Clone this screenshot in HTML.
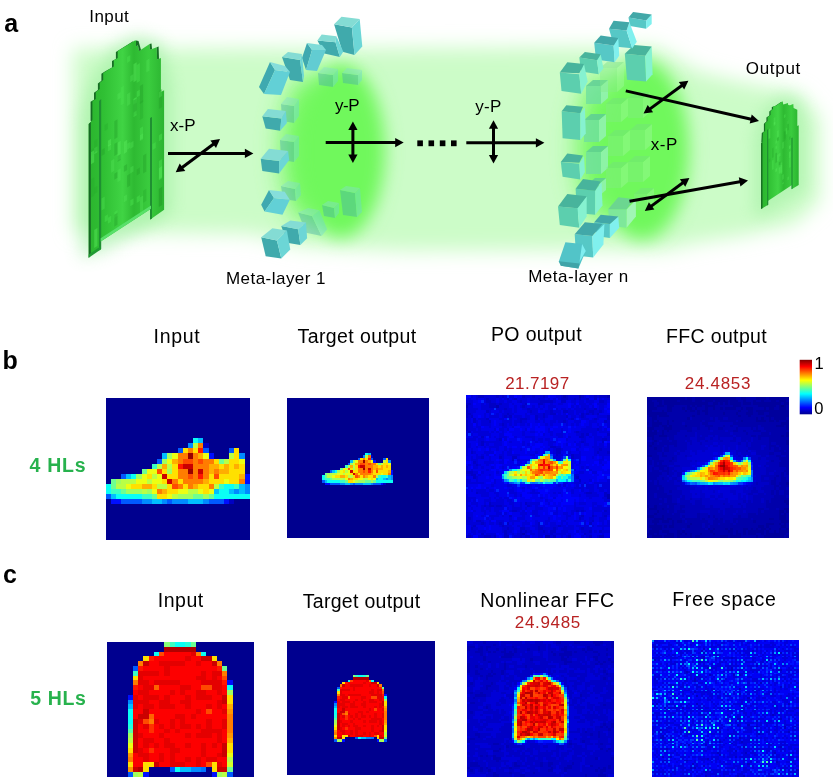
<!DOCTYPE html>
<html lang="en"><head><meta charset="utf-8"><title>Figure</title>
<style>
html,body{margin:0;padding:0;background:#fff}
svg{display:block}
text{font-family:"Liberation Sans",Arial,Helvetica,sans-serif;white-space:pre}
</style></head><body>
<svg width="833" height="782" viewBox="0 0 833 782">
<rect width="833" height="782" fill="#fff"/>
<defs>
<filter id="b9" x="-20%" y="-20%" width="140%" height="140%"><feGaussianBlur stdDeviation="9.5"/></filter>
<filter id="b6" x="-30%" y="-30%" width="160%" height="160%"><feGaussianBlur stdDeviation="8"/></filter>
<filter id="b12" x="-50%" y="-50%" width="200%" height="200%"><feGaussianBlur stdDeviation="8.5"/></filter>
<linearGradient id="jet" x1="0" y1="0" x2="0" y2="1">
<stop offset="0" stop-color="#800000"/><stop offset="0.125" stop-color="#ff0000"/><stop offset="0.375" stop-color="#ffff00"/><stop offset="0.625" stop-color="#00ffff"/><stop offset="0.875" stop-color="#0000ff"/><stop offset="1" stop-color="#00008f"/>
</linearGradient>
<linearGradient id="ing" x1="0" y1="0" x2="1" y2="0"><stop offset="0" stop-color="#2bb42e"/><stop offset="0.2" stop-color="#30c034"/><stop offset="0.45" stop-color="#40d444"/><stop offset="0.6" stop-color="#2eba32"/><stop offset="0.8" stop-color="#3acc3e"/><stop offset="1" stop-color="#2bb430"/></linearGradient>
<filter id="b14" x="-80%" y="-50%" width="260%" height="200%"><feGaussianBlur stdDeviation="13"/></filter>
<radialGradient id="blob"><stop offset="0" stop-color="#70f85c"/><stop offset="0.5" stop-color="#72f85e" stop-opacity="0.97"/><stop offset="0.68" stop-color="#78f864" stop-opacity="0.72"/><stop offset="0.82" stop-color="#80f86c" stop-opacity="0.36"/><stop offset="0.93" stop-color="#88f874" stop-opacity="0.09"/><stop offset="1" stop-color="#88f874" stop-opacity="0"/></radialGradient>
</defs>
<g filter="url(#b9)"><polygon points="73,49 655,47 700,72 740,82 800,94 820,118 820,200 795,224 740,236 700,242 665,250 400,251 300,246 250,234 73,232" fill="#ccfcc8"/></g>
<g filter="url(#b6)" opacity="0.45"><polygon points="80,118 90,82 114,46 136,34 162,42 172,86 172,212 154,224 104,252 80,258" fill="#8cea90"/></g>
<g filter="url(#b6)" opacity="0.4"><polygon points="754,138 762,112 782,93 801,100 806,126 806,190 768,214 754,218" fill="#8cea90"/></g>
<g filter="url(#b14)" opacity="0.95"><ellipse cx="309" cy="150" rx="29" ry="74" fill="#74f860"/></g>
<g filter="url(#b12)"><ellipse cx="341" cy="151" rx="44" ry="87" fill="#70f85c"/></g>
<g filter="url(#b14)" opacity="0.95"><ellipse cx="602" cy="148" rx="26" ry="74" fill="#74f860"/></g>
<g filter="url(#b12)"><ellipse cx="642" cy="150" rx="47" ry="90" fill="#70f85c"/></g>
<g opacity="0.4">
<polygon points="281,104 294,106 294,123 282,121" fill="#40aaac"/><polygon points="294,106 299,99 299,116 294,123" fill="#6cd6d6"/><polygon points="281,104 287,97 299,99 294,106" fill="#84dcd4"/>
<polygon points="280,140 294,142 294,162 281,160" fill="#40aaac"/><polygon points="294,142 299,136 299,156 294,162" fill="#6cd6d6"/><polygon points="280,140 286,134 299,136 294,142" fill="#84dcd4"/>
<polygon points="281,186 295,189 296,201 283,199" fill="#40aaac"/><polygon points="295,189 300,183 301,195 296,201" fill="#6cd6d6"/><polygon points="281,186 288,181 300,183 295,189" fill="#84dcd4"/>
<polygon points="322,205 334,208 335,218 324,216" fill="#40aaac"/><polygon points="334,208 339,203 339,213 335,218" fill="#6cd6d6"/><polygon points="322,205 328,201 339,203 334,208" fill="#84dcd4"/>
<polygon points="340,190 355,193 357,217 343,215" fill="#40aaac"/><polygon points="355,193 360,188 362,212 357,217" fill="#6cd6d6"/><polygon points="340,190 346,186 360,188 355,193" fill="#84dcd4"/>
<polygon points="298.1,212.5 312,216 321.6,236 306,232.7" fill="#40aaac"/><polygon points="312,216 319.4,210.3 327.2,229.3 321.6,236" fill="#6cd6d6"/><polygon points="298.1,212.5 308.2,208 319.4,210.3 312,216" fill="#84dcd4"/>
<polygon points="318,73 333,75 333,87 319,85" fill="#40aaac"/><polygon points="333,75 338,69 338,81 333,87" fill="#6cd6d6"/><polygon points="318,73 324,67 338,69 333,75" fill="#84dcd4"/>
<polygon points="342,73 358,75 358,85 343,83" fill="#40aaac"/><polygon points="358,75 362,70 362,80 358,85" fill="#6cd6d6"/><polygon points="342,73 347,68 362,70 358,75" fill="#84dcd4"/>
</g>
<polygon points="334.1,24.2 351.9,27.6 354.5,54.9 342.4,51.8" fill="#40aaac"/><polygon points="351.9,27.6 359.7,19 362.3,46.6 354.5,54.9" fill="#6cd6d6"/><polygon points="334.1,24.2 341.5,16.8 359.7,19 351.9,27.6" fill="#84dcd4"/>
<polygon points="317.4,40.6 335.5,42.3 339.8,57 324.3,53.5" fill="#40aaac"/><polygon points="335.5,42.3 336.4,36.3 343.3,51.8 339.8,57" fill="#6cd6d6"/><polygon points="317.4,40.6 321.7,34.5 336.4,36.3 335.5,42.3" fill="#84dcd4"/>
<polygon points="302,58 307,43 312,50 306,70" fill="#3fa9b0"/><polygon points="312,50 326,50 317,71 306,70" fill="#62ccd2"/><polygon points="307,43 322,45 326,50 312,50" fill="#7fdcd8"/>
<polygon points="282,57 300,60 303,82 290,80" fill="#40aaac"/><polygon points="300,60 302,54 304,76 303,82" fill="#6cd6d6"/><polygon points="282,57 288,52 302,54 300,60" fill="#84dcd4"/>
<polygon points="259,87 270,62 275,70 264,94" fill="#3fa9b0"/><polygon points="275,70 290,72 281,95 264,94" fill="#62d0d6"/><polygon points="270,62 285,66 290,72 275,70" fill="#86dedb"/>
<polygon points="262.3,116.3 281.3,118.5 280.2,130.8 265.7,128.6" fill="#40aaac"/><polygon points="281.3,118.5 285.8,111.1 286.9,123 280.2,130.8" fill="#6cd6d6"/><polygon points="262.3,116.3 267.9,108.9 285.8,111.1 281.3,118.5" fill="#84dcd4"/>
<polygon points="260.7,158.8 279.1,161 279.1,173.4 262.3,171.1" fill="#40aaac"/><polygon points="279.1,161 288.1,151 289.2,159.9 279.1,173.4" fill="#6cd6d6"/><polygon points="260.7,158.8 269,148.7 288.1,151 279.1,161" fill="#84dcd4"/>
<polygon points="261.2,204.7 269,190.1 274,198 264.6,211.4" fill="#3fa9b0"/><polygon points="274,198 289.8,199.8 282.5,214.8 264.6,211.4" fill="#62d0d6"/><polygon points="269,190.1 284.7,191.7 289.8,199.8 274,198" fill="#86dedb"/>
<polygon points="281.3,226 298.1,229.3 300.4,245 286.9,242.7" fill="#40aaac"/><polygon points="298.1,229.3 306,222.6 307.1,238.3 300.4,245" fill="#6cd6d6"/><polygon points="281.3,226 290.3,220.4 306,222.6 298.1,229.3" fill="#84dcd4"/>
<polygon points="261.2,237.2 276.9,240.5 281.3,258.4 265.7,256.2" fill="#40aaac"/><polygon points="276.9,240.5 286.9,230.4 290.3,249.5 281.3,258.4" fill="#6cd6d6"/><polygon points="261.2,237.2 272.4,228.2 286.9,230.4 276.9,240.5" fill="#84dcd4"/>
<g opacity="0.8">
<polygon points="586,86 601,86 601,104 586,104" fill="#70e0a0"/><polygon points="601,86 608,80 608,98 601,104" fill="#94f2b8"/><polygon points="586,86 593,80 608,80 601,86" fill="#5ccc98"/>
<polygon points="584,120 599,120 599,142 584,142" fill="#70e0a0"/><polygon points="599,120 606,114 606,136 599,142" fill="#94f2b8"/><polygon points="584,120 591,114 606,114 599,120" fill="#5ccc98"/>
<polygon points="586,152 601,152 601,174 586,174" fill="#70e0a0"/><polygon points="601,152 608,146 608,168 601,174" fill="#94f2b8"/><polygon points="586,152 593,146 608,146 601,152" fill="#5ccc98"/>
<polygon points="588,184 599,184 599,196 588,196" fill="#70e0a0"/><polygon points="599,184 606,178 606,190 599,196" fill="#94f2b8"/><polygon points="588,184 595,178 606,178 599,184" fill="#5ccc98"/>
</g>
<g opacity="0.38">
<polygon points="600,68 617,68 617,92 600,92" fill="#84ec88"/><polygon points="617,68 624,62 624,86 617,92" fill="#a4f8a4"/><polygon points="600,68 607,62 624,62 617,68" fill="#74dc84"/>
<polygon points="606,104 621,104 621,122 606,122" fill="#84ec88"/><polygon points="621,104 628,98 628,116 621,122" fill="#a4f8a4"/><polygon points="606,104 613,98 628,98 621,104" fill="#74dc84"/>
<polygon points="628,98 643,98 643,118 628,118" fill="#84ec88"/><polygon points="643,98 650,92 650,112 643,118" fill="#a4f8a4"/><polygon points="628,98 635,92 650,92 643,98" fill="#74dc84"/>
<polygon points="608,136 623,136 623,156 608,156" fill="#84ec88"/><polygon points="623,136 630,130 630,150 623,156" fill="#a4f8a4"/><polygon points="608,136 615,130 630,130 623,136" fill="#74dc84"/>
<polygon points="630,130 645,130 645,150 630,150" fill="#84ec88"/><polygon points="645,130 652,124 652,144 645,150" fill="#a4f8a4"/><polygon points="630,130 637,124 652,124 645,130" fill="#74dc84"/>
<polygon points="606,168 621,168 621,188 606,188" fill="#84ec88"/><polygon points="621,168 628,162 628,182 621,188" fill="#a4f8a4"/><polygon points="606,168 613,162 628,162 621,168" fill="#74dc84"/>
<polygon points="628,162 643,162 643,182 628,182" fill="#84ec88"/><polygon points="643,162 650,156 650,176 643,182" fill="#a4f8a4"/><polygon points="628,162 635,156 650,156 643,162" fill="#74dc84"/>
<polygon points="634,194 647,194 647,210 634,210" fill="#84ec88"/><polygon points="647,194 654,188 654,204 647,210" fill="#a4f8a4"/><polygon points="634,194 641,188 654,188 647,194" fill="#74dc84"/>
</g>
<polygon points="575.6,188.8 595.1,190.7 595.1,214.8 577,213" fill="#5ccfae"/><polygon points="595.1,190.7 601.6,182.3 602.5,205.5 595.1,214.8" fill="#86f2d0"/><polygon points="575.6,188.8 583,179 600.7,181.4 595.1,190.7" fill="#48b49c"/>
<polygon points="608.1,209.2 626.6,209.2 626.6,227.8 610,225.9" fill="#7ee89a"/><polygon points="626.6,209.2 635.9,199.9 635.9,216.6 626.6,227.8" fill="#a0f6b4"/><polygon points="608.1,209.2 618.3,197.2 634,199 626.6,209.2" fill="#6cd690"/>
<polygon points="624.8,53.8 645.2,55.7 646.1,81.6 627,79.8" fill="#5ccfae"/><polygon points="645.2,55.7 651.7,46.4 652.6,74.2 646.1,81.6" fill="#86f2d0"/><polygon points="624.8,53.8 634,45.1 651.7,46.4 645.2,55.7" fill="#48b49c"/>
<polygon points="628.5,17.6 646.1,20.4 646.1,28.8 630,26" fill="#56c8c6"/><polygon points="646.1,20.4 651.7,14.5 651.7,24.1 646.1,28.8" fill="#80f0ee"/><polygon points="628.5,17.6 633.1,12.1 651.7,14.5 646.1,20.4" fill="#42a8a8"/>
<polygon points="609,28.8 626.6,30.6 632.2,48.2 614,46.4" fill="#56c8c6"/><polygon points="626.6,30.6 629.4,22.3 636.8,41.7 632.2,48.6" fill="#80f0ee"/><polygon points="609,28.8 613.6,20.8 629.4,22.3 626.6,30.6" fill="#42a8a8"/>
<polygon points="594.2,42.7 613.6,45.5 614.6,62.2 596,59.4" fill="#56c8c6"/><polygon points="613.6,45.5 618.3,38 619.2,55.7 614.6,62.2" fill="#80f0ee"/><polygon points="594.2,42.7 600.7,35.6 618.3,38 613.6,45.5" fill="#42a8a8"/>
<polygon points="579.3,57.5 597,60.3 598.8,74.2 581,71.4" fill="#5ccfae"/><polygon points="597,60.3 600.7,54.2 603.4,68.6 598.8,74.2" fill="#86f2d0"/><polygon points="579.3,57.5 584.9,51.9 600.7,54.2 597,60.3" fill="#48b49c"/>
<polygon points="559.8,72.4 579.3,74.2 581.2,93.7 561.5,90.9" fill="#5ccfae"/><polygon points="579.3,74.2 584,64 587.7,81.6 581.2,93.7" fill="#86f2d0"/><polygon points="559.8,72.4 567.3,62.2 584,64 579.3,73.3" fill="#48b49c"/>
<polygon points="561.7,111.3 580.3,113.2 580.3,140 562.6,138.2" fill="#5ccfae"/><polygon points="580.3,113.2 584.9,107.6 585.8,133.6 580.3,140" fill="#86f2d0"/><polygon points="561.7,111.3 566.3,105.2 583,106.7 580.3,113.2" fill="#48b49c"/>
<polygon points="560.8,161.9 579.3,163.8 580.3,179.5 562.6,176.7" fill="#5ccfae"/><polygon points="579.3,163.8 584,156.3 584.9,172.1 580.3,179.5" fill="#86f2d0"/><polygon points="560.8,161.9 567.3,153.6 583,155.4 579.3,162.8" fill="#48b49c"/>
<polygon points="558,206.4 577.5,208.3 579.3,227.8 559.8,225" fill="#5ccfae"/><polygon points="577.5,208.3 586.7,196.2 586.7,216.6 579.3,227.8" fill="#86f2d0"/><polygon points="558,206.4 567.3,194 586.7,196.2 577.5,208.3" fill="#48b49c"/>
<polygon points="594.2,222.2 609.9,224.1 609.9,238 596,236" fill="#56c8c6"/><polygon points="609.9,224.1 618.3,216.6 619.2,227.8 609.9,238" fill="#80f0ee"/><polygon points="594.2,222.2 600.7,214.8 618.3,216.6 609.9,224.1" fill="#42a8a8"/>
<polygon points="574.7,234.3 592.3,236.1 593.2,257.4 576,255.6" fill="#56c8c6"/><polygon points="592.3,236.1 604.4,224.1 603.4,244.5 593.2,257.4" fill="#80f0ee"/><polygon points="574.7,234.3 584.9,222.2 602.5,224.1 592.3,236.1" fill="#42a8a8"/>
<polygon points="558.9,261.2 565.4,242.2 582.1,244.1 585.8,251 578.4,268.6 560.8,265.8" fill="#52c4c8"/>
<polygon points="579.5,262 582.1,244.1 585.8,251" fill="#7eeef0"/>
<polygon points="558.9,261.2 579.5,263.5 578.4,268.6 560.8,265.8" fill="#3fa4a8"/>
<polygon points="90.6,120.8 90.6,101.8 94,99.7 94,92.7 97.9,89.9 97.9,83.5 101.4,80.7 101.4,73.7 104.9,71.6 112,67.4 112,61 115.9,58.9 115.9,51.9 133.1,41.3 134.9,60 100,130 93,124" fill="#166d24"/>
<polygon points="88.7,124 92.4,120 92.4,101 95.8,98.9 95.8,91.9 99.7,89.1 99.7,82.7 103.2,79.9 103.2,72.9 106.7,70.8 113.8,66.6 113.8,60.2 117.7,58.1 117.7,51.1 134.9,40.5 136,40.5 136,46.2 137.9,45.2 139.1,51.1 149.6,44.1 149.9,49.7 156.7,47.2 157.1,59.5 160.9,58.1 160.9,91.9 164.1,90.2 164.1,209.8 151,219.1 151,208.7 100.7,241.5 100.7,249.5 93.3,252.8 88.7,257.8" fill="url(#ing)"/>
<polygon points="88.7,124 90.8,122 90.8,255.5 88.7,257.8" fill="#176a24"/>
<polygon points="99,101 101.2,99 101.2,249 99,250.3" fill="#1f8f32"/>
<polygon points="150,118 152,117 152,218.4 150,219.8" fill="#1f8f32"/>
<polygon points="88.7,257.8 100.7,249.5 100.7,246.3 88.7,254.5" fill="#1f9a32"/>
<polygon points="100.7,241.5 151,208.7 151,205.5 100.7,238.2" fill="#58e06a"/>
<polygon points="136,40.5 136,46.2 137.9,45.2 139.1,51.1 141,50 138.5,41" fill="#166d24"/>
<polygon points="149.6,44.1 149.9,49.7 152,49 151.5,43.5" fill="#166d24"/>
<polygon points="156.7,47.2 157.1,59.5 159,58.8 158.6,46.6" fill="#166d24"/>
<polygon points="761.3,142.5 761.8,133.1 763.9,131.5 763.9,123.7 766.4,121.5 766.4,117.5 769.3,115.6 769.3,111.5 771.8,109.5 771.8,107 774.7,106.2 781.4,101.7 782,115 770,146 763,143" fill="#166d24"/>
<polygon points="761.1,143.3 762.5,142 763,132.6 765.1,131 765.1,123.2 767.6,121 767.6,117 770.5,115.1 770.5,111 773,109 773,106.5 775.9,105.7 782.6,101.2 783.3,104.5 785,104 787.9,103 788.2,105 790,105.3 793.3,103.9 793.6,108 797.3,109.8 797.3,125.9 798.7,125.2 798.7,184.9 792,189 792,184.9 767.8,201 767.8,205 761.1,209" fill="url(#ing)"/>
<polygon points="761.1,143.3 762.5,142.3 762.5,208.2 761.1,209" fill="#176a24"/>
<polygon points="767,130 768.3,129 768.3,204.7 767,205.4" fill="#1f8f32"/>
<polygon points="791.4,138 792.6,137.4 792.6,188.6 791.4,189.3" fill="#1f8f32"/>
<polygon points="130.3,167.6 133.5,165.6 133.5,171.6 130.3,173.6" fill="#58ec5c" opacity="0.3"/><polygon points="136.7,91.4 139.9,89.4 139.9,95.4 136.7,97.4" fill="#48e04c" opacity="0.5"/><polygon points="107.9,145.6 111.1,143.6 111.1,149.6 107.9,151.6" fill="#58ec5c" opacity="0.3"/><polygon points="127.1,143.8 130.3,141.8 130.3,147.8 127.1,149.8" fill="#48e04c" opacity="0.5"/><polygon points="120.7,87.5 123.9,85.4 123.9,103.4 120.7,105.5" fill="#48e04c" opacity="0.5"/><polygon points="136.7,65.1 139.9,63.1 139.9,81.1 136.7,83.1" fill="#48e04c" opacity="0.5"/><polygon points="107.9,217.8 111.1,215.8 111.1,221.8 107.9,223.8" fill="#48e04c" opacity="0.5"/><polygon points="136.7,197.1 139.9,195.1 139.9,201.1 136.7,203.1" fill="#48e04c" opacity="0.5"/><polygon points="114.3,212 117.5,209.9 117.5,215.9 114.3,218" fill="#48e04c" opacity="0.5"/><polygon points="143.1,155.6 146.3,153.6 146.3,171.6 143.1,173.6" fill="#24a028" opacity="0.4"/><polygon points="101.5,150.1 104.7,148.1 104.7,154.1 101.5,156.1" fill="#24a028" opacity="0.4"/><polygon points="104.7,124.9 107.9,122.9 107.9,128.9 104.7,130.9" fill="#26a82a" opacity="0.35"/><polygon points="133.5,103.7 136.7,101.6 136.7,113.6 133.5,115.7" fill="#24a028" opacity="0.4"/><polygon points="139.9,128.2 143.1,126.2 143.1,138.2 139.9,140.2" fill="#48e04c" opacity="0.5"/><polygon points="123.9,165.9 127.1,163.9 127.1,169.9 123.9,171.9" fill="#24a028" opacity="0.4"/><polygon points="146.3,60.4 149.5,58.4 149.5,70.4 146.3,72.4" fill="#58ec5c" opacity="0.3"/><polygon points="101.5,198.5 104.7,196.4 104.7,208.4 101.5,210.5" fill="#58ec5c" opacity="0.3"/><polygon points="127.1,57 130.3,55 130.3,61 127.1,63" fill="#48e04c" opacity="0.5"/><polygon points="130.3,200.2 133.5,198.2 133.5,204.2 130.3,206.2" fill="#48e04c" opacity="0.5"/><polygon points="143.1,190.8 146.3,188.7 146.3,200.7 143.1,202.8" fill="#26a82a" opacity="0.35"/><polygon points="117.5,142.7 120.7,140.7 120.7,158.7 117.5,160.7" fill="#58ec5c" opacity="0.45"/><polygon points="127.1,175.6 130.3,173.6 130.3,185.6 127.1,187.6" fill="#24a028" opacity="0.4"/><polygon points="104.7,216.2 107.9,214.2 107.9,220.2 104.7,222.2" fill="#48e04c" opacity="0.5"/><polygon points="117.5,155.9 120.7,153.9 120.7,159.9 117.5,161.9" fill="#24a028" opacity="0.4"/><polygon points="114.3,173.8 117.5,171.8 117.5,177.8 114.3,179.8" fill="#24a028" opacity="0.4"/><polygon points="133.5,98.8 136.7,96.8 136.7,102.8 133.5,104.8" fill="#48e04c" opacity="0.5"/><polygon points="133.5,99.3 136.7,97.3 136.7,115.3 133.5,117.3" fill="#48e04c" opacity="0.5"/><polygon points="133.5,64.3 136.7,62.3 136.7,80.3 133.5,82.3" fill="#58ec5c" opacity="0.45"/><polygon points="111.1,160.7 114.3,158.7 114.3,170.7 111.1,172.7" fill="#58ec5c" opacity="0.3"/><polygon points="130.3,76.1 133.5,74.1 133.5,80.1 130.3,82.1" fill="#58ec5c" opacity="0.3"/><polygon points="117.5,94 120.7,92 120.7,98 117.5,100" fill="#58ec5c" opacity="0.3"/><polygon points="107.9,140.7 111.1,138.7 111.1,144.7 107.9,146.7" fill="#58ec5c" opacity="0.45"/><polygon points="139.9,102.1 143.1,100.1 143.1,118.1 139.9,120.1" fill="#26a82a" opacity="0.35"/><polygon points="139.9,197.6 143.1,195.6 143.1,213.6 139.9,215.6" fill="#58ec5c" opacity="0.3"/><polygon points="133.5,100.6 136.7,98.5 136.7,110.5 133.5,112.6" fill="#24a028" opacity="0.4"/><polygon points="123.9,196.3 127.1,194.3 127.1,200.3 123.9,202.3" fill="#58ec5c" opacity="0.3"/><polygon points="139.9,135.3 143.1,133.3 143.1,139.3 139.9,141.3" fill="#58ec5c" opacity="0.3"/><polygon points="139.9,86 143.1,84 143.1,102 139.9,104" fill="#24a028" opacity="0.4"/><polygon points="123.9,141.9 127.1,139.8 127.1,151.8 123.9,153.9" fill="#58ec5c" opacity="0.45"/><polygon points="136.7,169.6 139.9,167.6 139.9,173.6 136.7,175.6" fill="#24a028" opacity="0.4"/><polygon points="117.5,170.2 120.7,168.2 120.7,180.2 117.5,182.2" fill="#58ec5c" opacity="0.3"/><polygon points="114.3,214.8 117.5,212.8 117.5,224.8 114.3,226.8" fill="#24a028" opacity="0.4"/><polygon points="130.3,142.9 133.5,140.8 133.5,146.8 130.3,148.9" fill="#58ec5c" opacity="0.3"/><polygon points="127.1,94.2 130.3,92.1 130.3,104.1 127.1,106.2" fill="#58ec5c" opacity="0.3"/><polygon points="114.3,144 117.5,142 117.5,154 114.3,156" fill="#24a028" opacity="0.4"/><polygon points="114.3,121.2 117.5,119.2 117.5,137.2 114.3,139.2" fill="#24a028" opacity="0.4"/>
<polygon points="158.9,91.1 162.1,89.1 162.1,107.1 158.9,109.1" fill="#24a028" opacity="0.4"/><polygon points="158.9,135.3 162.1,133.3 162.1,139.3 158.9,141.3" fill="#48e04c" opacity="0.5"/><polygon points="158.9,189 162.1,187 162.1,205 158.9,207" fill="#24a028" opacity="0.4"/><polygon points="158.9,161.1 162.1,159.1 162.1,177.1 158.9,179.1" fill="#48e04c" opacity="0.5"/><polygon points="158.9,188.8 162.1,186.8 162.1,204.8 158.9,206.8" fill="#24a028" opacity="0.4"/><polygon points="158.9,168.2 162.1,166.1 162.1,178.1 158.9,180.2" fill="#58ec5c" opacity="0.45"/><polygon points="152.5,144.1 155.7,142 155.7,148 152.5,150.1" fill="#48e04c" opacity="0.5"/><polygon points="158.9,92.1 162.1,90.1 162.1,96.1 158.9,98.1" fill="#58ec5c" opacity="0.3"/>
<polygon points="94.2,148.2 97.4,146.2 97.4,152.2 94.2,154.2" fill="#58ec5c" opacity="0.45"/><polygon points="91,149.9 94.2,147.9 94.2,153.9 91,155.9" fill="#26a82a" opacity="0.35"/><polygon points="91,179.4 94.2,177.4 94.2,195.4 91,197.4" fill="#26a82a" opacity="0.35"/><polygon points="91,152.3 94.2,150.2 94.2,162.2 91,164.3" fill="#58ec5c" opacity="0.45"/><polygon points="94.2,230 97.4,228 97.4,246 94.2,248" fill="#58ec5c" opacity="0.45"/><polygon points="94.2,187.9 97.4,185.9 97.4,191.9 94.2,193.9" fill="#26a82a" opacity="0.35"/><polygon points="94.2,140.9 97.4,138.8 97.4,150.8 94.2,152.9" fill="#26a82a" opacity="0.35"/>
<polygon points="775.4,140.9 777.1,139.8 777.1,143 775.4,144.1" fill="#58ec5c" opacity="0.3"/><polygon points="777.1,155 778.8,153.9 778.8,160.3 777.1,161.4" fill="#58ec5c" opacity="0.3"/><polygon points="772,160.4 773.7,159.4 773.7,169 772,170" fill="#48e04c" opacity="0.5"/><polygon points="789,152.1 790.7,151 790.7,157.4 789,158.5" fill="#58ec5c" opacity="0.45"/><polygon points="777.1,138.1 778.8,137 778.8,140.2 777.1,141.3" fill="#24a028" opacity="0.4"/><polygon points="782.2,174.9 783.9,173.9 783.9,183.5 782.2,184.5" fill="#58ec5c" opacity="0.3"/><polygon points="777.1,131 778.8,129.9 778.8,136.3 777.1,137.4" fill="#58ec5c" opacity="0.3"/><polygon points="789,136.9 790.7,135.8 790.7,139 789,140.1" fill="#26a82a" opacity="0.35"/><polygon points="780.5,165.4 782.2,164.4 782.2,170.8 780.5,171.8" fill="#58ec5c" opacity="0.3"/><polygon points="773.7,118.1 775.4,117.1 775.4,123.5 773.7,124.5" fill="#58ec5c" opacity="0.3"/><polygon points="787.3,121.3 789,120.2 789,123.4 787.3,124.5" fill="#58ec5c" opacity="0.45"/><polygon points="782.2,179.9 783.9,178.8 783.9,182 782.2,183.1" fill="#24a028" opacity="0.4"/><polygon points="768.6,129.4 770.3,128.3 770.3,137.9 768.6,139" fill="#58ec5c" opacity="0.45"/><polygon points="778.8,153.7 780.5,152.6 780.5,155.8 778.8,156.9" fill="#58ec5c" opacity="0.3"/><polygon points="785.6,128.5 787.3,127.4 787.3,133.8 785.6,134.9" fill="#48e04c" opacity="0.5"/><polygon points="783.9,131.6 785.6,130.5 785.6,140.1 783.9,141.2" fill="#26a82a" opacity="0.35"/><polygon points="789,146.1 790.7,145 790.7,148.2 789,149.3" fill="#58ec5c" opacity="0.45"/><polygon points="783.9,132.6 785.6,131.5 785.6,137.9 783.9,139" fill="#26a82a" opacity="0.35"/><polygon points="775.4,153.6 777.1,152.5 777.1,162.1 775.4,163.2" fill="#24a028" opacity="0.4"/><polygon points="775.4,169 777.1,167.9 777.1,171.1 775.4,172.2" fill="#58ec5c" opacity="0.45"/><polygon points="768.6,159.4 770.3,158.4 770.3,161.6 768.6,162.6" fill="#26a82a" opacity="0.35"/><polygon points="772,148.5 773.7,147.4 773.7,157 772,158.1" fill="#26a82a" opacity="0.35"/><polygon points="780.5,163.1 782.2,162 782.2,171.6 780.5,172.7" fill="#58ec5c" opacity="0.3"/><polygon points="778.8,162.3 780.5,161.3 780.5,164.5 778.8,165.5" fill="#24a028" opacity="0.4"/><polygon points="778.8,167.7 780.5,166.7 780.5,173.1 778.8,174.1" fill="#58ec5c" opacity="0.45"/><polygon points="782.2,142.6 783.9,141.5 783.9,147.9 782.2,149" fill="#58ec5c" opacity="0.3"/><polygon points="787.3,121.2 789,120.2 789,129.8 787.3,130.8" fill="#26a82a" opacity="0.35"/><polygon points="787.3,177.4 789,176.3 789,179.5 787.3,180.6" fill="#58ec5c" opacity="0.3"/><polygon points="780.5,170.4 782.2,169.4 782.2,172.6 780.5,173.6" fill="#48e04c" opacity="0.5"/><polygon points="773.7,122.8 775.4,121.8 775.4,125 773.7,126" fill="#58ec5c" opacity="0.45"/><polygon points="775.4,146.4 777.1,145.4 777.1,148.6 775.4,149.6" fill="#58ec5c" opacity="0.3"/><polygon points="783.9,115 785.6,113.9 785.6,117.1 783.9,118.2" fill="#48e04c" opacity="0.5"/><polygon points="780.5,171.3 782.2,170.3 782.2,173.5 780.5,174.5" fill="#48e04c" opacity="0.5"/><polygon points="789,158.5 790.7,157.5 790.7,167.1 789,168.1" fill="#48e04c" opacity="0.5"/>
<line x1="168" y1="153.4" x2="246.6" y2="153.4" stroke="#000" stroke-width="3"/><polygon points="253.4,153.4 244.9,158 244.9,148.8" fill="#000"/>
<line x1="181.1" y1="168.2" x2="214.6" y2="143.2" stroke="#000" stroke-width="3"/><polygon points="220,139.1 216,147.9 210.4,140.5" fill="#000"/><polygon points="175.7,172.3 185.3,170.9 179.7,163.5" fill="#000"/>
<line x1="325.7" y1="142.6" x2="396.9" y2="142.6" stroke="#000" stroke-width="3"/><polygon points="403.7,142.6 395.2,147.2 395.2,138" fill="#000"/>
<line x1="352.9" y1="128.2" x2="352.9" y2="156.2" stroke="#000" stroke-width="3"/><polygon points="352.9,163 348.3,154.5 357.5,154.5" fill="#000"/><polygon points="352.9,121.4 348.3,129.9 357.5,129.9" fill="#000"/>
<line x1="466.3" y1="142.8" x2="537.6" y2="142.8" stroke="#000" stroke-width="3"/><polygon points="544.4,142.8 535.9,147.4 535.9,138.2" fill="#000"/>
<line x1="493.5" y1="127.1" x2="493.5" y2="156.8" stroke="#000" stroke-width="3"/><polygon points="493.5,163.6 488.9,155.1 498.1,155.1" fill="#000"/><polygon points="493.5,120.3 488.9,128.8 498.1,128.8" fill="#000"/>
<line x1="625.8" y1="90.9" x2="752.4" y2="119.5" stroke="#000" stroke-width="3"/><polygon points="759,121 749.7,123.6 751.7,114.6" fill="#000"/>
<line x1="629.5" y1="201.2" x2="741.3" y2="181.6" stroke="#000" stroke-width="3"/><polygon points="748,180.4 740.4,186.4 738.8,177.3" fill="#000"/>
<line x1="649" y1="109.6" x2="682.9" y2="84.8" stroke="#000" stroke-width="3"/><polygon points="688.4,80.8 684.2,89.5 678.8,82.1" fill="#000"/><polygon points="643.5,113.6 653.1,112.3 647.7,104.9" fill="#000"/>
<line x1="650.3" y1="206.9" x2="683.9" y2="182" stroke="#000" stroke-width="3"/><polygon points="689.4,178 685.3,186.7 679.8,179.3" fill="#000"/><polygon points="644.8,210.9 654.4,209.6 648.9,202.2" fill="#000"/>
<rect x="417.3" y="140.4" width="5.6" height="5.8" fill="#000"/>
<rect x="428.5" y="140.4" width="5.6" height="5.8" fill="#000"/>
<rect x="439.8" y="140.4" width="5.6" height="5.8" fill="#000"/>
<rect x="451" y="140.4" width="5.6" height="5.8" fill="#000"/>
<rect x="799.7" y="359.8" width="12.3" height="54.5" fill="url(#jet)"/>
<g shape-rendering="crispEdges">
<rect x="105.5" y="397.6" width="144.2" height="142.1" fill="#00008f"/>
<path fill="#0000c2" d="M203.35 443.28H208.5V448.35H203.35zM229.1 499.1H234.25V504.18H229.1z"/>
<path fill="#000eff" d="M208.5 453.43H213.65V458.5H208.5zM244.55 473.73H249.7V478.8H244.55zM244.55 478.8H249.7V483.88H244.55zM110.65 499.1H120.95V504.18H110.65zM223.95 499.1H229.1V504.18H223.95z"/>
<path fill="#0059ff" d="M177.6 448.35H182.75V453.43H177.6zM203.35 448.35H208.5V453.43H203.35zM229.1 448.35H234.25V453.43H229.1zM157 458.5H162.15V463.58H157zM120.95 473.73H126.1V478.8H120.95zM105.5 494.03H110.65V499.1H105.5zM120.95 499.1H141.55V504.18H120.95zM167.3 499.1H172.45V504.18H167.3zM208.5 499.1H223.95V504.18H208.5z"/>
<path fill="#008bff" d="M187.9 443.28H193.05V448.35H187.9zM239.4 453.43H244.55V458.5H239.4zM244.55 483.88H249.7V488.95H244.55zM234.25 488.95H239.4V494.03H234.25zM244.55 488.95H249.7V494.03H244.55zM141.55 499.1H151.85V504.18H141.55zM162.15 499.1H167.3V504.18H162.15zM172.45 499.1H187.9V504.18H172.45zM203.35 499.1H208.5V504.18H203.35z"/>
<path fill="#00beff" d="M198.2 438.2H203.35V443.28H198.2zM162.15 453.43H167.3V458.5H162.15zM126.1 473.73H131.25V478.8H126.1zM239.4 483.88H244.55V488.95H239.4zM213.65 488.95H218.8V494.03H213.65zM229.1 488.95H234.25V494.03H229.1zM239.4 488.95H244.55V494.03H239.4zM110.65 494.03H115.8V499.1H110.65zM151.85 499.1H162.15V504.18H151.85zM187.9 499.1H203.35V504.18H187.9z"/>
<path fill="#0afff5" d="M193.05 438.2H198.2V443.28H193.05zM131.25 473.73H136.4V478.8H131.25zM105.5 483.88H110.65V488.95H105.5zM223.95 483.88H234.25V488.95H223.95zM105.5 488.95H110.65V494.03H105.5zM218.8 488.95H229.1V494.03H218.8zM115.8 494.03H141.55V499.1H115.8zM213.65 494.03H249.7V499.1H213.65z"/>
<path fill="#3cffc3" d="M151.85 463.58H157V468.65H151.85zM218.8 483.88H223.95V488.95H218.8zM234.25 483.88H239.4V488.95H234.25zM110.65 488.95H120.95V494.03H110.65zM141.55 494.03H151.85V499.1H141.55z"/>
<path fill="#6eff91" d="M218.8 458.5H223.95V463.58H218.8zM141.55 468.65H146.7V473.73H141.55zM110.65 478.8H115.8V483.88H110.65zM110.65 483.88H115.8V488.95H110.65zM120.95 488.95H126.1V494.03H120.95zM151.85 494.03H157V499.1H151.85zM193.05 494.03H203.35V499.1H193.05zM208.5 494.03H213.65V499.1H208.5z"/>
<path fill="#a0ff5f" d="M167.3 453.43H172.45V458.5H167.3zM162.15 458.5H167.3V463.58H162.15zM167.3 468.65H172.45V473.73H167.3zM136.4 473.73H141.55V478.8H136.4zM115.8 478.8H120.95V483.88H115.8zM126.1 488.95H141.55V494.03H126.1zM146.7 488.95H151.85V494.03H146.7zM177.6 494.03H193.05V499.1H177.6zM203.35 494.03H208.5V499.1H203.35z"/>
<path fill="#b9ff46" d="M193.05 443.28H198.2V448.35H193.05zM229.1 453.43H234.25V458.5H229.1zM223.95 458.5H229.1V463.58H223.95zM157 463.58H162.15V468.65H157zM167.3 463.58H172.45V468.65H167.3zM151.85 473.73H157V478.8H151.85zM120.95 478.8H136.4V483.88H120.95zM146.7 478.8H151.85V483.88H146.7zM115.8 483.88H126.1V488.95H115.8zM157 483.88H167.3V488.95H157zM213.65 483.88H218.8V488.95H213.65zM141.55 488.95H146.7V494.03H141.55zM187.9 488.95H198.2V494.03H187.9zM172.45 494.03H177.6V499.1H172.45z"/>
<path fill="#ecff13" d="M172.45 453.43H177.6V458.5H172.45zM203.35 453.43H208.5V458.5H203.35zM167.3 458.5H172.45V463.58H167.3zM239.4 458.5H244.55V463.58H239.4zM146.7 468.65H157V473.73H146.7zM141.55 473.73H146.7V478.8H141.55zM157 473.73H162.15V478.8H157zM136.4 478.8H146.7V483.88H136.4zM151.85 478.8H162.15V483.88H151.85zM223.95 478.8H229.1V483.88H223.95zM126.1 483.88H131.25V488.95H126.1zM151.85 488.95H157V494.03H151.85zM177.6 488.95H187.9V494.03H177.6zM198.2 488.95H203.35V494.03H198.2zM208.5 488.95H213.65V494.03H208.5zM167.3 494.03H172.45V499.1H167.3z"/>
<path fill="#ffe000" d="M182.75 448.35H187.9V453.43H182.75zM193.05 448.35H198.2V453.43H193.05zM234.25 448.35H239.4V453.43H234.25zM234.25 453.43H239.4V458.5H234.25zM213.65 458.5H218.8V463.58H213.65zM229.1 458.5H239.4V463.58H229.1zM172.45 463.58H177.6V468.65H172.45zM218.8 463.58H223.95V468.65H218.8zM229.1 463.58H234.25V468.65H229.1zM239.4 463.58H244.55V468.65H239.4zM162.15 468.65H167.3V473.73H162.15zM172.45 468.65H177.6V473.73H172.45zM229.1 468.65H244.55V473.73H229.1zM146.7 473.73H151.85V478.8H146.7zM167.3 473.73H177.6V478.8H167.3zM208.5 473.73H213.65V478.8H208.5zM218.8 473.73H239.4V478.8H218.8zM162.15 478.8H167.3V483.88H162.15zM177.6 478.8H182.75V483.88H177.6zM208.5 478.8H223.95V483.88H208.5zM229.1 478.8H239.4V483.88H229.1zM131.25 483.88H141.55V488.95H131.25zM151.85 483.88H157V488.95H151.85zM167.3 483.88H172.45V488.95H167.3zM182.75 483.88H187.9V488.95H182.75zM198.2 483.88H208.5V488.95H198.2zM167.3 488.95H177.6V494.03H167.3zM203.35 488.95H208.5V494.03H203.35zM157 494.03H167.3V499.1H157z"/>
<path fill="#ffae00" d="M198.2 453.43H203.35V458.5H198.2zM172.45 458.5H177.6V463.58H172.45zM162.15 463.58H167.3V468.65H162.15zM208.5 463.58H218.8V468.65H208.5zM223.95 463.58H229.1V468.65H223.95zM234.25 463.58H239.4V468.65H234.25zM208.5 468.65H213.65V473.73H208.5zM218.8 468.65H229.1V473.73H218.8zM239.4 473.73H244.55V478.8H239.4zM203.35 478.8H208.5V483.88H203.35zM141.55 483.88H151.85V488.95H141.55zM193.05 483.88H198.2V488.95H193.05zM162.15 488.95H167.3V494.03H162.15z"/>
<path fill="#ff7c00" d="M198.2 443.28H203.35V448.35H198.2zM187.9 448.35H193.05V453.43H187.9zM177.6 453.43H187.9V458.5H177.6zM193.05 453.43H198.2V458.5H193.05zM177.6 458.5H182.75V463.58H177.6zM193.05 458.5H198.2V463.58H193.05zM203.35 458.5H213.65V463.58H203.35zM193.05 463.58H208.5V468.65H193.05zM177.6 468.65H187.9V473.73H177.6zM193.05 468.65H198.2V473.73H193.05zM203.35 468.65H208.5V473.73H203.35zM213.65 468.65H218.8V473.73H213.65zM177.6 473.73H187.9V478.8H177.6zM193.05 473.73H198.2V478.8H193.05zM203.35 473.73H208.5V478.8H203.35zM172.45 478.8H177.6V483.88H172.45zM182.75 478.8H203.35V483.88H182.75zM239.4 478.8H244.55V483.88H239.4zM177.6 483.88H182.75V488.95H177.6zM187.9 483.88H193.05V488.95H187.9zM208.5 483.88H213.65V488.95H208.5zM157 488.95H162.15V494.03H157z"/>
<path fill="#ff4a00" d="M182.75 458.5H193.05V463.58H182.75zM198.2 458.5H203.35V463.58H198.2zM157 468.65H162.15V473.73H157zM187.9 473.73H193.05V478.8H187.9zM213.65 473.73H218.8V478.8H213.65zM172.45 483.88H177.6V488.95H172.45z"/>
<path fill="#ff1700" d="M198.2 448.35H203.35V453.43H198.2zM177.6 463.58H182.75V468.65H177.6zM198.2 473.73H203.35V478.8H198.2z"/>
<path fill="#cb0000" d="M182.75 463.58H193.05V468.65H182.75zM198.2 468.65H203.35V473.73H198.2zM162.15 473.73H167.3V478.8H162.15zM167.3 478.8H172.45V483.88H167.3z"/>
<path fill="#990000" d="M187.9 453.43H193.05V458.5H187.9zM187.9 468.65H193.05V473.73H187.9z"/>
</g>
<g shape-rendering="crispEdges">
<rect x="286.6" y="397.6" width="142.4" height="140" fill="#00008f"/>
<path fill="#0000c2" d="M370.51 455.1H373.06V457.6H370.51zM383.23 482.6H385.77V485.1H383.23z"/>
<path fill="#000eff" d="M373.06 460.1H375.6V462.6H373.06zM390.86 470.1H393.4V472.6H390.86zM390.86 472.6H393.4V475.1H390.86zM324.74 482.6H329.83V485.1H324.74zM380.69 482.6H383.23V485.1H380.69z"/>
<path fill="#0059ff" d="M357.8 457.6H360.34V460.1H357.8zM370.51 457.6H373.06V460.1H370.51zM383.23 457.6H385.77V460.1H383.23zM347.63 462.6H350.17V465.1H347.63zM329.83 470.1H332.37V472.6H329.83zM322.2 480.1H324.74V482.6H322.2zM329.83 482.6H340V485.1H329.83zM352.71 482.6H355.26V485.1H352.71zM373.06 482.6H380.69V485.1H373.06z"/>
<path fill="#008bff" d="M362.89 455.1H365.43V457.6H362.89zM388.31 460.1H390.86V462.6H388.31zM390.86 475.1H393.4V477.6H390.86zM385.77 477.6H388.31V480.1H385.77zM390.86 477.6H393.4V480.1H390.86zM340 482.6H345.09V485.1H340zM350.17 482.6H352.71V485.1H350.17zM355.26 482.6H362.89V485.1H355.26zM370.51 482.6H373.06V485.1H370.51z"/>
<path fill="#00beff" d="M367.97 452.6H370.51V455.1H367.97zM350.17 460.1H352.71V462.6H350.17zM332.37 470.1H334.91V472.6H332.37zM388.31 475.1H390.86V477.6H388.31zM375.6 477.6H378.14V480.1H375.6zM383.23 477.6H385.77V480.1H383.23zM388.31 477.6H390.86V480.1H388.31zM324.74 480.1H327.29V482.6H324.74zM345.09 482.6H350.17V485.1H345.09zM362.89 482.6H370.51V485.1H362.89z"/>
<path fill="#0afff5" d="M365.43 452.6H367.97V455.1H365.43zM334.91 470.1H337.46V472.6H334.91zM322.2 475.1H324.74V477.6H322.2zM380.69 475.1H385.77V477.6H380.69zM322.2 477.6H324.74V480.1H322.2zM378.14 477.6H383.23V480.1H378.14zM327.29 480.1H340V482.6H327.29zM375.6 480.1H393.4V482.6H375.6z"/>
<path fill="#3cffc3" d="M345.09 465.1H347.63V467.6H345.09zM378.14 475.1H380.69V477.6H378.14zM385.77 475.1H388.31V477.6H385.77zM324.74 477.6H329.83V480.1H324.74zM340 480.1H345.09V482.6H340z"/>
<path fill="#6eff91" d="M378.14 462.6H380.69V465.1H378.14zM340 467.6H342.54V470.1H340zM324.74 472.6H327.29V475.1H324.74zM324.74 475.1H327.29V477.6H324.74zM329.83 477.6H332.37V480.1H329.83zM345.09 480.1H347.63V482.6H345.09zM365.43 480.1H370.51V482.6H365.43zM373.06 480.1H375.6V482.6H373.06z"/>
<path fill="#a0ff5f" d="M352.71 460.1H355.26V462.6H352.71zM350.17 462.6H352.71V465.1H350.17zM352.71 467.6H355.26V470.1H352.71zM337.46 470.1H340V472.6H337.46zM327.29 472.6H329.83V475.1H327.29zM332.37 477.6H340V480.1H332.37zM342.54 477.6H345.09V480.1H342.54zM357.8 480.1H365.43V482.6H357.8zM370.51 480.1H373.06V482.6H370.51z"/>
<path fill="#b9ff46" d="M365.43 455.1H367.97V457.6H365.43zM383.23 460.1H385.77V462.6H383.23zM380.69 462.6H383.23V465.1H380.69zM347.63 465.1H350.17V467.6H347.63zM352.71 465.1H355.26V467.6H352.71zM345.09 470.1H347.63V472.6H345.09zM329.83 472.6H337.46V475.1H329.83zM342.54 472.6H345.09V475.1H342.54zM327.29 475.1H332.37V477.6H327.29zM347.63 475.1H352.71V477.6H347.63zM375.6 475.1H378.14V477.6H375.6zM340 477.6H342.54V480.1H340zM362.89 477.6H367.97V480.1H362.89zM355.26 480.1H357.8V482.6H355.26z"/>
<path fill="#ecff13" d="M355.26 460.1H357.8V462.6H355.26zM370.51 460.1H373.06V462.6H370.51zM352.71 462.6H355.26V465.1H352.71zM388.31 462.6H390.86V465.1H388.31zM342.54 467.6H347.63V470.1H342.54zM340 470.1H342.54V472.6H340zM347.63 470.1H350.17V472.6H347.63zM337.46 472.6H342.54V475.1H337.46zM345.09 472.6H350.17V475.1H345.09zM380.69 472.6H383.23V475.1H380.69zM332.37 475.1H334.91V477.6H332.37zM345.09 477.6H347.63V480.1H345.09zM357.8 477.6H362.89V480.1H357.8zM367.97 477.6H370.51V480.1H367.97zM373.06 477.6H375.6V480.1H373.06zM352.71 480.1H355.26V482.6H352.71z"/>
<path fill="#ffe000" d="M360.34 457.6H362.89V460.1H360.34zM365.43 457.6H367.97V460.1H365.43zM385.77 457.6H388.31V460.1H385.77zM385.77 460.1H388.31V462.6H385.77zM375.6 462.6H378.14V465.1H375.6zM383.23 462.6H388.31V465.1H383.23zM355.26 465.1H357.8V467.6H355.26zM378.14 465.1H380.69V467.6H378.14zM383.23 465.1H385.77V467.6H383.23zM388.31 465.1H390.86V467.6H388.31zM350.17 467.6H352.71V470.1H350.17zM355.26 467.6H357.8V470.1H355.26zM383.23 467.6H390.86V470.1H383.23zM342.54 470.1H345.09V472.6H342.54zM352.71 470.1H357.8V472.6H352.71zM373.06 470.1H375.6V472.6H373.06zM378.14 470.1H388.31V472.6H378.14zM350.17 472.6H352.71V475.1H350.17zM357.8 472.6H360.34V475.1H357.8zM373.06 472.6H380.69V475.1H373.06zM383.23 472.6H388.31V475.1H383.23zM334.91 475.1H340V477.6H334.91zM345.09 475.1H347.63V477.6H345.09zM352.71 475.1H355.26V477.6H352.71zM360.34 475.1H362.89V477.6H360.34zM367.97 475.1H373.06V477.6H367.97zM352.71 477.6H357.8V480.1H352.71zM370.51 477.6H373.06V480.1H370.51zM347.63 480.1H352.71V482.6H347.63z"/>
<path fill="#ffae00" d="M367.97 460.1H370.51V462.6H367.97zM355.26 462.6H357.8V465.1H355.26zM350.17 465.1H352.71V467.6H350.17zM373.06 465.1H378.14V467.6H373.06zM380.69 465.1H383.23V467.6H380.69zM385.77 465.1H388.31V467.6H385.77zM373.06 467.6H375.6V470.1H373.06zM378.14 467.6H383.23V470.1H378.14zM388.31 470.1H390.86V472.6H388.31zM370.51 472.6H373.06V475.1H370.51zM340 475.1H345.09V477.6H340zM365.43 475.1H367.97V477.6H365.43zM350.17 477.6H352.71V480.1H350.17z"/>
<path fill="#ff7c00" d="M367.97 455.1H370.51V457.6H367.97zM362.89 457.6H365.43V460.1H362.89zM357.8 460.1H362.89V462.6H357.8zM365.43 460.1H367.97V462.6H365.43zM357.8 462.6H360.34V465.1H357.8zM365.43 462.6H367.97V465.1H365.43zM370.51 462.6H375.6V465.1H370.51zM365.43 465.1H373.06V467.6H365.43zM357.8 467.6H362.89V470.1H357.8zM365.43 467.6H367.97V470.1H365.43zM370.51 467.6H373.06V470.1H370.51zM375.6 467.6H378.14V470.1H375.6zM357.8 470.1H362.89V472.6H357.8zM365.43 470.1H367.97V472.6H365.43zM370.51 470.1H373.06V472.6H370.51zM355.26 472.6H357.8V475.1H355.26zM360.34 472.6H370.51V475.1H360.34zM388.31 472.6H390.86V475.1H388.31zM357.8 475.1H360.34V477.6H357.8zM362.89 475.1H365.43V477.6H362.89zM373.06 475.1H375.6V477.6H373.06zM347.63 477.6H350.17V480.1H347.63z"/>
<path fill="#ff4a00" d="M360.34 462.6H365.43V465.1H360.34zM367.97 462.6H370.51V465.1H367.97zM347.63 467.6H350.17V470.1H347.63zM362.89 470.1H365.43V472.6H362.89zM375.6 470.1H378.14V472.6H375.6zM355.26 475.1H357.8V477.6H355.26z"/>
<path fill="#ff1700" d="M367.97 457.6H370.51V460.1H367.97zM357.8 465.1H360.34V467.6H357.8zM367.97 470.1H370.51V472.6H367.97z"/>
<path fill="#cb0000" d="M360.34 465.1H365.43V467.6H360.34zM367.97 467.6H370.51V470.1H367.97zM350.17 470.1H352.71V472.6H350.17zM352.71 472.6H355.26V475.1H352.71z"/>
<path fill="#990000" d="M362.89 460.1H365.43V462.6H362.89zM362.89 467.6H365.43V470.1H362.89z"/>
</g>
<g shape-rendering="crispEdges">
<rect x="465.5" y="395" width="144" height="142.6" fill="#0000e9"/>
<path fill="#0000b3" d="M563.21 395H565.79V397.55H563.21zM578.64 395H581.21V397.55H578.64zM606.93 395H609.5V397.55H606.93zM465.5 405.19H468.07V407.73H465.5zM496.36 405.19H498.93V407.73H496.36zM606.93 494.31H609.5V496.86H606.93zM606.93 496.86H609.5V499.4H606.93zM522.07 532.51H524.64V535.05H522.07zM545.21 535.05H550.36V537.6H545.21z"/>
<path fill="#0000c5" d="M478.36 395H483.5V397.55H478.36zM496.36 395H498.93V397.55H496.36zM501.5 395H504.07V397.55H501.5zM522.07 395H524.64V397.55H522.07zM532.36 395H534.93V397.55H532.36zM542.64 395H545.21V397.55H542.64zM560.64 395H563.21V397.55H560.64zM565.79 395H568.36V397.55H565.79zM581.21 395H583.79V397.55H581.21zM594.07 395H596.64V397.55H594.07zM599.21 395H606.93V397.55H599.21zM486.07 397.55H488.64V400.09H486.07zM506.64 397.55H509.21V400.09H506.64zM514.36 397.55H516.93V400.09H514.36zM537.5 397.55H540.07V400.09H537.5zM560.64 397.55H568.36V400.09H560.64zM573.5 397.55H576.07V400.09H573.5zM578.64 397.55H581.21V400.09H578.64zM586.36 397.55H588.93V400.09H586.36zM594.07 397.55H596.64V400.09H594.07zM486.07 400.09H491.21V402.64H486.07zM519.5 400.09H522.07V402.64H519.5zM540.07 400.09H552.93V402.64H540.07zM560.64 400.09H565.79V402.64H560.64zM599.21 400.09H604.36V402.64H599.21zM465.5 402.64H470.64V405.19H465.5zM488.64 402.64H496.36V405.19H488.64zM498.93 402.64H501.5V405.19H498.93zM524.64 402.64H527.21V405.19H524.64zM537.5 402.64H542.64V405.19H537.5zM488.64 405.19H496.36V407.73H488.64zM522.07 405.19H524.64V407.73H522.07zM465.5 407.73H468.07V410.28H465.5zM504.07 407.73H506.64V410.28H504.07zM527.21 407.73H529.79V410.28H527.21zM583.79 407.73H586.36V410.28H583.79zM594.07 407.73H596.64V410.28H594.07zM465.5 410.28H468.07V412.82H465.5zM486.07 410.28H488.64V412.82H486.07zM529.79 410.28H532.36V412.82H529.79zM550.36 410.28H552.93V412.82H550.36zM563.21 410.28H568.36V412.82H563.21zM588.93 410.28H594.07V412.82H588.93zM599.21 410.28H601.79V412.82H599.21zM465.5 412.82H470.64V415.37H465.5zM506.64 412.82H509.21V415.37H506.64zM542.64 412.82H545.21V415.37H542.64zM550.36 412.82H555.5V415.37H550.36zM581.21 412.82H583.79V415.37H581.21zM586.36 412.82H588.93V415.37H586.36zM591.5 412.82H594.07V415.37H591.5zM596.64 412.82H599.21V415.37H596.64zM465.5 415.37H468.07V417.92H465.5zM470.64 415.37H473.21V417.92H470.64zM504.07 415.37H506.64V417.92H504.07zM509.21 415.37H511.79V417.92H509.21zM534.93 415.37H537.5V417.92H534.93zM542.64 415.37H545.21V417.92H542.64zM565.79 415.37H568.36V417.92H565.79zM581.21 415.37H583.79V417.92H581.21zM606.93 415.37H609.5V417.92H606.93zM473.21 417.92H475.79V420.46H473.21zM486.07 417.92H488.64V420.46H486.07zM519.5 417.92H527.21V420.46H519.5zM534.93 417.92H537.5V420.46H534.93zM570.93 417.92H573.5V420.46H570.93zM594.07 417.92H596.64V420.46H594.07zM606.93 417.92H609.5V420.46H606.93zM465.5 420.46H468.07V423.01H465.5zM473.21 420.46H475.79V423.01H473.21zM488.64 420.46H491.21V423.01H488.64zM519.5 420.46H522.07V423.01H519.5zM563.21 420.46H565.79V423.01H563.21zM604.36 420.46H606.93V423.01H604.36zM465.5 423.01H468.07V425.56H465.5zM501.5 423.01H504.07V425.56H501.5zM465.5 425.56H468.07V428.1H465.5zM465.5 428.1H468.07V430.65H465.5zM596.64 428.1H599.21V430.65H596.64zM468.07 430.65H470.64V433.2H468.07zM576.07 430.65H578.64V433.2H576.07zM581.21 433.2H583.79V435.74H581.21zM586.36 433.2H588.93V435.74H586.36zM606.93 433.2H609.5V435.74H606.93zM480.93 435.74H483.5V438.29H480.93zM578.64 435.74H583.79V438.29H578.64zM498.93 438.29H501.5V440.84H498.93zM601.79 438.29H606.93V440.84H601.79zM480.93 440.84H483.5V443.38H480.93zM581.21 440.84H583.79V443.38H581.21zM601.79 440.84H604.36V443.38H601.79zM480.93 443.38H483.5V445.93H480.93zM550.36 445.93H555.5V448.48H550.36zM555.5 448.48H560.64V451.02H555.5zM599.21 448.48H601.79V451.02H599.21zM470.64 451.02H473.21V453.57H470.64zM555.5 451.02H560.64V453.57H555.5zM596.64 451.02H599.21V453.57H596.64zM606.93 451.02H609.5V453.57H606.93zM555.5 453.57H558.07V456.11H555.5zM570.93 453.57H573.5V456.11H570.93zM480.93 456.11H483.5V458.66H480.93zM498.93 456.11H501.5V458.66H498.93zM511.79 456.11H516.93V458.66H511.79zM570.93 456.11H573.5V458.66H570.93zM511.79 458.66H514.36V461.21H511.79zM473.21 461.21H475.79V463.75H473.21zM475.79 463.75H478.36V466.3H475.79zM465.5 471.39H473.21V473.94H465.5zM470.64 473.94H475.79V476.49H470.64zM473.21 476.49H475.79V479.03H473.21zM576.07 476.49H578.64V479.03H576.07zM578.64 479.03H581.21V481.58H578.64zM475.79 491.76H478.36V494.31H475.79zM586.36 491.76H591.5V494.31H586.36zM604.36 491.76H606.93V494.31H604.36zM604.36 494.31H606.93V496.86H604.36zM488.64 501.95H491.21V504.5H488.64zM524.64 501.95H527.21V504.5H524.64zM483.5 504.5H486.07V507.04H483.5zM488.64 504.5H493.79V507.04H488.64zM496.36 504.5H501.5V507.04H496.36zM527.21 504.5H529.79V507.04H527.21zM511.79 509.59H516.93V512.14H511.79zM576.07 509.59H578.64V512.14H576.07zM581.21 509.59H583.79V512.14H581.21zM604.36 509.59H606.93V512.14H604.36zM509.21 514.68H511.79V517.23H509.21zM581.21 514.68H583.79V517.23H581.21zM591.5 514.68H594.07V517.23H591.5zM604.36 514.68H606.93V517.23H604.36zM468.07 517.23H470.64V519.77H468.07zM578.64 517.23H581.21V519.77H578.64zM475.79 519.77H480.93V522.32H475.79zM591.5 519.77H594.07V522.32H591.5zM480.93 522.32H483.5V524.87H480.93zM498.93 522.32H501.5V524.87H498.93zM506.64 522.32H509.21V524.87H506.64zM537.5 522.32H540.07V524.87H537.5zM588.93 522.32H591.5V524.87H588.93zM473.21 524.87H475.79V527.41H473.21zM501.5 524.87H504.07V527.41H501.5zM537.5 524.87H540.07V527.41H537.5zM558.07 524.87H560.64V527.41H558.07zM470.64 527.41H473.21V529.96H470.64zM506.64 527.41H509.21V529.96H506.64zM519.5 527.41H524.64V529.96H519.5zM537.5 527.41H542.64V529.96H537.5zM552.93 527.41H555.5V529.96H552.93zM581.21 527.41H583.79V529.96H581.21zM504.07 529.96H506.64V532.51H504.07zM519.5 529.96H522.07V532.51H519.5zM524.64 529.96H527.21V532.51H524.64zM542.64 529.96H545.21V532.51H542.64zM550.36 529.96H555.5V532.51H550.36zM588.93 529.96H591.5V532.51H588.93zM599.21 529.96H601.79V532.51H599.21zM480.93 532.51H483.5V535.05H480.93zM504.07 532.51H506.64V535.05H504.07zM519.5 532.51H522.07V535.05H519.5zM550.36 532.51H552.93V535.05H550.36zM583.79 532.51H586.36V535.05H583.79zM468.07 535.05H470.64V537.6H468.07zM483.5 535.05H491.21V537.6H483.5zM493.79 535.05H496.36V537.6H493.79zM504.07 535.05H509.21V537.6H504.07zM519.5 535.05H522.07V537.6H519.5zM524.64 535.05H529.79V537.6H524.64zM552.93 535.05H555.5V537.6H552.93zM568.36 535.05H570.93V537.6H568.36zM588.93 535.05H591.5V537.6H588.93zM599.21 535.05H604.36V537.6H599.21z"/>
<path fill="#0000d7" d="M470.64 395H473.21V397.55H470.64zM475.79 395H478.36V397.55H475.79zM483.5 395H496.36V397.55H483.5zM498.93 395H501.5V397.55H498.93zM504.07 395H506.64V397.55H504.07zM509.21 395H514.36V397.55H509.21zM524.64 395H532.36V397.55H524.64zM534.93 395H542.64V397.55H534.93zM545.21 395H547.79V397.55H545.21zM555.5 395H560.64V397.55H555.5zM568.36 395H578.64V397.55H568.36zM583.79 395H586.36V397.55H583.79zM588.93 395H594.07V397.55H588.93zM596.64 395H599.21V397.55H596.64zM468.07 397.55H470.64V400.09H468.07zM475.79 397.55H478.36V400.09H475.79zM483.5 397.55H486.07V400.09H483.5zM488.64 397.55H496.36V400.09H488.64zM498.93 397.55H501.5V400.09H498.93zM504.07 397.55H506.64V400.09H504.07zM511.79 397.55H514.36V400.09H511.79zM519.5 397.55H527.21V400.09H519.5zM529.79 397.55H537.5V400.09H529.79zM540.07 397.55H545.21V400.09H540.07zM547.79 397.55H550.36V400.09H547.79zM552.93 397.55H555.5V400.09H552.93zM558.07 397.55H560.64V400.09H558.07zM568.36 397.55H573.5V400.09H568.36zM576.07 397.55H578.64V400.09H576.07zM581.21 397.55H586.36V400.09H581.21zM599.21 397.55H601.79V400.09H599.21zM604.36 397.55H609.5V400.09H604.36zM465.5 400.09H473.21V402.64H465.5zM483.5 400.09H486.07V402.64H483.5zM491.21 400.09H496.36V402.64H491.21zM498.93 400.09H504.07V402.64H498.93zM506.64 400.09H511.79V402.64H506.64zM516.93 400.09H519.5V402.64H516.93zM522.07 400.09H527.21V402.64H522.07zM529.79 400.09H540.07V402.64H529.79zM552.93 400.09H555.5V402.64H552.93zM570.93 400.09H576.07V402.64H570.93zM578.64 400.09H583.79V402.64H578.64zM586.36 400.09H594.07V402.64H586.36zM604.36 400.09H606.93V402.64H604.36zM470.64 402.64H473.21V405.19H470.64zM480.93 402.64H483.5V405.19H480.93zM486.07 402.64H488.64V405.19H486.07zM496.36 402.64H498.93V405.19H496.36zM501.5 402.64H509.21V405.19H501.5zM511.79 402.64H514.36V405.19H511.79zM522.07 402.64H524.64V405.19H522.07zM542.64 402.64H545.21V405.19H542.64zM550.36 402.64H552.93V405.19H550.36zM558.07 402.64H563.21V405.19H558.07zM573.5 402.64H576.07V405.19H573.5zM578.64 402.64H586.36V405.19H578.64zM588.93 402.64H591.5V405.19H588.93zM596.64 402.64H606.93V405.19H596.64zM468.07 405.19H473.21V407.73H468.07zM480.93 405.19H488.64V407.73H480.93zM498.93 405.19H509.21V407.73H498.93zM514.36 405.19H516.93V407.73H514.36zM519.5 405.19H522.07V407.73H519.5zM524.64 405.19H527.21V407.73H524.64zM532.36 405.19H534.93V407.73H532.36zM537.5 405.19H540.07V407.73H537.5zM542.64 405.19H545.21V407.73H542.64zM547.79 405.19H555.5V407.73H547.79zM570.93 405.19H573.5V407.73H570.93zM576.07 405.19H578.64V407.73H576.07zM581.21 405.19H588.93V407.73H581.21zM591.5 405.19H594.07V407.73H591.5zM599.21 405.19H604.36V407.73H599.21zM468.07 407.73H478.36V410.28H468.07zM480.93 407.73H493.79V410.28H480.93zM496.36 407.73H504.07V410.28H496.36zM506.64 407.73H511.79V410.28H506.64zM514.36 407.73H516.93V410.28H514.36zM522.07 407.73H527.21V410.28H522.07zM529.79 407.73H537.5V410.28H529.79zM540.07 407.73H542.64V410.28H540.07zM547.79 407.73H552.93V410.28H547.79zM555.5 407.73H558.07V410.28H555.5zM560.64 407.73H565.79V410.28H560.64zM568.36 407.73H570.93V410.28H568.36zM573.5 407.73H583.79V410.28H573.5zM586.36 407.73H594.07V410.28H586.36zM599.21 407.73H604.36V410.28H599.21zM468.07 410.28H475.79V412.82H468.07zM488.64 410.28H491.21V412.82H488.64zM498.93 410.28H501.5V412.82H498.93zM504.07 410.28H511.79V412.82H504.07zM514.36 410.28H516.93V412.82H514.36zM527.21 410.28H529.79V412.82H527.21zM532.36 410.28H537.5V412.82H532.36zM545.21 410.28H550.36V412.82H545.21zM552.93 410.28H560.64V412.82H552.93zM568.36 410.28H573.5V412.82H568.36zM576.07 410.28H583.79V412.82H576.07zM586.36 410.28H588.93V412.82H586.36zM594.07 410.28H599.21V412.82H594.07zM601.79 410.28H604.36V412.82H601.79zM470.64 412.82H473.21V415.37H470.64zM483.5 412.82H486.07V415.37H483.5zM488.64 412.82H491.21V415.37H488.64zM496.36 412.82H498.93V415.37H496.36zM501.5 412.82H506.64V415.37H501.5zM509.21 412.82H514.36V415.37H509.21zM524.64 412.82H527.21V415.37H524.64zM529.79 412.82H542.64V415.37H529.79zM545.21 412.82H550.36V415.37H545.21zM558.07 412.82H560.64V415.37H558.07zM563.21 412.82H565.79V415.37H563.21zM568.36 412.82H573.5V415.37H568.36zM576.07 412.82H578.64V415.37H576.07zM583.79 412.82H586.36V415.37H583.79zM588.93 412.82H591.5V415.37H588.93zM594.07 412.82H596.64V415.37H594.07zM468.07 415.37H470.64V417.92H468.07zM483.5 415.37H486.07V417.92H483.5zM488.64 415.37H498.93V417.92H488.64zM501.5 415.37H504.07V417.92H501.5zM506.64 415.37H509.21V417.92H506.64zM514.36 415.37H522.07V417.92H514.36zM524.64 415.37H529.79V417.92H524.64zM537.5 415.37H542.64V417.92H537.5zM545.21 415.37H547.79V417.92H545.21zM552.93 415.37H565.79V417.92H552.93zM570.93 415.37H576.07V417.92H570.93zM578.64 415.37H581.21V417.92H578.64zM583.79 415.37H586.36V417.92H583.79zM596.64 415.37H606.93V417.92H596.64zM465.5 417.92H470.64V420.46H465.5zM478.36 417.92H486.07V420.46H478.36zM498.93 417.92H504.07V420.46H498.93zM509.21 417.92H511.79V420.46H509.21zM516.93 417.92H519.5V420.46H516.93zM527.21 417.92H529.79V420.46H527.21zM540.07 417.92H545.21V420.46H540.07zM552.93 417.92H565.79V420.46H552.93zM568.36 417.92H570.93V420.46H568.36zM581.21 417.92H588.93V420.46H581.21zM591.5 417.92H594.07V420.46H591.5zM596.64 417.92H599.21V420.46H596.64zM468.07 420.46H470.64V423.01H468.07zM475.79 420.46H478.36V423.01H475.79zM480.93 420.46H488.64V423.01H480.93zM501.5 420.46H511.79V423.01H501.5zM514.36 420.46H519.5V423.01H514.36zM522.07 420.46H527.21V423.01H522.07zM534.93 420.46H540.07V423.01H534.93zM542.64 420.46H545.21V423.01H542.64zM550.36 420.46H555.5V423.01H550.36zM558.07 420.46H563.21V423.01H558.07zM565.79 420.46H568.36V423.01H565.79zM573.5 420.46H581.21V423.01H573.5zM588.93 420.46H596.64V423.01H588.93zM606.93 420.46H609.5V423.01H606.93zM468.07 423.01H473.21V425.56H468.07zM475.79 423.01H478.36V425.56H475.79zM480.93 423.01H491.21V425.56H480.93zM498.93 423.01H501.5V425.56H498.93zM504.07 423.01H506.64V425.56H504.07zM509.21 423.01H511.79V425.56H509.21zM514.36 423.01H516.93V425.56H514.36zM519.5 423.01H524.64V425.56H519.5zM527.21 423.01H529.79V425.56H527.21zM545.21 423.01H547.79V425.56H545.21zM550.36 423.01H552.93V425.56H550.36zM565.79 423.01H568.36V425.56H565.79zM570.93 423.01H573.5V425.56H570.93zM576.07 423.01H578.64V425.56H576.07zM588.93 423.01H591.5V425.56H588.93zM596.64 423.01H599.21V425.56H596.64zM606.93 423.01H609.5V425.56H606.93zM468.07 425.56H473.21V428.1H468.07zM475.79 425.56H480.93V428.1H475.79zM488.64 425.56H491.21V428.1H488.64zM501.5 425.56H506.64V428.1H501.5zM511.79 425.56H514.36V428.1H511.79zM586.36 425.56H591.5V428.1H586.36zM599.21 425.56H601.79V428.1H599.21zM606.93 425.56H609.5V428.1H606.93zM468.07 428.1H475.79V430.65H468.07zM478.36 428.1H480.93V430.65H478.36zM493.79 428.1H496.36V430.65H493.79zM498.93 428.1H504.07V430.65H498.93zM506.64 428.1H509.21V430.65H506.64zM524.64 428.1H527.21V430.65H524.64zM547.79 428.1H550.36V430.65H547.79zM560.64 428.1H563.21V430.65H560.64zM581.21 428.1H596.64V430.65H581.21zM599.21 428.1H601.79V430.65H599.21zM604.36 428.1H606.93V430.65H604.36zM465.5 430.65H468.07V433.2H465.5zM473.21 430.65H488.64V433.2H473.21zM491.21 430.65H493.79V433.2H491.21zM496.36 430.65H498.93V433.2H496.36zM501.5 430.65H504.07V433.2H501.5zM522.07 430.65H524.64V433.2H522.07zM529.79 430.65H534.93V433.2H529.79zM547.79 430.65H552.93V433.2H547.79zM560.64 430.65H563.21V433.2H560.64zM573.5 430.65H576.07V433.2H573.5zM578.64 430.65H596.64V433.2H578.64zM599.21 430.65H609.5V433.2H599.21zM465.5 433.2H468.07V435.74H465.5zM470.64 433.2H473.21V435.74H470.64zM478.36 433.2H491.21V435.74H478.36zM498.93 433.2H504.07V435.74H498.93zM522.07 433.2H524.64V435.74H522.07zM542.64 433.2H545.21V435.74H542.64zM550.36 433.2H552.93V435.74H550.36zM555.5 433.2H563.21V435.74H555.5zM576.07 433.2H581.21V435.74H576.07zM583.79 433.2H586.36V435.74H583.79zM591.5 433.2H596.64V435.74H591.5zM473.21 435.74H478.36V438.29H473.21zM488.64 435.74H491.21V438.29H488.64zM493.79 435.74H496.36V438.29H493.79zM498.93 435.74H506.64V438.29H498.93zM514.36 435.74H516.93V438.29H514.36zM524.64 435.74H534.93V438.29H524.64zM558.07 435.74H563.21V438.29H558.07zM568.36 435.74H570.93V438.29H568.36zM583.79 435.74H586.36V438.29H583.79zM588.93 435.74H591.5V438.29H588.93zM594.07 435.74H601.79V438.29H594.07zM604.36 435.74H609.5V438.29H604.36zM465.5 438.29H475.79V440.84H465.5zM478.36 438.29H483.5V440.84H478.36zM496.36 438.29H498.93V440.84H496.36zM504.07 438.29H506.64V440.84H504.07zM532.36 438.29H534.93V440.84H532.36zM537.5 438.29H542.64V440.84H537.5zM545.21 438.29H550.36V440.84H545.21zM565.79 438.29H568.36V440.84H565.79zM581.21 438.29H586.36V440.84H581.21zM594.07 438.29H601.79V440.84H594.07zM606.93 438.29H609.5V440.84H606.93zM465.5 440.84H468.07V443.38H465.5zM478.36 440.84H480.93V443.38H478.36zM483.5 440.84H501.5V443.38H483.5zM509.21 440.84H511.79V443.38H509.21zM522.07 440.84H524.64V443.38H522.07zM534.93 440.84H537.5V443.38H534.93zM540.07 440.84H542.64V443.38H540.07zM547.79 440.84H555.5V443.38H547.79zM573.5 440.84H576.07V443.38H573.5zM578.64 440.84H581.21V443.38H578.64zM583.79 440.84H586.36V443.38H583.79zM594.07 440.84H596.64V443.38H594.07zM465.5 443.38H470.64V445.93H465.5zM478.36 443.38H480.93V445.93H478.36zM486.07 443.38H488.64V445.93H486.07zM493.79 443.38H501.5V445.93H493.79zM522.07 443.38H524.64V445.93H522.07zM527.21 443.38H529.79V445.93H527.21zM547.79 443.38H552.93V445.93H547.79zM565.79 443.38H568.36V445.93H565.79zM576.07 443.38H581.21V445.93H576.07zM583.79 443.38H588.93V445.93H583.79zM594.07 443.38H596.64V445.93H594.07zM599.21 443.38H604.36V445.93H599.21zM606.93 443.38H609.5V445.93H606.93zM465.5 445.93H470.64V448.48H465.5zM475.79 445.93H478.36V448.48H475.79zM483.5 445.93H486.07V448.48H483.5zM488.64 445.93H498.93V448.48H488.64zM504.07 445.93H506.64V448.48H504.07zM555.5 445.93H560.64V448.48H555.5zM578.64 445.93H581.21V448.48H578.64zM591.5 445.93H604.36V448.48H591.5zM606.93 445.93H609.5V448.48H606.93zM465.5 448.48H468.07V451.02H465.5zM470.64 448.48H473.21V451.02H470.64zM488.64 448.48H491.21V451.02H488.64zM496.36 448.48H498.93V451.02H496.36zM504.07 448.48H506.64V451.02H504.07zM509.21 448.48H511.79V451.02H509.21zM519.5 448.48H522.07V451.02H519.5zM547.79 448.48H550.36V451.02H547.79zM552.93 448.48H555.5V451.02H552.93zM560.64 448.48H563.21V451.02H560.64zM576.07 448.48H578.64V451.02H576.07zM594.07 448.48H599.21V451.02H594.07zM601.79 448.48H609.5V451.02H601.79zM465.5 451.02H468.07V453.57H465.5zM473.21 451.02H475.79V453.57H473.21zM483.5 451.02H493.79V453.57H483.5zM501.5 451.02H504.07V453.57H501.5zM506.64 451.02H511.79V453.57H506.64zM534.93 451.02H537.5V453.57H534.93zM552.93 451.02H555.5V453.57H552.93zM568.36 451.02H570.93V453.57H568.36zM578.64 451.02H581.21V453.57H578.64zM594.07 451.02H596.64V453.57H594.07zM599.21 451.02H606.93V453.57H599.21zM465.5 453.57H468.07V456.11H465.5zM475.79 453.57H478.36V456.11H475.79zM480.93 453.57H483.5V456.11H480.93zM486.07 453.57H488.64V456.11H486.07zM493.79 453.57H496.36V456.11H493.79zM498.93 453.57H504.07V456.11H498.93zM506.64 453.57H519.5V456.11H506.64zM529.79 453.57H534.93V456.11H529.79zM558.07 453.57H563.21V456.11H558.07zM573.5 453.57H581.21V456.11H573.5zM594.07 453.57H596.64V456.11H594.07zM599.21 453.57H609.5V456.11H599.21zM470.64 456.11H473.21V458.66H470.64zM475.79 456.11H480.93V458.66H475.79zM488.64 456.11H491.21V458.66H488.64zM501.5 456.11H504.07V458.66H501.5zM552.93 456.11H560.64V458.66H552.93zM573.5 456.11H581.21V458.66H573.5zM591.5 456.11H594.07V458.66H591.5zM601.79 456.11H604.36V458.66H601.79zM470.64 458.66H478.36V461.21H470.64zM488.64 458.66H491.21V461.21H488.64zM501.5 458.66H504.07V461.21H501.5zM516.93 458.66H519.5V461.21H516.93zM578.64 458.66H581.21V461.21H578.64zM599.21 458.66H604.36V461.21H599.21zM475.79 461.21H478.36V463.75H475.79zM483.5 461.21H493.79V463.75H483.5zM498.93 461.21H504.07V463.75H498.93zM578.64 461.21H581.21V463.75H578.64zM599.21 461.21H601.79V463.75H599.21zM468.07 463.75H470.64V466.3H468.07zM473.21 463.75H475.79V466.3H473.21zM478.36 463.75H480.93V466.3H478.36zM486.07 463.75H488.64V466.3H486.07zM516.93 463.75H519.5V466.3H516.93zM601.79 463.75H604.36V466.3H601.79zM465.5 466.3H468.07V468.85H465.5zM473.21 466.3H478.36V468.85H473.21zM480.93 466.3H483.5V468.85H480.93zM491.21 466.3H493.79V468.85H491.21zM501.5 466.3H504.07V468.85H501.5zM581.21 466.3H583.79V468.85H581.21zM586.36 466.3H588.93V468.85H586.36zM465.5 468.85H468.07V471.39H465.5zM470.64 468.85H473.21V471.39H470.64zM486.07 468.85H488.64V471.39H486.07zM573.5 468.85H576.07V471.39H573.5zM588.93 468.85H591.5V471.39H588.93zM473.21 471.39H478.36V473.94H473.21zM480.93 471.39H483.5V473.94H480.93zM496.36 471.39H498.93V473.94H496.36zM578.64 471.39H583.79V473.94H578.64zM591.5 471.39H596.64V473.94H591.5zM465.5 473.94H470.64V476.49H465.5zM478.36 473.94H480.93V476.49H478.36zM488.64 473.94H491.21V476.49H488.64zM573.5 473.94H578.64V476.49H573.5zM475.79 476.49H478.36V479.03H475.79zM573.5 476.49H576.07V479.03H573.5zM465.5 479.03H470.64V481.58H465.5zM475.79 479.03H478.36V481.58H475.79zM493.79 479.03H496.36V481.58H493.79zM588.93 479.03H591.5V481.58H588.93zM606.93 479.03H609.5V481.58H606.93zM465.5 481.58H483.5V484.12H465.5zM493.79 481.58H496.36V484.12H493.79zM573.5 481.58H581.21V484.12H573.5zM583.79 481.58H586.36V484.12H583.79zM594.07 481.58H609.5V484.12H594.07zM465.5 484.12H468.07V486.67H465.5zM491.21 484.12H493.79V486.67H491.21zM506.64 484.12H511.79V486.67H506.64zM558.07 484.12H560.64V486.67H558.07zM563.21 484.12H565.79V486.67H563.21zM576.07 484.12H578.64V486.67H576.07zM581.21 484.12H583.79V486.67H581.21zM586.36 484.12H594.07V486.67H586.36zM596.64 484.12H599.21V486.67H596.64zM601.79 484.12H609.5V486.67H601.79zM486.07 486.67H488.64V489.22H486.07zM511.79 486.67H514.36V489.22H511.79zM522.07 486.67H524.64V489.22H522.07zM573.5 486.67H583.79V489.22H573.5zM586.36 486.67H594.07V489.22H586.36zM596.64 486.67H609.5V489.22H596.64zM470.64 489.22H473.21V491.76H470.64zM475.79 489.22H486.07V491.76H475.79zM488.64 489.22H493.79V491.76H488.64zM509.21 489.22H514.36V491.76H509.21zM532.36 489.22H534.93V491.76H532.36zM570.93 489.22H573.5V491.76H570.93zM581.21 489.22H583.79V491.76H581.21zM588.93 489.22H594.07V491.76H588.93zM599.21 489.22H604.36V491.76H599.21zM606.93 489.22H609.5V491.76H606.93zM478.36 491.76H488.64V494.31H478.36zM493.79 491.76H498.93V494.31H493.79zM509.21 491.76H516.93V494.31H509.21zM529.79 491.76H540.07V494.31H529.79zM552.93 491.76H555.5V494.31H552.93zM558.07 491.76H560.64V494.31H558.07zM570.93 491.76H573.5V494.31H570.93zM583.79 491.76H586.36V494.31H583.79zM591.5 491.76H596.64V494.31H591.5zM606.93 491.76H609.5V494.31H606.93zM465.5 494.31H468.07V496.86H465.5zM480.93 494.31H488.64V496.86H480.93zM496.36 494.31H498.93V496.86H496.36zM514.36 494.31H516.93V496.86H514.36zM519.5 494.31H522.07V496.86H519.5zM578.64 494.31H581.21V496.86H578.64zM586.36 494.31H599.21V496.86H586.36zM465.5 496.86H475.79V499.4H465.5zM488.64 496.86H491.21V499.4H488.64zM493.79 496.86H496.36V499.4H493.79zM498.93 496.86H501.5V499.4H498.93zM504.07 496.86H509.21V499.4H504.07zM540.07 496.86H542.64V499.4H540.07zM552.93 496.86H555.5V499.4H552.93zM588.93 496.86H591.5V499.4H588.93zM601.79 496.86H606.93V499.4H601.79zM465.5 499.4H470.64V501.95H465.5zM473.21 499.4H475.79V501.95H473.21zM483.5 499.4H491.21V501.95H483.5zM496.36 499.4H504.07V501.95H496.36zM506.64 499.4H511.79V501.95H506.64zM545.21 499.4H547.79V501.95H545.21zM604.36 499.4H609.5V501.95H604.36zM465.5 501.95H468.07V504.5H465.5zM470.64 501.95H478.36V504.5H470.64zM483.5 501.95H486.07V504.5H483.5zM491.21 501.95H504.07V504.5H491.21zM509.21 501.95H514.36V504.5H509.21zM519.5 501.95H522.07V504.5H519.5zM527.21 501.95H540.07V504.5H527.21zM547.79 501.95H550.36V504.5H547.79zM573.5 501.95H576.07V504.5H573.5zM578.64 501.95H586.36V504.5H578.64zM591.5 501.95H596.64V504.5H591.5zM465.5 504.5H470.64V507.04H465.5zM475.79 504.5H478.36V507.04H475.79zM480.93 504.5H483.5V507.04H480.93zM486.07 504.5H488.64V507.04H486.07zM493.79 504.5H496.36V507.04H493.79zM501.5 504.5H506.64V507.04H501.5zM511.79 504.5H514.36V507.04H511.79zM519.5 504.5H522.07V507.04H519.5zM529.79 504.5H532.36V507.04H529.79zM534.93 504.5H537.5V507.04H534.93zM573.5 504.5H576.07V507.04H573.5zM591.5 504.5H594.07V507.04H591.5zM596.64 504.5H601.79V507.04H596.64zM465.5 507.04H468.07V509.59H465.5zM470.64 507.04H473.21V509.59H470.64zM480.93 507.04H483.5V509.59H480.93zM486.07 507.04H491.21V509.59H486.07zM493.79 507.04H504.07V509.59H493.79zM506.64 507.04H509.21V509.59H506.64zM511.79 507.04H522.07V509.59H511.79zM524.64 507.04H527.21V509.59H524.64zM534.93 507.04H542.64V509.59H534.93zM555.5 507.04H558.07V509.59H555.5zM573.5 507.04H583.79V509.59H573.5zM591.5 507.04H609.5V509.59H591.5zM473.21 509.59H475.79V512.14H473.21zM480.93 509.59H486.07V512.14H480.93zM488.64 509.59H491.21V512.14H488.64zM493.79 509.59H498.93V512.14H493.79zM509.21 509.59H511.79V512.14H509.21zM516.93 509.59H519.5V512.14H516.93zM522.07 509.59H524.64V512.14H522.07zM532.36 509.59H537.5V512.14H532.36zM555.5 509.59H558.07V512.14H555.5zM570.93 509.59H576.07V512.14H570.93zM578.64 509.59H581.21V512.14H578.64zM583.79 509.59H586.36V512.14H583.79zM591.5 509.59H601.79V512.14H591.5zM606.93 509.59H609.5V512.14H606.93zM465.5 512.14H473.21V514.68H465.5zM483.5 512.14H486.07V514.68H483.5zM496.36 512.14H501.5V514.68H496.36zM504.07 512.14H506.64V514.68H504.07zM519.5 512.14H527.21V514.68H519.5zM532.36 512.14H537.5V514.68H532.36zM552.93 512.14H558.07V514.68H552.93zM563.21 512.14H568.36V514.68H563.21zM570.93 512.14H573.5V514.68H570.93zM591.5 512.14H594.07V514.68H591.5zM601.79 512.14H609.5V514.68H601.79zM465.5 514.68H473.21V517.23H465.5zM480.93 514.68H483.5V517.23H480.93zM488.64 514.68H498.93V517.23H488.64zM501.5 514.68H504.07V517.23H501.5zM522.07 514.68H524.64V517.23H522.07zM534.93 514.68H540.07V517.23H534.93zM565.79 514.68H570.93V517.23H565.79zM578.64 514.68H581.21V517.23H578.64zM594.07 514.68H596.64V517.23H594.07zM601.79 514.68H604.36V517.23H601.79zM465.5 517.23H468.07V519.77H465.5zM470.64 517.23H473.21V519.77H470.64zM486.07 517.23H488.64V519.77H486.07zM491.21 517.23H493.79V519.77H491.21zM509.21 517.23H511.79V519.77H509.21zM516.93 517.23H524.64V519.77H516.93zM547.79 517.23H550.36V519.77H547.79zM565.79 517.23H568.36V519.77H565.79zM581.21 517.23H583.79V519.77H581.21zM588.93 517.23H594.07V519.77H588.93zM599.21 517.23H606.93V519.77H599.21zM465.5 519.77H473.21V522.32H465.5zM480.93 519.77H483.5V522.32H480.93zM488.64 519.77H491.21V522.32H488.64zM496.36 519.77H504.07V522.32H496.36zM509.21 519.77H519.5V522.32H509.21zM524.64 519.77H527.21V522.32H524.64zM534.93 519.77H537.5V522.32H534.93zM545.21 519.77H550.36V522.32H545.21zM560.64 519.77H565.79V522.32H560.64zM573.5 519.77H581.21V522.32H573.5zM583.79 519.77H586.36V522.32H583.79zM588.93 519.77H591.5V522.32H588.93zM599.21 519.77H604.36V522.32H599.21zM606.93 519.77H609.5V522.32H606.93zM465.5 522.32H480.93V524.87H465.5zM483.5 522.32H486.07V524.87H483.5zM488.64 522.32H493.79V524.87H488.64zM496.36 522.32H498.93V524.87H496.36zM501.5 522.32H504.07V524.87H501.5zM511.79 522.32H514.36V524.87H511.79zM522.07 522.32H529.79V524.87H522.07zM534.93 522.32H537.5V524.87H534.93zM545.21 522.32H547.79V524.87H545.21zM550.36 522.32H555.5V524.87H550.36zM560.64 522.32H563.21V524.87H560.64zM565.79 522.32H568.36V524.87H565.79zM583.79 522.32H586.36V524.87H583.79zM601.79 522.32H604.36V524.87H601.79zM606.93 522.32H609.5V524.87H606.93zM470.64 524.87H473.21V527.41H470.64zM483.5 524.87H486.07V527.41H483.5zM498.93 524.87H501.5V527.41H498.93zM504.07 524.87H511.79V527.41H504.07zM516.93 524.87H519.5V527.41H516.93zM522.07 524.87H524.64V527.41H522.07zM532.36 524.87H537.5V527.41H532.36zM540.07 524.87H545.21V527.41H540.07zM550.36 524.87H558.07V527.41H550.36zM560.64 524.87H565.79V527.41H560.64zM568.36 524.87H573.5V527.41H568.36zM576.07 524.87H581.21V527.41H576.07zM583.79 524.87H588.93V527.41H583.79zM591.5 524.87H594.07V527.41H591.5zM596.64 524.87H609.5V527.41H596.64zM473.21 527.41H478.36V529.96H473.21zM501.5 527.41H506.64V529.96H501.5zM509.21 527.41H514.36V529.96H509.21zM524.64 527.41H529.79V529.96H524.64zM534.93 527.41H537.5V529.96H534.93zM542.64 527.41H552.93V529.96H542.64zM555.5 527.41H558.07V529.96H555.5zM563.21 527.41H573.5V529.96H563.21zM578.64 527.41H581.21V529.96H578.64zM583.79 527.41H591.5V529.96H583.79zM601.79 527.41H604.36V529.96H601.79zM470.64 529.96H475.79V532.51H470.64zM478.36 529.96H486.07V532.51H478.36zM501.5 529.96H504.07V532.51H501.5zM506.64 529.96H511.79V532.51H506.64zM522.07 529.96H524.64V532.51H522.07zM527.21 529.96H532.36V532.51H527.21zM537.5 529.96H542.64V532.51H537.5zM545.21 529.96H547.79V532.51H545.21zM560.64 529.96H568.36V532.51H560.64zM576.07 529.96H578.64V532.51H576.07zM581.21 529.96H588.93V532.51H581.21zM594.07 529.96H596.64V532.51H594.07zM601.79 529.96H609.5V532.51H601.79zM468.07 532.51H470.64V535.05H468.07zM473.21 532.51H475.79V535.05H473.21zM486.07 532.51H496.36V535.05H486.07zM506.64 532.51H509.21V535.05H506.64zM511.79 532.51H514.36V535.05H511.79zM516.93 532.51H519.5V535.05H516.93zM524.64 532.51H527.21V535.05H524.64zM529.79 532.51H534.93V535.05H529.79zM537.5 532.51H550.36V535.05H537.5zM552.93 532.51H565.79V535.05H552.93zM568.36 532.51H570.93V535.05H568.36zM586.36 532.51H591.5V535.05H586.36zM601.79 532.51H604.36V535.05H601.79zM465.5 535.05H468.07V537.6H465.5zM470.64 535.05H473.21V537.6H470.64zM478.36 535.05H483.5V537.6H478.36zM491.21 535.05H493.79V537.6H491.21zM514.36 535.05H519.5V537.6H514.36zM522.07 535.05H524.64V537.6H522.07zM537.5 535.05H542.64V537.6H537.5zM550.36 535.05H552.93V537.6H550.36zM560.64 535.05H563.21V537.6H560.64zM565.79 535.05H568.36V537.6H565.79zM581.21 535.05H583.79V537.6H581.21zM586.36 535.05H588.93V537.6H586.36zM596.64 535.05H599.21V537.6H596.64z"/>
<path fill="#0000fb" d="M465.5 395H470.64V397.55H465.5zM514.36 395H516.93V397.55H514.36zM547.79 395H550.36V397.55H547.79zM555.5 397.55H558.07V400.09H555.5zM596.64 397.55H599.21V400.09H596.64zM478.36 400.09H480.93V402.64H478.36zM473.21 402.64H475.79V405.19H473.21zM568.36 402.64H570.93V405.19H568.36zM576.07 402.64H578.64V405.19H576.07zM594.07 402.64H596.64V405.19H594.07zM606.93 402.64H609.5V405.19H606.93zM568.36 405.19H570.93V407.73H568.36zM594.07 405.19H596.64V407.73H594.07zM606.93 405.19H609.5V407.73H606.93zM604.36 407.73H606.93V410.28H604.36zM537.5 410.28H540.07V412.82H537.5zM606.93 410.28H609.5V412.82H606.93zM565.79 412.82H568.36V415.37H565.79zM478.36 415.37H480.93V417.92H478.36zM504.07 417.92H506.64V420.46H504.07zM493.79 420.46H496.36V423.01H493.79zM581.21 420.46H586.36V423.01H581.21zM473.21 423.01H475.79V425.56H473.21zM493.79 423.01H496.36V425.56H493.79zM529.79 423.01H532.36V425.56H529.79zM537.5 423.01H540.07V425.56H537.5zM581.21 423.01H583.79V425.56H581.21zM480.93 425.56H483.5V428.1H480.93zM514.36 425.56H519.5V428.1H514.36zM529.79 425.56H532.36V428.1H529.79zM534.93 425.56H537.5V428.1H534.93zM540.07 425.56H545.21V428.1H540.07zM552.93 425.56H558.07V428.1H552.93zM560.64 425.56H563.21V428.1H560.64zM573.5 425.56H576.07V428.1H573.5zM604.36 425.56H606.93V428.1H604.36zM496.36 428.1H498.93V430.65H496.36zM509.21 428.1H514.36V430.65H509.21zM519.5 428.1H522.07V430.65H519.5zM527.21 428.1H529.79V430.65H527.21zM534.93 428.1H545.21V430.65H534.93zM550.36 428.1H552.93V430.65H550.36zM568.36 428.1H570.93V430.65H568.36zM606.93 428.1H609.5V430.65H606.93zM506.64 430.65H509.21V433.2H506.64zM537.5 430.65H540.07V433.2H537.5zM542.64 430.65H545.21V433.2H542.64zM568.36 430.65H570.93V433.2H568.36zM504.07 433.2H511.79V435.74H504.07zM534.93 433.2H537.5V435.74H534.93zM540.07 433.2H542.64V435.74H540.07zM565.79 433.2H568.36V435.74H565.79zM509.21 435.74H514.36V438.29H509.21zM565.79 435.74H568.36V438.29H565.79zM486.07 438.29H488.64V440.84H486.07zM501.5 438.29H504.07V440.84H501.5zM506.64 438.29H509.21V440.84H506.64zM519.5 438.29H522.07V440.84H519.5zM558.07 438.29H565.79V440.84H558.07zM504.07 440.84H506.64V443.38H504.07zM519.5 440.84H522.07V443.38H519.5zM555.5 440.84H558.07V443.38H555.5zM560.64 440.84H565.79V443.38H560.64zM606.93 440.84H609.5V443.38H606.93zM475.79 443.38H478.36V445.93H475.79zM504.07 443.38H506.64V445.93H504.07zM529.79 443.38H532.36V445.93H529.79zM534.93 443.38H542.64V445.93H534.93zM555.5 443.38H558.07V445.93H555.5zM560.64 443.38H563.21V445.93H560.64zM568.36 443.38H570.93V445.93H568.36zM573.5 443.38H576.07V445.93H573.5zM604.36 443.38H606.93V445.93H604.36zM506.64 445.93H509.21V448.48H506.64zM511.79 445.93H516.93V448.48H511.79zM532.36 445.93H540.07V448.48H532.36zM542.64 445.93H545.21V448.48H542.64zM560.64 445.93H563.21V448.48H560.64zM478.36 448.48H480.93V451.02H478.36zM486.07 448.48H488.64V451.02H486.07zM524.64 448.48H527.21V451.02H524.64zM532.36 448.48H534.93V451.02H532.36zM540.07 448.48H542.64V451.02H540.07zM570.93 448.48H576.07V451.02H570.93zM583.79 448.48H588.93V451.02H583.79zM493.79 451.02H496.36V453.57H493.79zM511.79 451.02H514.36V453.57H511.79zM524.64 451.02H527.21V453.57H524.64zM540.07 451.02H542.64V453.57H540.07zM488.64 453.57H493.79V456.11H488.64zM534.93 453.57H542.64V456.11H534.93zM563.21 453.57H565.79V456.11H563.21zM519.5 456.11H532.36V458.66H519.5zM534.93 456.11H537.5V458.66H534.93zM581.21 456.11H586.36V458.66H581.21zM596.64 456.11H599.21V458.66H596.64zM496.36 458.66H498.93V461.21H496.36zM504.07 458.66H509.21V461.21H504.07zM573.5 458.66H576.07V461.21H573.5zM581.21 458.66H586.36V461.21H581.21zM604.36 458.66H606.93V461.21H604.36zM465.5 461.21H470.64V463.75H465.5zM504.07 461.21H506.64V463.75H504.07zM522.07 461.21H524.64V463.75H522.07zM576.07 461.21H578.64V463.75H576.07zM594.07 461.21H599.21V463.75H594.07zM606.93 461.21H609.5V463.75H606.93zM491.21 463.75H493.79V466.3H491.21zM496.36 463.75H501.5V466.3H496.36zM519.5 463.75H522.07V466.3H519.5zM573.5 463.75H576.07V466.3H573.5zM586.36 463.75H588.93V466.3H586.36zM591.5 463.75H594.07V466.3H591.5zM596.64 463.75H599.21V466.3H596.64zM604.36 463.75H609.5V466.3H604.36zM470.64 466.3H473.21V468.85H470.64zM496.36 466.3H498.93V468.85H496.36zM511.79 466.3H516.93V468.85H511.79zM573.5 466.3H578.64V468.85H573.5zM601.79 466.3H609.5V468.85H601.79zM491.21 468.85H496.36V471.39H491.21zM498.93 468.85H501.5V471.39H498.93zM504.07 468.85H509.21V471.39H504.07zM576.07 468.85H578.64V471.39H576.07zM604.36 468.85H606.93V471.39H604.36zM478.36 471.39H480.93V473.94H478.36zM493.79 471.39H496.36V473.94H493.79zM501.5 471.39H504.07V473.94H501.5zM573.5 471.39H576.07V473.94H573.5zM588.93 471.39H591.5V473.94H588.93zM596.64 471.39H601.79V473.94H596.64zM493.79 473.94H496.36V476.49H493.79zM591.5 473.94H594.07V476.49H591.5zM599.21 473.94H601.79V476.49H599.21zM604.36 473.94H609.5V476.49H604.36zM486.07 476.49H488.64V479.03H486.07zM493.79 476.49H501.5V479.03H493.79zM596.64 476.49H604.36V479.03H596.64zM491.21 479.03H493.79V481.58H491.21zM591.5 479.03H594.07V481.58H591.5zM596.64 479.03H599.21V481.58H596.64zM486.07 481.58H491.21V484.12H486.07zM506.64 481.58H509.21V484.12H506.64zM568.36 481.58H570.93V484.12H568.36zM588.93 481.58H591.5V484.12H588.93zM478.36 484.12H480.93V486.67H478.36zM519.5 484.12H527.21V486.67H519.5zM532.36 484.12H534.93V486.67H532.36zM540.07 484.12H542.64V486.67H540.07zM545.21 484.12H555.5V486.67H545.21zM560.64 484.12H563.21V486.67H560.64zM565.79 484.12H568.36V486.67H565.79zM570.93 484.12H573.5V486.67H570.93zM470.64 486.67H473.21V489.22H470.64zM475.79 486.67H480.93V489.22H475.79zM483.5 486.67H486.07V489.22H483.5zM493.79 486.67H496.36V489.22H493.79zM504.07 486.67H506.64V489.22H504.07zM516.93 486.67H519.5V489.22H516.93zM524.64 486.67H527.21V489.22H524.64zM532.36 486.67H534.93V489.22H532.36zM542.64 486.67H552.93V489.22H542.64zM563.21 486.67H565.79V489.22H563.21zM516.93 489.22H522.07V491.76H516.93zM524.64 489.22H529.79V491.76H524.64zM537.5 489.22H545.21V491.76H537.5zM547.79 489.22H550.36V491.76H547.79zM578.64 489.22H581.21V491.76H578.64zM522.07 491.76H527.21V494.31H522.07zM540.07 491.76H547.79V494.31H540.07zM563.21 491.76H565.79V494.31H563.21zM568.36 491.76H570.93V494.31H568.36zM522.07 494.31H532.36V496.86H522.07zM542.64 494.31H545.21V496.86H542.64zM547.79 494.31H550.36V496.86H547.79zM558.07 494.31H560.64V496.86H558.07zM563.21 494.31H570.93V496.86H563.21zM511.79 496.86H514.36V499.4H511.79zM516.93 496.86H519.5V499.4H516.93zM524.64 496.86H529.79V499.4H524.64zM547.79 496.86H552.93V499.4H547.79zM555.5 496.86H578.64V499.4H555.5zM516.93 499.4H519.5V501.95H516.93zM532.36 499.4H534.93V501.95H532.36zM542.64 499.4H545.21V501.95H542.64zM552.93 499.4H560.64V501.95H552.93zM563.21 499.4H565.79V501.95H563.21zM568.36 499.4H573.5V501.95H568.36zM576.07 499.4H578.64V501.95H576.07zM583.79 499.4H586.36V501.95H583.79zM542.64 501.95H545.21V504.5H542.64zM550.36 501.95H552.93V504.5H550.36zM555.5 501.95H558.07V504.5H555.5zM560.64 501.95H573.5V504.5H560.64zM604.36 501.95H606.93V504.5H604.36zM540.07 504.5H542.64V507.04H540.07zM545.21 504.5H547.79V507.04H545.21zM560.64 504.5H563.21V507.04H560.64zM547.79 507.04H552.93V509.59H547.79zM558.07 507.04H560.64V509.59H558.07zM563.21 507.04H565.79V509.59H563.21zM588.93 507.04H591.5V509.59H588.93zM470.64 509.59H473.21V512.14H470.64zM501.5 509.59H509.21V512.14H501.5zM524.64 509.59H527.21V512.14H524.64zM529.79 509.59H532.36V512.14H529.79zM547.79 509.59H550.36V512.14H547.79zM563.21 509.59H565.79V512.14H563.21zM509.21 512.14H511.79V514.68H509.21zM542.64 512.14H545.21V514.68H542.64zM547.79 512.14H550.36V514.68H547.79zM573.5 512.14H576.07V514.68H573.5zM583.79 512.14H586.36V514.68H583.79zM475.79 514.68H478.36V517.23H475.79zM552.93 514.68H555.5V517.23H552.93zM558.07 514.68H560.64V517.23H558.07zM573.5 514.68H576.07V517.23H573.5zM514.36 517.23H516.93V519.77H514.36zM529.79 517.23H532.36V519.77H529.79zM552.93 517.23H555.5V519.77H552.93zM573.5 517.23H576.07V519.77H573.5zM606.93 517.23H609.5V519.77H606.93zM491.21 519.77H496.36V522.32H491.21zM558.07 519.77H560.64V522.32H558.07zM529.79 522.32H532.36V524.87H529.79zM578.64 522.32H581.21V524.87H578.64zM586.36 522.32H588.93V524.87H586.36zM596.64 522.32H599.21V524.87H596.64zM488.64 524.87H491.21V527.41H488.64zM483.5 527.41H486.07V529.96H483.5zM488.64 527.41H491.21V529.96H488.64zM514.36 529.96H516.93V532.51H514.36zM573.5 529.96H576.07V532.51H573.5zM496.36 532.51H498.93V535.05H496.36zM576.07 532.51H578.64V535.05H576.07zM473.21 535.05H478.36V537.6H473.21zM498.93 535.05H501.5V537.6H498.93zM529.79 535.05H532.36V537.6H529.79zM542.64 535.05H545.21V537.6H542.64zM573.5 535.05H581.21V537.6H573.5z"/>
<path fill="#000eff" d="M552.93 407.73H555.5V410.28H552.93zM576.07 417.92H578.64V420.46H576.07zM568.36 425.56H570.93V428.1H568.36zM486.07 435.74H488.64V438.29H486.07zM516.93 438.29H519.5V440.84H516.93zM558.07 440.84H560.64V443.38H558.07zM604.36 440.84H606.93V443.38H604.36zM522.07 445.93H524.64V448.48H522.07zM568.36 456.11H570.93V458.66H568.36zM514.36 458.66H516.93V461.21H514.36zM522.07 463.75H524.64V466.3H522.07zM516.93 466.3H519.5V468.85H516.93zM501.5 479.03H504.07V481.58H501.5zM504.07 481.58H506.64V484.12H504.07zM542.64 484.12H545.21V486.67H542.64zM578.64 484.12H581.21V486.67H578.64zM534.93 486.67H537.5V489.22H534.93zM545.21 489.22H547.79V491.76H545.21zM563.21 489.22H565.79V491.76H563.21zM506.64 494.31H509.21V496.86H506.64zM537.5 494.31H540.07V496.86H537.5zM509.21 496.86H511.79V499.4H509.21zM475.79 499.4H478.36V501.95H475.79zM540.07 501.95H542.64V504.5H540.07zM604.36 504.5H606.93V507.04H604.36zM504.07 507.04H506.64V509.59H504.07zM552.93 507.04H555.5V509.59H552.93zM501.5 512.14H504.07V514.68H501.5zM550.36 512.14H552.93V514.68H550.36zM486.07 514.68H488.64V517.23H486.07zM483.5 517.23H486.07V519.77H483.5zM509.21 535.05H511.79V537.6H509.21z"/>
<path fill="#0020ff" d="M506.64 395H509.21V397.55H506.64zM480.93 400.09H483.5V402.64H480.93zM491.21 412.82H493.79V415.37H491.21zM601.79 423.01H604.36V425.56H601.79zM552.93 438.29H555.5V440.84H552.93zM529.79 440.84H532.36V443.38H529.79zM527.21 448.48H529.79V451.02H527.21zM560.64 458.66H563.21V461.21H560.64zM576.07 458.66H578.64V461.21H576.07zM514.36 461.21H516.93V463.75H514.36zM601.79 473.94H604.36V476.49H601.79zM606.93 476.49H609.5V479.03H606.93zM552.93 481.58H555.5V484.12H552.93zM558.07 481.58H563.21V484.12H558.07zM599.21 484.12H601.79V486.67H599.21zM465.5 486.67H468.07V489.22H465.5zM496.36 489.22H498.93V491.76H496.36zM578.64 512.14H581.21V514.68H578.64zM504.07 522.32H506.64V524.87H504.07zM588.93 524.87H591.5V527.41H588.93z"/>
<path fill="#0032ff" d="M527.21 402.64H529.79V405.19H527.21zM493.79 407.73H496.36V410.28H493.79zM506.64 417.92H509.21V420.46H506.64zM560.64 423.01H563.21V425.56H560.64zM468.07 433.2H470.64V435.74H468.07zM565.79 451.02H568.36V453.57H565.79zM506.64 466.3H509.21V468.85H506.64zM586.36 468.85H588.93V471.39H586.36zM570.93 471.39H573.5V473.94H570.93zM519.5 481.58H522.07V484.12H519.5zM516.93 484.12H519.5V486.67H516.93zM583.79 484.12H586.36V486.67H583.79zM506.64 491.76H509.21V494.31H506.64zM565.79 491.76H568.36V494.31H565.79zM565.79 499.4H568.36V501.95H565.79zM540.07 522.32H542.64V524.87H540.07zM581.21 522.32H583.79V524.87H581.21z"/>
<path fill="#0044ff" d="M563.21 430.65H565.79V433.2H563.21zM550.36 453.57H552.93V456.11H550.36zM563.21 456.11H565.79V458.66H563.21zM509.21 481.58H511.79V484.12H509.21zM522.07 481.58H524.64V484.12H522.07zM514.36 499.4H516.93V501.95H514.36zM606.93 501.95H609.5V504.5H606.93zM529.79 514.68H532.36V517.23H529.79z"/>
<path fill="#0056ff" d="M527.21 461.21H529.79V463.75H527.21zM511.79 481.58H514.36V484.12H511.79z"/>
<path fill="#0067ff" d="M570.93 468.85H573.5V471.39H570.93zM570.93 473.94H573.5V476.49H570.93zM532.36 481.58H534.93V484.12H532.36z"/>
<path fill="#0079ff" d="M550.36 456.11H552.93V458.66H550.36zM570.93 476.49H573.5V479.03H570.93zM570.93 479.03H573.5V481.58H570.93zM529.79 481.58H532.36V484.12H529.79zM534.93 481.58H537.5V484.12H534.93z"/>
<path fill="#008bff" d="M509.21 468.85H511.79V471.39H509.21zM504.07 479.03H506.64V481.58H504.07zM514.36 481.58H516.93V484.12H514.36zM540.07 481.58H542.64V484.12H540.07zM555.5 481.58H558.07V484.12H555.5z"/>
<path fill="#009dff" d="M545.21 451.02H547.79V453.57H545.21zM501.5 476.49H504.07V479.03H501.5zM565.79 479.03H568.36V481.58H565.79z"/>
<path fill="#00afff" d="M547.79 451.02H550.36V453.57H547.79zM506.64 479.03H509.21V481.58H506.64zM555.5 479.03H558.07V481.58H555.5zM516.93 481.58H519.5V484.12H516.93zM537.5 481.58H540.07V484.12H537.5z"/>
<path fill="#00c1ff" d="M552.93 458.66H555.5V461.21H552.93zM568.36 476.49H570.93V479.03H568.36zM545.21 481.58H550.36V484.12H545.21z"/>
<path fill="#00d3ff" d="M537.5 456.11H540.07V458.66H537.5zM529.79 458.66H532.36V461.21H529.79zM504.07 471.39H506.64V473.94H504.07zM501.5 473.94H504.07V476.49H501.5zM550.36 481.58H552.93V484.12H550.36z"/>
<path fill="#00e5ff" d="M519.5 479.03H522.07V481.58H519.5zM524.64 481.58H527.21V484.12H524.64z"/>
<path fill="#00f7ff" d="M542.64 453.57H545.21V456.11H542.64zM568.36 458.66H570.93V461.21H568.36zM511.79 468.85H516.93V471.39H511.79zM565.79 473.94H570.93V476.49H565.79zM558.07 476.49H560.64V479.03H558.07zM514.36 479.03H516.93V481.58H514.36zM560.64 479.03H565.79V481.58H560.64z"/>
<path fill="#0afff5" d="M519.5 466.3H522.07V468.85H519.5zM563.21 476.49H565.79V479.03H563.21zM558.07 479.03H560.64V481.58H558.07zM542.64 481.58H545.21V484.12H542.64z"/>
<path fill="#1cffe3" d="M524.64 463.75H527.21V466.3H524.64zM565.79 476.49H568.36V479.03H565.79zM568.36 479.03H570.93V481.58H568.36zM527.21 481.58H529.79V484.12H527.21z"/>
<path fill="#2effd1" d="M558.07 461.21H560.64V463.75H558.07zM560.64 473.94H563.21V476.49H560.64zM504.07 476.49H506.64V479.03H504.07zM511.79 479.03H514.36V481.58H511.79z"/>
<path fill="#40ffbf" d="M504.07 473.94H506.64V476.49H504.07zM509.21 479.03H511.79V481.58H509.21z"/>
<path fill="#51ffae" d="M565.79 456.11H568.36V458.66H565.79zM563.21 458.66H565.79V461.21H563.21zM560.64 461.21H563.21V463.75H560.64zM516.93 468.85H519.5V471.39H516.93zM506.64 471.39H509.21V473.94H506.64zM555.5 476.49H558.07V479.03H555.5zM560.64 476.49H563.21V479.03H560.64zM516.93 479.03H519.5V481.58H516.93zM550.36 479.03H555.5V481.58H550.36z"/>
<path fill="#63ff9c" d="M529.79 461.21H532.36V463.75H529.79zM506.64 473.94H509.21V476.49H506.64zM563.21 473.94H565.79V476.49H563.21zM522.07 479.03H527.21V481.58H522.07zM537.5 479.03H540.07V481.58H537.5zM545.21 479.03H547.79V481.58H545.21z"/>
<path fill="#75ff8a" d="M532.36 458.66H534.93V461.21H532.36zM558.07 473.94H560.64V476.49H558.07zM506.64 476.49H511.79V479.03H506.64zM534.93 479.03H537.5V481.58H534.93z"/>
<path fill="#87ff78" d="M545.21 453.57H547.79V456.11H545.21zM550.36 458.66H552.93V461.21H550.36zM542.64 479.03H545.21V481.58H542.64zM547.79 479.03H550.36V481.58H547.79z"/>
<path fill="#99ff66" d="M511.79 476.49H514.36V479.03H511.79zM540.07 476.49H542.64V479.03H540.07z"/>
<path fill="#abff54" d="M534.93 458.66H537.5V461.21H534.93zM527.21 463.75H529.79V466.3H527.21zM509.21 471.39H511.79V473.94H509.21zM516.93 471.39H519.5V473.94H516.93zM514.36 476.49H516.93V479.03H514.36zM522.07 476.49H524.64V479.03H522.07z"/>
<path fill="#bdff42" d="M522.07 466.3H524.64V468.85H522.07zM519.5 468.85H522.07V471.39H519.5zM568.36 468.85H570.93V471.39H568.36zM511.79 471.39H514.36V473.94H511.79zM522.07 471.39H524.64V473.94H522.07zM516.93 476.49H519.5V479.03H516.93zM524.64 476.49H527.21V479.03H524.64zM537.5 476.49H540.07V479.03H537.5zM529.79 479.03H532.36V481.58H529.79zM540.07 479.03H542.64V481.58H540.07z"/>
<path fill="#cfff30" d="M568.36 461.21H570.93V463.75H568.36zM568.36 463.75H570.93V466.3H568.36zM532.36 466.3H534.93V468.85H532.36zM568.36 466.3H570.93V468.85H568.36zM527.21 471.39H529.79V473.94H527.21zM558.07 471.39H560.64V473.94H558.07zM509.21 473.94H511.79V476.49H509.21zM555.5 473.94H558.07V476.49H555.5z"/>
<path fill="#e1ff1e" d="M540.07 456.11H542.64V458.66H540.07zM524.64 466.3H527.21V468.85H524.64zM519.5 471.39H522.07V473.94H519.5zM519.5 476.49H522.07V479.03H519.5z"/>
<path fill="#f3ff0c" d="M532.36 461.21H534.93V463.75H532.36zM534.93 463.75H537.5V466.3H534.93zM558.07 463.75H560.64V466.3H558.07zM565.79 466.3H568.36V468.85H565.79zM522.07 468.85H529.79V471.39H522.07zM560.64 468.85H563.21V471.39H560.64zM568.36 471.39H570.93V473.94H568.36zM511.79 473.94H514.36V476.49H511.79zM516.93 473.94H519.5V476.49H516.93zM552.93 476.49H555.5V479.03H552.93zM532.36 479.03H534.93V481.58H532.36z"/>
<path fill="#fff900" d="M555.5 461.21H558.07V463.75H555.5zM563.21 466.3H565.79V468.85H563.21zM552.93 468.85H555.5V471.39H552.93zM565.79 471.39H568.36V473.94H565.79zM534.93 476.49H537.5V479.03H534.93zM542.64 476.49H545.21V479.03H542.64z"/>
<path fill="#ffe700" d="M542.64 456.11H545.21V458.66H542.64zM565.79 458.66H568.36V461.21H565.79zM563.21 461.21H568.36V463.75H563.21zM532.36 463.75H534.93V466.3H532.36zM534.93 466.3H537.5V468.85H534.93zM514.36 471.39H516.93V473.94H514.36zM563.21 471.39H565.79V473.94H563.21zM522.07 473.94H524.64V476.49H522.07zM527.21 473.94H532.36V476.49H527.21zM527.21 476.49H529.79V479.03H527.21zM527.21 479.03H529.79V481.58H527.21z"/>
<path fill="#ffd500" d="M552.93 463.75H555.5V466.3H552.93zM558.07 468.85H560.64V471.39H558.07zM563.21 468.85H565.79V471.39H563.21zM524.64 471.39H527.21V473.94H524.64zM560.64 471.39H563.21V473.94H560.64zM545.21 473.94H547.79V476.49H545.21zM545.21 476.49H547.79V479.03H545.21z"/>
<path fill="#ffc400" d="M529.79 463.75H532.36V466.3H529.79zM529.79 471.39H532.36V473.94H529.79zM514.36 473.94H516.93V476.49H514.36zM524.64 473.94H527.21V476.49H524.64zM532.36 473.94H534.93V476.49H532.36zM540.07 473.94H542.64V476.49H540.07zM547.79 476.49H550.36V479.03H547.79z"/>
<path fill="#ffb200" d="M547.79 453.57H550.36V456.11H547.79zM534.93 461.21H537.5V463.75H534.93zM529.79 466.3H532.36V468.85H529.79zM532.36 468.85H534.93V471.39H532.36zM565.79 468.85H568.36V471.39H565.79zM547.79 473.94H550.36V476.49H547.79zM550.36 476.49H552.93V479.03H550.36z"/>
<path fill="#ffa000" d="M545.21 456.11H550.36V458.66H545.21zM547.79 458.66H550.36V461.21H547.79zM560.64 463.75H563.21V466.3H560.64zM558.07 466.3H560.64V468.85H558.07zM542.64 471.39H545.21V473.94H542.64zM552.93 471.39H555.5V473.94H552.93zM519.5 473.94H522.07V476.49H519.5zM550.36 473.94H552.93V476.49H550.36zM529.79 476.49H534.93V479.03H529.79z"/>
<path fill="#ff8e00" d="M537.5 461.21H540.07V463.75H537.5zM545.21 461.21H547.79V463.75H545.21zM552.93 461.21H555.5V463.75H552.93zM550.36 463.75H552.93V466.3H550.36zM563.21 463.75H568.36V466.3H563.21zM540.07 466.3H542.64V468.85H540.07zM560.64 466.3H563.21V468.85H560.64zM550.36 471.39H552.93V473.94H550.36zM555.5 471.39H558.07V473.94H555.5z"/>
<path fill="#ff7c00" d="M537.5 458.66H540.07V461.21H537.5zM545.21 458.66H547.79V461.21H545.21zM540.07 461.21H542.64V463.75H540.07zM555.5 463.75H558.07V466.3H555.5zM545.21 466.3H547.79V468.85H545.21zM552.93 466.3H555.5V468.85H552.93zM534.93 468.85H537.5V471.39H534.93zM532.36 471.39H534.93V473.94H532.36zM545.21 471.39H550.36V473.94H545.21zM537.5 473.94H540.07V476.49H537.5zM552.93 473.94H555.5V476.49H552.93z"/>
<path fill="#ff6a00" d="M540.07 458.66H542.64V461.21H540.07zM547.79 461.21H550.36V463.75H547.79zM529.79 468.85H532.36V471.39H529.79zM534.93 471.39H537.5V473.94H534.93zM542.64 473.94H545.21V476.49H542.64z"/>
<path fill="#ff5800" d="M527.21 466.3H529.79V468.85H527.21zM537.5 466.3H540.07V468.85H537.5zM555.5 468.85H558.07V471.39H555.5zM537.5 471.39H540.07V473.94H537.5z"/>
<path fill="#ff4600" d="M550.36 461.21H552.93V463.75H550.36zM550.36 466.3H552.93V468.85H550.36zM537.5 468.85H540.07V471.39H537.5zM545.21 468.85H547.79V471.39H545.21zM550.36 468.85H552.93V471.39H550.36zM540.07 471.39H542.64V473.94H540.07zM534.93 473.94H537.5V476.49H534.93z"/>
<path fill="#ff3400" d="M555.5 466.3H558.07V468.85H555.5zM542.64 468.85H545.21V471.39H542.64z"/>
<path fill="#ff2200" d="M537.5 463.75H540.07V466.3H537.5zM542.64 466.3H545.21V468.85H542.64zM540.07 468.85H542.64V471.39H540.07zM547.79 468.85H550.36V471.39H547.79z"/>
<path fill="#ff1000" d="M542.64 458.66H545.21V461.21H542.64zM542.64 463.75H550.36V466.3H542.64z"/>
<path fill="#eb0000" d="M542.64 461.21H545.21V463.75H542.64zM540.07 463.75H542.64V466.3H540.07z"/>
<path fill="#c80000" d="M547.79 466.3H550.36V468.85H547.79z"/>
</g>
<g shape-rendering="crispEdges">
<rect x="646.5" y="397.3" width="142.5" height="140.3" fill="#0000ab"/>
<path fill="#00008f" d="M781.37 404.82H783.91V407.32H781.37z"/>
<path fill="#00009d" d="M646.5 397.3H684.67V399.81H646.5zM687.21 397.3H692.3V399.81H687.21zM694.85 397.3H735.56V399.81H694.85zM740.65 397.3H745.74V399.81H740.65zM755.92 397.3H766.1V399.81H755.92zM768.64 397.3H789V399.81H768.64zM646.5 399.81H651.59V402.31H646.5zM656.68 399.81H661.77V402.31H656.68zM664.31 399.81H677.04V402.31H664.31zM679.58 399.81H692.3V402.31H679.58zM694.85 399.81H702.48V402.31H694.85zM705.03 399.81H712.66V402.31H705.03zM715.21 399.81H727.93V402.31H715.21zM730.47 399.81H738.11V402.31H730.47zM743.2 399.81H745.74V402.31H743.2zM753.38 399.81H755.92V402.31H753.38zM761.01 399.81H763.55V402.31H761.01zM771.19 399.81H776.28V402.31H771.19zM778.82 399.81H786.46V402.31H778.82zM646.5 402.31H654.13V404.82H646.5zM659.22 402.31H661.77V404.82H659.22zM664.31 402.31H707.57V404.82H664.31zM712.66 402.31H717.75V404.82H712.66zM720.29 402.31H722.84V404.82H720.29zM725.38 402.31H727.93V404.82H725.38zM730.47 402.31H740.65V404.82H730.47zM743.2 402.31H750.83V404.82H743.2zM753.38 402.31H781.37V404.82H753.38zM783.91 402.31H789V404.82H783.91zM646.5 404.82H654.13V407.32H646.5zM656.68 404.82H664.31V407.32H656.68zM666.86 404.82H674.49V407.32H666.86zM687.21 404.82H689.76V407.32H687.21zM692.3 404.82H694.85V407.32H692.3zM697.39 404.82H702.48V407.32H697.39zM705.03 404.82H715.21V407.32H705.03zM733.02 404.82H740.65V407.32H733.02zM758.46 404.82H776.28V407.32H758.46zM778.82 404.82H781.37V407.32H778.82zM783.91 404.82H786.46V407.32H783.91zM646.5 407.32H656.68V409.83H646.5zM666.86 407.32H671.95V409.83H666.86zM682.12 407.32H684.67V409.83H682.12zM687.21 407.32H692.3V409.83H687.21zM694.85 407.32H697.39V409.83H694.85zM705.03 407.32H707.57V409.83H705.03zM712.66 407.32H715.21V409.83H712.66zM720.29 407.32H722.84V409.83H720.29zM725.38 407.32H735.56V409.83H725.38zM740.65 407.32H743.2V409.83H740.65zM745.74 407.32H753.38V409.83H745.74zM763.55 407.32H766.1V409.83H763.55zM768.64 407.32H773.73V409.83H768.64zM778.82 407.32H786.46V409.83H778.82zM646.5 409.83H651.59V412.33H646.5zM661.77 409.83H664.31V412.33H661.77zM666.86 409.83H671.95V412.33H666.86zM684.67 409.83H687.21V412.33H684.67zM689.76 409.83H694.85V412.33H689.76zM697.39 409.83H699.94V412.33H697.39zM702.48 409.83H707.57V412.33H702.48zM738.11 409.83H740.65V412.33H738.11zM748.29 409.83H753.38V412.33H748.29zM755.92 409.83H789V412.33H755.92zM646.5 412.33H666.86V414.84H646.5zM697.39 412.33H699.94V414.84H697.39zM705.03 412.33H707.57V414.84H705.03zM722.84 412.33H725.38V414.84H722.84zM735.56 412.33H738.11V414.84H735.56zM745.74 412.33H753.38V414.84H745.74zM758.46 412.33H763.55V414.84H758.46zM768.64 412.33H789V414.84H768.64zM649.04 414.84H656.68V417.34H649.04zM659.22 414.84H669.4V417.34H659.22zM692.3 414.84H694.85V417.34H692.3zM738.11 414.84H740.65V417.34H738.11zM748.29 414.84H750.83V417.34H748.29zM766.1 414.84H789V417.34H766.1zM651.59 417.34H656.68V419.85H651.59zM687.21 417.34H689.76V419.85H687.21zM755.92 417.34H758.46V419.85H755.92zM761.01 417.34H763.55V419.85H761.01zM768.64 417.34H771.19V419.85H768.64zM773.73 417.34H786.46V419.85H773.73zM651.59 419.85H654.13V422.35H651.59zM656.68 419.85H659.22V422.35H656.68zM666.86 419.85H669.4V422.35H666.86zM671.95 419.85H674.49V422.35H671.95zM740.65 419.85H743.2V422.35H740.65zM755.92 419.85H766.1V422.35H755.92zM768.64 419.85H773.73V422.35H768.64zM776.28 419.85H778.82V422.35H776.28zM786.46 419.85H789V422.35H786.46zM646.5 422.35H649.04V424.86H646.5zM651.59 422.35H661.77V424.86H651.59zM666.86 422.35H669.4V424.86H666.86zM781.37 422.35H789V424.86H781.37zM651.59 424.86H659.22V427.36H651.59zM661.77 424.86H666.86V427.36H661.77zM669.4 424.86H671.95V427.36H669.4zM684.67 424.86H687.21V427.36H684.67zM776.28 424.86H783.91V427.36H776.28zM786.46 424.86H789V427.36H786.46zM646.5 427.36H654.13V429.87H646.5zM664.31 427.36H671.95V429.87H664.31zM786.46 427.36H789V429.87H786.46zM649.04 429.87H651.59V432.38H649.04zM654.13 429.87H656.68V432.38H654.13zM661.77 429.87H664.31V432.38H661.77zM666.86 429.87H669.4V432.38H666.86zM646.5 432.38H656.68V434.88H646.5zM661.77 432.38H664.31V434.88H661.77zM786.46 432.38H789V434.88H786.46zM646.5 434.88H654.13V437.39H646.5zM659.22 434.88H666.86V437.39H659.22zM781.37 434.88H783.91V437.39H781.37zM786.46 434.88H789V437.39H786.46zM651.59 437.39H654.13V439.89H651.59zM654.13 439.89H656.68V442.4H654.13zM786.46 439.89H789V442.4H786.46zM651.59 442.4H654.13V444.9H651.59zM786.46 442.4H789V444.9H786.46zM649.04 444.9H651.59V447.41H649.04zM654.13 447.41H656.68V449.91H654.13zM646.5 454.92H651.59V457.43H646.5zM786.46 482.48H789V484.99H786.46zM783.91 500.02H789V502.53H783.91zM786.46 502.53H789V505.03H786.46zM646.5 505.03H649.04V507.54H646.5zM654.13 505.03H656.68V507.54H654.13zM649.04 507.54H656.68V510.04H649.04zM661.77 507.54H664.31V510.04H661.77zM783.91 507.54H789V510.04H783.91zM656.68 510.04H659.22V512.55H656.68zM778.82 510.04H783.91V512.55H778.82zM786.46 510.04H789V512.55H786.46zM654.13 512.55H656.68V515.05H654.13zM778.82 512.55H781.37V515.05H778.82zM783.91 512.55H786.46V515.05H783.91zM646.5 515.05H654.13V517.56H646.5zM661.77 515.05H664.31V517.56H661.77zM778.82 515.05H786.46V517.56H778.82zM654.13 517.56H664.31V520.06H654.13zM666.86 517.56H671.95V520.06H666.86zM768.64 517.56H773.73V520.06H768.64zM778.82 517.56H786.46V520.06H778.82zM651.59 520.06H659.22V522.57H651.59zM661.77 520.06H669.4V522.57H661.77zM671.95 520.06H674.49V522.57H671.95zM677.04 520.06H682.12V522.57H677.04zM753.38 520.06H755.92V522.57H753.38zM781.37 520.06H789V522.57H781.37zM654.13 522.57H656.68V525.07H654.13zM671.95 522.57H674.49V525.07H671.95zM689.76 522.57H692.3V525.07H689.76zM766.1 522.57H773.73V525.07H766.1zM778.82 522.57H781.37V525.07H778.82zM783.91 522.57H786.46V525.07H783.91zM649.04 525.07H661.77V527.58H649.04zM664.31 525.07H666.86V527.58H664.31zM669.4 525.07H674.49V527.58H669.4zM687.21 525.07H689.76V527.58H687.21zM758.46 525.07H763.55V527.58H758.46zM766.1 525.07H768.64V527.58H766.1zM781.37 525.07H786.46V527.58H781.37zM651.59 527.58H661.77V530.08H651.59zM707.57 527.58H710.12V530.08H707.57zM712.66 527.58H715.21V530.08H712.66zM725.38 527.58H727.93V530.08H725.38zM730.47 527.58H733.02V530.08H730.47zM743.2 527.58H748.29V530.08H743.2zM750.83 527.58H753.38V530.08H750.83zM755.92 527.58H758.46V530.08H755.92zM761.01 527.58H766.1V530.08H761.01zM768.64 527.58H771.19V530.08H768.64zM778.82 527.58H781.37V530.08H778.82zM786.46 527.58H789V530.08H786.46zM649.04 530.08H659.22V532.59H649.04zM661.77 530.08H669.4V532.59H661.77zM677.04 530.08H679.58V532.59H677.04zM682.12 530.08H684.67V532.59H682.12zM710.12 530.08H712.66V532.59H710.12zM727.93 530.08H733.02V532.59H727.93zM735.56 530.08H738.11V532.59H735.56zM743.2 530.08H745.74V532.59H743.2zM748.29 530.08H763.55V532.59H748.29zM766.1 530.08H768.64V532.59H766.1zM773.73 530.08H776.28V532.59H773.73zM778.82 530.08H789V532.59H778.82zM646.5 532.59H654.13V535.09H646.5zM656.68 532.59H659.22V535.09H656.68zM666.86 532.59H674.49V535.09H666.86zM677.04 532.59H682.12V535.09H677.04zM684.67 532.59H687.21V535.09H684.67zM689.76 532.59H692.3V535.09H689.76zM699.94 532.59H702.48V535.09H699.94zM712.66 532.59H715.21V535.09H712.66zM730.47 532.59H733.02V535.09H730.47zM735.56 532.59H740.65V535.09H735.56zM743.2 532.59H745.74V535.09H743.2zM748.29 532.59H755.92V535.09H748.29zM761.01 532.59H763.55V535.09H761.01zM766.1 532.59H786.46V535.09H766.1zM646.5 535.09H649.04V537.6H646.5zM651.59 535.09H661.77V537.6H651.59zM664.31 535.09H674.49V537.6H664.31zM677.04 535.09H679.58V537.6H677.04zM689.76 535.09H692.3V537.6H689.76zM694.85 535.09H699.94V537.6H694.85zM720.29 535.09H727.93V537.6H720.29zM730.47 535.09H740.65V537.6H730.47zM755.92 535.09H758.46V537.6H755.92zM763.55 535.09H783.91V537.6H763.55zM786.46 535.09H789V537.6H786.46z"/>
<path fill="#0000b9" d="M689.76 417.34H692.3V419.85H689.76zM710.12 417.34H712.66V419.85H710.12zM715.21 417.34H717.75V419.85H715.21zM722.84 417.34H727.93V419.85H722.84zM702.48 419.85H705.03V422.35H702.48zM715.21 419.85H720.29V422.35H715.21zM735.56 419.85H738.11V422.35H735.56zM682.12 422.35H684.67V424.86H682.12zM699.94 422.35H702.48V424.86H699.94zM707.57 422.35H733.02V424.86H707.57zM699.94 424.86H705.03V427.36H699.94zM712.66 424.86H722.84V427.36H712.66zM725.38 424.86H730.47V427.36H725.38zM733.02 424.86H738.11V427.36H733.02zM758.46 424.86H761.01V427.36H758.46zM692.3 427.36H697.39V429.87H692.3zM699.94 427.36H707.57V429.87H699.94zM710.12 427.36H717.75V429.87H710.12zM722.84 427.36H735.56V429.87H722.84zM738.11 427.36H750.83V429.87H738.11zM753.38 427.36H755.92V429.87H753.38zM758.46 427.36H763.55V429.87H758.46zM656.68 429.87H659.22V432.38H656.68zM679.58 429.87H687.21V432.38H679.58zM692.3 429.87H710.12V432.38H692.3zM712.66 429.87H725.38V432.38H712.66zM727.93 429.87H733.02V432.38H727.93zM738.11 429.87H743.2V432.38H738.11zM745.74 429.87H753.38V432.38H745.74zM761.01 429.87H766.1V432.38H761.01zM677.04 432.38H694.85V434.88H677.04zM697.39 432.38H730.47V434.88H697.39zM733.02 432.38H745.74V434.88H733.02zM748.29 432.38H761.01V434.88H748.29zM768.64 432.38H771.19V434.88H768.64zM674.49 434.88H684.67V437.39H674.49zM687.21 434.88H694.85V437.39H687.21zM697.39 434.88H699.94V437.39H697.39zM702.48 434.88H707.57V437.39H702.48zM712.66 434.88H715.21V437.39H712.66zM717.75 434.88H733.02V437.39H717.75zM735.56 434.88H750.83V437.39H735.56zM755.92 434.88H758.46V437.39H755.92zM666.86 437.39H669.4V439.89H666.86zM674.49 437.39H689.76V439.89H674.49zM697.39 437.39H705.03V439.89H697.39zM710.12 437.39H712.66V439.89H710.12zM717.75 437.39H720.29V439.89H717.75zM733.02 437.39H735.56V439.89H733.02zM740.65 437.39H750.83V439.89H740.65zM753.38 437.39H758.46V439.89H753.38zM761.01 437.39H768.64V439.89H761.01zM646.5 439.89H651.59V442.4H646.5zM659.22 439.89H661.77V442.4H659.22zM669.4 439.89H671.95V442.4H669.4zM677.04 439.89H684.67V442.4H677.04zM687.21 439.89H692.3V442.4H687.21zM697.39 439.89H699.94V442.4H697.39zM705.03 439.89H707.57V442.4H705.03zM720.29 439.89H722.84V442.4H720.29zM730.47 439.89H735.56V442.4H730.47zM740.65 439.89H745.74V442.4H740.65zM748.29 439.89H750.83V442.4H748.29zM753.38 439.89H768.64V442.4H753.38zM656.68 442.4H659.22V444.9H656.68zM677.04 442.4H687.21V444.9H677.04zM689.76 442.4H692.3V444.9H689.76zM699.94 442.4H702.48V444.9H699.94zM738.11 442.4H740.65V444.9H738.11zM745.74 442.4H748.29V444.9H745.74zM750.83 442.4H768.64V444.9H750.83zM771.19 442.4H776.28V444.9H771.19zM664.31 444.9H666.86V447.41H664.31zM669.4 444.9H674.49V447.41H669.4zM677.04 444.9H687.21V447.41H677.04zM745.74 444.9H748.29V447.41H745.74zM750.83 444.9H761.01V447.41H750.83zM766.1 444.9H768.64V447.41H766.1zM776.28 444.9H778.82V447.41H776.28zM661.77 447.41H664.31V449.91H661.77zM669.4 447.41H687.21V449.91H669.4zM748.29 447.41H761.01V449.91H748.29zM763.55 447.41H768.64V449.91H763.55zM771.19 447.41H773.73V449.91H771.19zM778.82 447.41H781.37V449.91H778.82zM661.77 449.91H664.31V452.42H661.77zM669.4 449.91H677.04V452.42H669.4zM679.58 449.91H684.67V452.42H679.58zM745.74 449.91H748.29V452.42H745.74zM755.92 449.91H773.73V452.42H755.92zM783.91 449.91H786.46V452.42H783.91zM656.68 452.42H661.77V454.92H656.68zM664.31 452.42H674.49V454.92H664.31zM677.04 452.42H679.58V454.92H677.04zM755.92 452.42H768.64V454.92H755.92zM773.73 452.42H781.37V454.92H773.73zM659.22 454.92H661.77V457.43H659.22zM666.86 454.92H677.04V457.43H666.86zM684.67 454.92H687.21V457.43H684.67zM761.01 454.92H766.1V457.43H761.01zM768.64 454.92H776.28V457.43H768.64zM781.37 454.92H786.46V457.43H781.37zM649.04 457.43H651.59V459.93H649.04zM659.22 457.43H671.95V459.93H659.22zM674.49 457.43H677.04V459.93H674.49zM758.46 457.43H761.01V459.93H758.46zM766.1 457.43H778.82V459.93H766.1zM651.59 459.93H654.13V462.44H651.59zM664.31 459.93H669.4V462.44H664.31zM671.95 459.93H677.04V462.44H671.95zM768.64 459.93H771.19V462.44H768.64zM773.73 459.93H781.37V462.44H773.73zM651.59 462.44H654.13V464.94H651.59zM656.68 462.44H659.22V464.94H656.68zM661.77 462.44H674.49V464.94H661.77zM766.1 462.44H778.82V464.94H766.1zM649.04 464.94H654.13V467.45H649.04zM666.86 464.94H669.4V467.45H666.86zM674.49 464.94H679.58V467.45H674.49zM763.55 464.94H766.1V467.45H763.55zM768.64 464.94H778.82V467.45H768.64zM649.04 467.45H651.59V469.96H649.04zM654.13 467.45H659.22V469.96H654.13zM664.31 467.45H666.86V469.96H664.31zM669.4 467.45H674.49V469.96H669.4zM766.1 467.45H786.46V469.96H766.1zM649.04 469.96H651.59V472.46H649.04zM659.22 469.96H661.77V472.46H659.22zM669.4 469.96H671.95V472.46H669.4zM674.49 469.96H677.04V472.46H674.49zM766.1 469.96H773.73V472.46H766.1zM776.28 469.96H783.91V472.46H776.28zM661.77 472.46H666.86V474.97H661.77zM669.4 472.46H674.49V474.97H669.4zM677.04 472.46H682.12V474.97H677.04zM766.1 472.46H768.64V474.97H766.1zM773.73 472.46H781.37V474.97H773.73zM783.91 472.46H786.46V474.97H783.91zM659.22 474.97H666.86V477.47H659.22zM669.4 474.97H671.95V477.47H669.4zM677.04 474.97H679.58V477.47H677.04zM761.01 474.97H776.28V477.47H761.01zM778.82 474.97H781.37V477.47H778.82zM783.91 474.97H789V477.47H783.91zM656.68 477.47H661.77V479.98H656.68zM664.31 477.47H669.4V479.98H664.31zM671.95 477.47H677.04V479.98H671.95zM761.01 477.47H763.55V479.98H761.01zM768.64 477.47H773.73V479.98H768.64zM776.28 477.47H781.37V479.98H776.28zM786.46 477.47H789V479.98H786.46zM649.04 479.98H651.59V482.48H649.04zM654.13 479.98H656.68V482.48H654.13zM659.22 479.98H666.86V482.48H659.22zM669.4 479.98H674.49V482.48H669.4zM677.04 479.98H679.58V482.48H677.04zM761.01 479.98H771.19V482.48H761.01zM776.28 479.98H781.37V482.48H776.28zM654.13 482.48H656.68V484.99H654.13zM659.22 482.48H674.49V484.99H659.22zM755.92 482.48H758.46V484.99H755.92zM768.64 482.48H771.19V484.99H768.64zM776.28 482.48H778.82V484.99H776.28zM661.77 484.99H679.58V487.49H661.77zM763.55 484.99H773.73V487.49H763.55zM778.82 484.99H781.37V487.49H778.82zM656.68 487.49H659.22V490H656.68zM664.31 487.49H677.04V490H664.31zM753.38 487.49H755.92V490H753.38zM761.01 487.49H773.73V490H761.01zM776.28 487.49H778.82V490H776.28zM786.46 487.49H789V490H786.46zM664.31 490H669.4V492.5H664.31zM671.95 490H682.12V492.5H671.95zM750.83 490H758.46V492.5H750.83zM763.55 490H771.19V492.5H763.55zM773.73 490H776.28V492.5H773.73zM778.82 490H783.91V492.5H778.82zM654.13 492.5H656.68V495.01H654.13zM666.86 492.5H682.12V495.01H666.86zM748.29 492.5H753.38V495.01H748.29zM758.46 492.5H763.55V495.01H758.46zM766.1 492.5H771.19V495.01H766.1zM773.73 492.5H776.28V495.01H773.73zM778.82 492.5H783.91V495.01H778.82zM654.13 495.01H656.68V497.51H654.13zM671.95 495.01H679.58V497.51H671.95zM682.12 495.01H684.67V497.51H682.12zM753.38 495.01H773.73V497.51H753.38zM786.46 495.01H789V497.51H786.46zM659.22 497.51H661.77V500.02H659.22zM664.31 497.51H666.86V500.02H664.31zM671.95 497.51H677.04V500.02H671.95zM679.58 497.51H684.67V500.02H679.58zM689.76 497.51H692.3V500.02H689.76zM699.94 497.51H702.48V500.02H699.94zM753.38 497.51H761.01V500.02H753.38zM763.55 497.51H771.19V500.02H763.55zM664.31 500.02H666.86V502.53H664.31zM671.95 500.02H677.04V502.53H671.95zM679.58 500.02H689.76V502.53H679.58zM694.85 500.02H702.48V502.53H694.85zM743.2 500.02H745.74V502.53H743.2zM748.29 500.02H750.83V502.53H748.29zM753.38 500.02H761.01V502.53H753.38zM763.55 500.02H766.1V502.53H763.55zM768.64 500.02H771.19V502.53H768.64zM659.22 502.53H661.77V505.03H659.22zM677.04 502.53H692.3V505.03H677.04zM694.85 502.53H702.48V505.03H694.85zM722.84 502.53H725.38V505.03H722.84zM738.11 502.53H740.65V505.03H738.11zM745.74 502.53H766.1V505.03H745.74zM666.86 505.03H669.4V507.54H666.86zM674.49 505.03H679.58V507.54H674.49zM684.67 505.03H705.03V507.54H684.67zM710.12 505.03H712.66V507.54H710.12zM730.47 505.03H733.02V507.54H730.47zM740.65 505.03H743.2V507.54H740.65zM745.74 505.03H766.1V507.54H745.74zM674.49 507.54H679.58V510.04H674.49zM682.12 507.54H720.29V510.04H682.12zM725.38 507.54H758.46V510.04H725.38zM763.55 507.54H768.64V510.04H763.55zM776.28 507.54H778.82V510.04H776.28zM666.86 510.04H669.4V512.55H666.86zM674.49 510.04H677.04V512.55H674.49zM684.67 510.04H699.94V512.55H684.67zM710.12 510.04H717.75V512.55H710.12zM720.29 510.04H722.84V512.55H720.29zM725.38 510.04H735.56V512.55H725.38zM738.11 510.04H743.2V512.55H738.11zM745.74 510.04H758.46V512.55H745.74zM761.01 510.04H763.55V512.55H761.01zM671.95 512.55H674.49V515.05H671.95zM679.58 512.55H697.39V515.05H679.58zM699.94 512.55H707.57V515.05H699.94zM710.12 512.55H722.84V515.05H710.12zM725.38 512.55H733.02V515.05H725.38zM735.56 512.55H748.29V515.05H735.56zM755.92 512.55H758.46V515.05H755.92zM679.58 515.05H682.12V517.56H679.58zM684.67 515.05H697.39V517.56H684.67zM699.94 515.05H707.57V517.56H699.94zM710.12 515.05H712.66V517.56H710.12zM715.21 515.05H738.11V517.56H715.21zM740.65 515.05H748.29V517.56H740.65zM682.12 517.56H684.67V520.06H682.12zM699.94 517.56H702.48V520.06H699.94zM705.03 517.56H715.21V520.06H705.03zM717.75 517.56H720.29V520.06H717.75zM722.84 517.56H733.02V520.06H722.84zM750.83 517.56H753.38V520.06H750.83zM684.67 520.06H687.21V522.57H684.67zM707.57 520.06H712.66V522.57H707.57zM722.84 520.06H725.38V522.57H722.84zM730.47 520.06H733.02V522.57H730.47zM735.56 520.06H738.11V522.57H735.56zM702.48 522.57H705.03V525.07H702.48zM710.12 522.57H712.66V525.07H710.12zM717.75 522.57H720.29V525.07H717.75zM733.02 522.57H735.56V525.07H733.02zM702.48 525.07H705.03V527.58H702.48zM707.57 525.07H710.12V527.58H707.57zM682.12 527.58H684.67V530.08H682.12zM705.03 527.58H707.57V530.08H705.03z"/>
<path fill="#0000c7" d="M710.12 429.87H712.66V432.38H710.12zM725.38 429.87H727.93V432.38H725.38zM694.85 432.38H697.39V434.88H694.85zM730.47 432.38H733.02V434.88H730.47zM694.85 434.88H697.39V437.39H694.85zM699.94 434.88H702.48V437.39H699.94zM707.57 434.88H712.66V437.39H707.57zM715.21 434.88H717.75V437.39H715.21zM733.02 434.88H735.56V437.39H733.02zM689.76 437.39H697.39V439.89H689.76zM705.03 437.39H710.12V439.89H705.03zM712.66 437.39H717.75V439.89H712.66zM720.29 437.39H733.02V439.89H720.29zM735.56 437.39H740.65V439.89H735.56zM750.83 437.39H753.38V439.89H750.83zM684.67 439.89H687.21V442.4H684.67zM692.3 439.89H697.39V442.4H692.3zM699.94 439.89H705.03V442.4H699.94zM707.57 439.89H720.29V442.4H707.57zM722.84 439.89H730.47V442.4H722.84zM735.56 439.89H740.65V442.4H735.56zM745.74 439.89H748.29V442.4H745.74zM750.83 439.89H753.38V442.4H750.83zM687.21 442.4H689.76V444.9H687.21zM692.3 442.4H699.94V444.9H692.3zM702.48 442.4H712.66V444.9H702.48zM717.75 442.4H738.11V444.9H717.75zM740.65 442.4H745.74V444.9H740.65zM748.29 442.4H750.83V444.9H748.29zM687.21 444.9H705.03V447.41H687.21zM707.57 444.9H710.12V447.41H707.57zM712.66 444.9H717.75V447.41H712.66zM720.29 444.9H722.84V447.41H720.29zM725.38 444.9H735.56V447.41H725.38zM738.11 444.9H745.74V447.41H738.11zM748.29 444.9H750.83V447.41H748.29zM761.01 444.9H766.1V447.41H761.01zM687.21 447.41H707.57V449.91H687.21zM720.29 447.41H722.84V449.91H720.29zM725.38 447.41H727.93V449.91H725.38zM730.47 447.41H735.56V449.91H730.47zM738.11 447.41H748.29V449.91H738.11zM761.01 447.41H763.55V449.91H761.01zM677.04 449.91H679.58V452.42H677.04zM684.67 449.91H689.76V452.42H684.67zM692.3 449.91H697.39V452.42H692.3zM702.48 449.91H705.03V452.42H702.48zM720.29 449.91H722.84V452.42H720.29zM735.56 449.91H745.74V452.42H735.56zM750.83 449.91H755.92V452.42H750.83zM674.49 452.42H677.04V454.92H674.49zM679.58 452.42H689.76V454.92H679.58zM694.85 452.42H697.39V454.92H694.85zM735.56 452.42H738.11V454.92H735.56zM740.65 452.42H750.83V454.92H740.65zM677.04 454.92H684.67V457.43H677.04zM687.21 454.92H692.3V457.43H687.21zM738.11 454.92H740.65V457.43H738.11zM743.2 454.92H745.74V457.43H743.2zM748.29 454.92H761.01V457.43H748.29zM766.1 454.92H768.64V457.43H766.1zM677.04 457.43H687.21V459.93H677.04zM750.83 457.43H758.46V459.93H750.83zM761.01 457.43H766.1V459.93H761.01zM677.04 459.93H692.3V462.44H677.04zM694.85 459.93H697.39V462.44H694.85zM753.38 459.93H768.64V462.44H753.38zM674.49 462.44H689.76V464.94H674.49zM753.38 462.44H766.1V464.94H753.38zM669.4 464.94H674.49V467.45H669.4zM679.58 464.94H689.76V467.45H679.58zM753.38 464.94H758.46V467.45H753.38zM761.01 464.94H763.55V467.45H761.01zM766.1 464.94H768.64V467.45H766.1zM674.49 467.45H682.12V469.96H674.49zM753.38 467.45H766.1V469.96H753.38zM671.95 469.96H674.49V472.46H671.95zM677.04 469.96H684.67V472.46H677.04zM753.38 469.96H766.1V472.46H753.38zM773.73 469.96H776.28V472.46H773.73zM674.49 472.46H677.04V474.97H674.49zM753.38 472.46H766.1V474.97H753.38zM768.64 472.46H773.73V474.97H768.64zM666.86 474.97H669.4V477.47H666.86zM671.95 474.97H677.04V477.47H671.95zM755.92 474.97H761.01V477.47H755.92zM669.4 477.47H671.95V479.98H669.4zM677.04 477.47H679.58V479.98H677.04zM753.38 477.47H761.01V479.98H753.38zM763.55 477.47H768.64V479.98H763.55zM666.86 479.98H669.4V482.48H666.86zM674.49 479.98H677.04V482.48H674.49zM679.58 479.98H682.12V482.48H679.58zM755.92 479.98H761.01V482.48H755.92zM674.49 482.48H682.12V484.99H674.49zM753.38 482.48H755.92V484.99H753.38zM758.46 482.48H768.64V484.99H758.46zM679.58 484.99H689.76V487.49H679.58zM745.74 484.99H748.29V487.49H745.74zM750.83 484.99H763.55V487.49H750.83zM677.04 487.49H694.85V490H677.04zM743.2 487.49H745.74V490H743.2zM748.29 487.49H753.38V490H748.29zM755.92 487.49H761.01V490H755.92zM682.12 490H689.76V492.5H682.12zM699.94 490H702.48V492.5H699.94zM712.66 490H715.21V492.5H712.66zM730.47 490H735.56V492.5H730.47zM743.2 490H750.83V492.5H743.2zM758.46 490H763.55V492.5H758.46zM682.12 492.5H692.3V495.01H682.12zM694.85 492.5H697.39V495.01H694.85zM699.94 492.5H705.03V495.01H699.94zM720.29 492.5H722.84V495.01H720.29zM733.02 492.5H735.56V495.01H733.02zM738.11 492.5H740.65V495.01H738.11zM745.74 492.5H748.29V495.01H745.74zM753.38 492.5H758.46V495.01H753.38zM763.55 492.5H766.1V495.01H763.55zM679.58 495.01H682.12V497.51H679.58zM684.67 495.01H692.3V497.51H684.67zM699.94 495.01H705.03V497.51H699.94zM710.12 495.01H715.21V497.51H710.12zM717.75 495.01H722.84V497.51H717.75zM738.11 495.01H740.65V497.51H738.11zM743.2 495.01H745.74V497.51H743.2zM748.29 495.01H753.38V497.51H748.29zM677.04 497.51H679.58V500.02H677.04zM684.67 497.51H689.76V500.02H684.67zM692.3 497.51H699.94V500.02H692.3zM702.48 497.51H710.12V500.02H702.48zM715.21 497.51H717.75V500.02H715.21zM725.38 497.51H727.93V500.02H725.38zM738.11 497.51H745.74V500.02H738.11zM748.29 497.51H753.38V500.02H748.29zM761.01 497.51H763.55V500.02H761.01zM677.04 500.02H679.58V502.53H677.04zM689.76 500.02H694.85V502.53H689.76zM702.48 500.02H727.93V502.53H702.48zM730.47 500.02H743.2V502.53H730.47zM745.74 500.02H748.29V502.53H745.74zM750.83 500.02H753.38V502.53H750.83zM761.01 500.02H763.55V502.53H761.01zM692.3 502.53H694.85V505.03H692.3zM702.48 502.53H722.84V505.03H702.48zM725.38 502.53H738.11V505.03H725.38zM740.65 502.53H745.74V505.03H740.65zM705.03 505.03H710.12V507.54H705.03zM712.66 505.03H730.47V507.54H712.66zM733.02 505.03H740.65V507.54H733.02zM743.2 505.03H745.74V507.54H743.2zM720.29 507.54H725.38V510.04H720.29zM699.94 510.04H710.12V512.55H699.94zM717.75 510.04H720.29V512.55H717.75zM722.84 510.04H725.38V512.55H722.84zM735.56 510.04H738.11V512.55H735.56zM743.2 510.04H745.74V512.55H743.2zM707.57 512.55H710.12V515.05H707.57zM722.84 512.55H725.38V515.05H722.84zM733.02 512.55H735.56V515.05H733.02z"/>
<path fill="#0000d5" d="M712.66 442.4H717.75V444.9H712.66zM705.03 444.9H707.57V447.41H705.03zM710.12 444.9H712.66V447.41H710.12zM717.75 444.9H720.29V447.41H717.75zM722.84 444.9H725.38V447.41H722.84zM735.56 444.9H738.11V447.41H735.56zM707.57 447.41H720.29V449.91H707.57zM722.84 447.41H725.38V449.91H722.84zM727.93 447.41H730.47V449.91H727.93zM735.56 447.41H738.11V449.91H735.56zM689.76 449.91H692.3V452.42H689.76zM697.39 449.91H702.48V452.42H697.39zM705.03 449.91H720.29V452.42H705.03zM722.84 449.91H735.56V452.42H722.84zM748.29 449.91H750.83V452.42H748.29zM689.76 452.42H694.85V454.92H689.76zM697.39 452.42H712.66V454.92H697.39zM717.75 452.42H722.84V454.92H717.75zM733.02 452.42H735.56V454.92H733.02zM738.11 452.42H740.65V454.92H738.11zM750.83 452.42H755.92V454.92H750.83zM692.3 454.92H720.29V457.43H692.3zM733.02 454.92H738.11V457.43H733.02zM740.65 454.92H743.2V457.43H740.65zM687.21 457.43H712.66V459.93H687.21zM735.56 457.43H743.2V459.93H735.56zM692.3 459.93H694.85V462.44H692.3zM697.39 459.93H707.57V462.44H697.39zM750.83 459.93H753.38V462.44H750.83zM689.76 462.44H697.39V464.94H689.76zM689.76 464.94H692.3V467.45H689.76zM694.85 464.94H699.94V467.45H694.85zM758.46 464.94H761.01V467.45H758.46zM682.12 467.45H694.85V469.96H682.12zM679.58 474.97H682.12V477.47H679.58zM753.38 474.97H755.92V477.47H753.38zM753.38 479.98H755.92V482.48H753.38zM682.12 482.48H684.67V484.99H682.12zM750.83 482.48H753.38V484.99H750.83zM689.76 484.99H697.39V487.49H689.76zM702.48 484.99H705.03V487.49H702.48zM707.57 484.99H712.66V487.49H707.57zM715.21 484.99H730.47V487.49H715.21zM735.56 484.99H740.65V487.49H735.56zM743.2 484.99H745.74V487.49H743.2zM748.29 484.99H750.83V487.49H748.29zM694.85 487.49H705.03V490H694.85zM707.57 487.49H720.29V490H707.57zM730.47 487.49H743.2V490H730.47zM745.74 487.49H748.29V490H745.74zM689.76 490H699.94V492.5H689.76zM702.48 490H712.66V492.5H702.48zM715.21 490H717.75V492.5H715.21zM720.29 490H730.47V492.5H720.29zM735.56 490H743.2V492.5H735.56zM692.3 492.5H694.85V495.01H692.3zM697.39 492.5H699.94V495.01H697.39zM705.03 492.5H720.29V495.01H705.03zM722.84 492.5H733.02V495.01H722.84zM735.56 492.5H738.11V495.01H735.56zM740.65 492.5H745.74V495.01H740.65zM692.3 495.01H699.94V497.51H692.3zM705.03 495.01H710.12V497.51H705.03zM715.21 495.01H717.75V497.51H715.21zM722.84 495.01H738.11V497.51H722.84zM740.65 495.01H743.2V497.51H740.65zM745.74 495.01H748.29V497.51H745.74zM710.12 497.51H715.21V500.02H710.12zM717.75 497.51H725.38V500.02H717.75zM727.93 497.51H738.11V500.02H727.93zM745.74 497.51H748.29V500.02H745.74zM727.93 500.02H730.47V502.53H727.93z"/>
<path fill="#0000e3" d="M712.66 452.42H717.75V454.92H712.66zM730.47 452.42H733.02V454.92H730.47zM697.39 462.44H705.03V464.94H697.39zM692.3 464.94H694.85V467.45H692.3zM679.58 477.47H682.12V479.98H679.58zM748.29 482.48H750.83V484.99H748.29zM697.39 484.99H702.48V487.49H697.39zM705.03 484.99H707.57V487.49H705.03zM712.66 484.99H715.21V487.49H712.66zM730.47 484.99H735.56V487.49H730.47zM740.65 484.99H743.2V487.49H740.65zM705.03 487.49H707.57V490H705.03zM720.29 487.49H730.47V490H720.29zM717.75 490H720.29V492.5H717.75z"/>
<path fill="#0000f1" d="M733.02 457.43H735.56V459.93H733.02zM694.85 467.45H697.39V469.96H694.85zM684.67 469.96H687.21V472.46H684.67zM745.74 482.48H748.29V484.99H745.74z"/>
<path fill="#0000ff" d="M745.74 454.92H748.29V457.43H745.74zM712.66 457.43H715.21V459.93H712.66zM707.57 459.93H710.12V462.44H707.57zM699.94 464.94H702.48V467.45H699.94z"/>
<path fill="#000eff" d="M722.84 452.42H725.38V454.92H722.84zM738.11 459.93H740.65V462.44H738.11zM705.03 462.44H707.57V464.94H705.03zM750.83 462.44H753.38V464.94H750.83zM682.12 472.46H684.67V474.97H682.12zM743.2 482.48H745.74V484.99H743.2z"/>
<path fill="#001cff" d="M750.83 467.45H753.38V469.96H750.83zM684.67 482.48H687.21V484.99H684.67z"/>
<path fill="#002aff" d="M715.21 457.43H717.75V459.93H715.21zM735.56 459.93H738.11V462.44H735.56zM750.83 464.94H753.38V467.45H750.83zM687.21 469.96H689.76V472.46H687.21z"/>
<path fill="#0038ff" d="M720.29 454.92H722.84V457.43H720.29zM748.29 457.43H750.83V459.93H748.29zM687.21 482.48H689.76V484.99H687.21zM738.11 482.48H743.2V484.99H738.11z"/>
<path fill="#0046ff" d="M730.47 454.92H733.02V457.43H730.47z"/>
<path fill="#0054ff" d="M702.48 464.94H705.03V467.45H702.48zM694.85 482.48H697.39V484.99H694.85z"/>
<path fill="#0062ff" d="M750.83 474.97H753.38V477.47H750.83zM692.3 482.48H694.85V484.99H692.3z"/>
<path fill="#006fff" d="M697.39 467.45H699.94V469.96H697.39zM750.83 469.96H753.38V472.46H750.83zM750.83 472.46H753.38V474.97H750.83zM682.12 479.98H684.67V482.48H682.12zM689.76 482.48H692.3V484.99H689.76z"/>
<path fill="#007dff" d="M743.2 457.43H745.74V459.93H743.2zM740.65 459.93H743.2V462.44H740.65zM735.56 482.48H738.11V484.99H735.56z"/>
<path fill="#008bff" d="M689.76 469.96H692.3V472.46H689.76zM750.83 477.47H753.38V479.98H750.83zM697.39 482.48H699.94V484.99H697.39zM712.66 482.48H715.21V484.99H712.66zM733.02 482.48H735.56V484.99H733.02z"/>
<path fill="#0099ff" d="M750.83 479.98H753.38V482.48H750.83zM730.47 482.48H733.02V484.99H730.47z"/>
<path fill="#00a7ff" d="M710.12 459.93H712.66V462.44H710.12zM699.94 482.48H705.03V484.99H699.94zM715.21 482.48H717.75V484.99H715.21z"/>
<path fill="#00b5ff" d="M725.38 452.42H727.93V454.92H725.38zM733.02 459.93H735.56V462.44H733.02zM707.57 462.44H710.12V464.94H707.57zM692.3 469.96H694.85V472.46H692.3zM684.67 479.98H687.21V482.48H684.67zM748.29 479.98H750.83V482.48H748.29zM705.03 482.48H707.57V484.99H705.03zM717.75 482.48H722.84V484.99H717.75z"/>
<path fill="#00c3ff" d="M727.93 452.42H730.47V454.92H727.93z"/>
<path fill="#00d1ff" d="M682.12 474.97H684.67V477.47H682.12zM748.29 477.47H750.83V479.98H748.29zM745.74 479.98H748.29V482.48H745.74zM725.38 482.48H727.93V484.99H725.38z"/>
<path fill="#00dfff" d="M682.12 477.47H684.67V479.98H682.12zM710.12 482.48H712.66V484.99H710.12zM722.84 482.48H725.38V484.99H722.84zM727.93 482.48H730.47V484.99H727.93z"/>
<path fill="#00edff" d="M730.47 457.43H733.02V459.93H730.47zM748.29 459.93H750.83V462.44H748.29zM740.65 479.98H743.2V482.48H740.65zM707.57 482.48H710.12V484.99H707.57z"/>
<path fill="#00fbff" d="M717.75 457.43H720.29V459.93H717.75zM684.67 472.46H687.21V474.97H684.67zM687.21 479.98H689.76V482.48H687.21zM743.2 479.98H745.74V482.48H743.2z"/>
<path fill="#0afff5" d="M745.74 457.43H748.29V459.93H745.74zM745.74 477.47H748.29V479.98H745.74zM735.56 479.98H738.11V482.48H735.56z"/>
<path fill="#18ffe7" d="M722.84 454.92H725.38V457.43H722.84zM705.03 464.94H707.57V467.45H705.03zM694.85 469.96H697.39V472.46H694.85zM689.76 479.98H692.3V482.48H689.76z"/>
<path fill="#26ffd9" d="M699.94 467.45H702.48V469.96H699.94zM743.2 477.47H745.74V479.98H743.2zM738.11 479.98H740.65V482.48H738.11z"/>
<path fill="#34ffcb" d="M684.67 477.47H687.21V479.98H684.67zM697.39 479.98H699.94V482.48H697.39z"/>
<path fill="#42ffbd" d="M748.29 474.97H750.83V477.47H748.29zM740.65 477.47H743.2V479.98H740.65zM692.3 479.98H697.39V482.48H692.3z"/>
<path fill="#4fffb0" d="M745.74 474.97H748.29V477.47H745.74zM738.11 477.47H740.65V479.98H738.11z"/>
<path fill="#5dffa2" d="M687.21 472.46H689.76V474.97H687.21zM740.65 474.97H743.2V477.47H740.65zM733.02 479.98H735.56V482.48H733.02z"/>
<path fill="#6bff94" d="M712.66 459.93H715.21V462.44H712.66zM743.2 459.93H745.74V462.44H743.2zM735.56 477.47H738.11V479.98H735.56zM699.94 479.98H702.48V482.48H699.94z"/>
<path fill="#79ff86" d="M738.11 462.44H740.65V464.94H738.11zM684.67 474.97H687.21V477.47H684.67zM743.2 474.97H745.74V477.47H743.2z"/>
<path fill="#87ff78" d="M697.39 469.96H699.94V472.46H697.39zM702.48 479.98H705.03V482.48H702.48z"/>
<path fill="#95ff6a" d="M748.29 462.44H750.83V464.94H748.29zM689.76 472.46H692.3V474.97H689.76zM687.21 477.47H689.76V479.98H687.21zM720.29 479.98H722.84V482.48H720.29zM730.47 479.98H733.02V482.48H730.47z"/>
<path fill="#a3ff5c" d="M720.29 457.43H722.84V459.93H720.29zM710.12 462.44H712.66V464.94H710.12zM702.48 467.45H705.03V469.96H702.48zM687.21 474.97H689.76V477.47H687.21zM717.75 479.98H720.29V482.48H717.75zM727.93 479.98H730.47V482.48H727.93z"/>
<path fill="#b1ff4e" d="M715.21 459.93H717.75V462.44H715.21zM740.65 462.44H743.2V464.94H740.65zM738.11 474.97H740.65V477.47H738.11zM689.76 477.47H697.39V479.98H689.76zM722.84 479.98H727.93V482.48H722.84z"/>
<path fill="#bfff40" d="M725.38 454.92H727.93V457.43H725.38zM748.29 464.94H750.83V467.45H748.29zM697.39 477.47H699.94V479.98H697.39zM705.03 479.98H707.57V482.48H705.03z"/>
<path fill="#cdff32" d="M730.47 459.93H733.02V462.44H730.47zM735.56 462.44H738.11V464.94H735.56zM692.3 472.46H694.85V474.97H692.3z"/>
<path fill="#dbff24" d="M745.74 459.93H748.29V462.44H745.74zM707.57 464.94H710.12V467.45H707.57zM748.29 467.45H750.83V469.96H748.29zM702.48 477.47H705.03V479.98H702.48zM715.21 479.98H717.75V482.48H715.21z"/>
<path fill="#e9ff16" d="M727.93 454.92H730.47V457.43H727.93zM748.29 472.46H750.83V474.97H748.29zM712.66 479.98H715.21V482.48H712.66z"/>
<path fill="#f7ff08" d="M699.94 469.96H702.48V472.46H699.94zM748.29 469.96H750.83V472.46H748.29zM733.02 477.47H735.56V479.98H733.02z"/>
<path fill="#fff900" d="M702.48 469.96H705.03V472.46H702.48zM694.85 472.46H697.39V474.97H694.85zM740.65 472.46H743.2V474.97H740.65zM689.76 474.97H692.3V477.47H689.76zM725.38 477.47H727.93V479.98H725.38zM707.57 479.98H712.66V482.48H707.57z"/>
<path fill="#ffeb00" d="M712.66 464.94H715.21V467.45H712.66zM705.03 467.45H707.57V469.96H705.03zM705.03 469.96H707.57V472.46H705.03zM705.03 472.46H707.57V474.97H705.03zM692.3 474.97H694.85V477.47H692.3zM735.56 474.97H738.11V477.47H735.56zM699.94 477.47H702.48V479.98H699.94zM727.93 477.47H733.02V479.98H727.93z"/>
<path fill="#ffdd00" d="M712.66 462.44H715.21V464.94H712.66zM743.2 462.44H745.74V464.94H743.2zM697.39 472.46H699.94V474.97H697.39zM745.74 472.46H748.29V474.97H745.74zM694.85 474.97H699.94V477.47H694.85zM720.29 477.47H725.38V479.98H720.29z"/>
<path fill="#ffcf00" d="M733.02 462.44H735.56V464.94H733.02zM745.74 462.44H748.29V464.94H745.74zM710.12 464.94H712.66V467.45H710.12zM738.11 472.46H740.65V474.97H738.11zM705.03 477.47H707.57V479.98H705.03z"/>
<path fill="#ffc200" d="M717.75 459.93H720.29V462.44H717.75zM738.11 464.94H740.65V467.45H738.11zM702.48 472.46H705.03V474.97H702.48zM743.2 472.46H745.74V474.97H743.2zM702.48 474.97H705.03V477.47H702.48zM707.57 474.97H710.12V477.47H707.57zM717.75 477.47H720.29V479.98H717.75z"/>
<path fill="#ffb400" d="M745.74 467.45H748.29V469.96H745.74zM699.94 472.46H702.48V474.97H699.94z"/>
<path fill="#ffa600" d="M722.84 457.43H725.38V459.93H722.84zM727.93 457.43H730.47V459.93H727.93zM715.21 462.44H717.75V464.94H715.21zM743.2 464.94H745.74V467.45H743.2zM712.66 467.45H715.21V469.96H712.66zM743.2 469.96H745.74V472.46H743.2zM707.57 472.46H710.12V474.97H707.57zM699.94 474.97H702.48V477.47H699.94z"/>
<path fill="#ff9800" d="M745.74 464.94H748.29V467.45H745.74zM733.02 472.46H738.11V474.97H733.02zM705.03 474.97H707.57V477.47H705.03zM730.47 474.97H735.56V477.47H730.47zM715.21 477.47H717.75V479.98H715.21z"/>
<path fill="#ff8a00" d="M725.38 457.43H727.93V459.93H725.38zM740.65 464.94H743.2V467.45H740.65zM710.12 467.45H712.66V469.96H710.12zM740.65 467.45H745.74V469.96H740.65zM738.11 469.96H743.2V472.46H738.11zM745.74 469.96H748.29V472.46H745.74zM710.12 474.97H712.66V477.47H710.12zM720.29 474.97H722.84V477.47H720.29zM712.66 477.47H715.21V479.98H712.66z"/>
<path fill="#ff7c00" d="M707.57 469.96H710.12V472.46H707.57zM733.02 469.96H735.56V472.46H733.02zM730.47 472.46H733.02V474.97H730.47zM712.66 474.97H715.21V477.47H712.66zM725.38 474.97H727.93V477.47H725.38zM707.57 477.47H712.66V479.98H707.57z"/>
<path fill="#ff6e00" d="M715.21 464.94H717.75V467.45H715.21zM707.57 467.45H710.12V469.96H707.57zM715.21 467.45H717.75V469.96H715.21zM715.21 469.96H717.75V472.46H715.21zM727.93 474.97H730.47V477.47H727.93z"/>
<path fill="#ff6000" d="M735.56 464.94H738.11V467.45H735.56zM710.12 472.46H712.66V474.97H710.12zM715.21 474.97H717.75V477.47H715.21zM722.84 474.97H725.38V477.47H722.84z"/>
<path fill="#ff5200" d="M733.02 464.94H735.56V467.45H733.02zM735.56 467.45H740.65V469.96H735.56zM735.56 469.96H738.11V472.46H735.56z"/>
<path fill="#ff4400" d="M712.66 469.96H715.21V472.46H712.66zM725.38 472.46H727.93V474.97H725.38zM717.75 474.97H720.29V477.47H717.75z"/>
<path fill="#ff3600" d="M727.93 459.93H730.47V462.44H727.93zM717.75 462.44H720.29V464.94H717.75zM730.47 462.44H733.02V464.94H730.47zM730.47 464.94H733.02V467.45H730.47zM733.02 467.45H735.56V469.96H733.02zM710.12 469.96H712.66V472.46H710.12zM717.75 472.46H722.84V474.97H717.75z"/>
<path fill="#ff2800" d="M720.29 459.93H722.84V462.44H720.29zM717.75 469.96H720.29V472.46H717.75zM722.84 472.46H725.38V474.97H722.84z"/>
<path fill="#ff1a00" d="M725.38 459.93H727.93V462.44H725.38zM727.93 464.94H730.47V467.45H727.93zM717.75 467.45H720.29V469.96H717.75zM730.47 467.45H733.02V469.96H730.47zM720.29 469.96H722.84V472.46H720.29zM725.38 469.96H727.93V472.46H725.38zM715.21 472.46H717.75V474.97H715.21zM727.93 472.46H730.47V474.97H727.93z"/>
<path fill="#ff0c00" d="M725.38 462.44H730.47V464.94H725.38zM730.47 469.96H733.02V472.46H730.47zM712.66 472.46H715.21V474.97H712.66z"/>
<path fill="#ef0000" d="M720.29 462.44H722.84V464.94H720.29zM720.29 467.45H722.84V469.96H720.29z"/>
<path fill="#e10000" d="M722.84 459.93H725.38V462.44H722.84zM717.75 464.94H720.29V467.45H717.75zM725.38 464.94H727.93V467.45H725.38zM727.93 467.45H730.47V469.96H727.93z"/>
<path fill="#d40000" d="M725.38 467.45H727.93V469.96H725.38zM722.84 469.96H725.38V472.46H722.84z"/>
<path fill="#c60000" d="M727.93 469.96H730.47V472.46H727.93z"/>
<path fill="#aa0000" d="M722.84 462.44H725.38V464.94H722.84zM722.84 467.45H725.38V469.96H722.84z"/>
<path fill="#9c0000" d="M720.29 464.94H722.84V467.45H720.29z"/>
<path fill="#8e0000" d="M722.84 464.94H725.38V467.45H722.84z"/>
</g>
<g shape-rendering="crispEdges">
<rect x="106.5" y="642" width="147" height="134.6" fill="#00008f"/>
<path fill="#000eff" d="M227.25 680.46H232.5V685.26H227.25zM127.5 694.88H132.75V699.69H127.5zM143.25 771.79H148.5V776.6H143.25zM211.5 771.79H216.75V776.6H211.5z"/>
<path fill="#0059ff" d="M132.75 666.04H138V670.84H132.75zM169.5 766.99H174.75V771.79H169.5zM127.5 771.79H132.75V776.6H127.5zM227.25 771.79H232.5V776.6H227.25z"/>
<path fill="#0072ff" d="M201 766.99H206.25V771.79H201z"/>
<path fill="#008bff" d="M127.5 699.69H132.75V704.49H127.5zM190.5 766.99H201V771.79H190.5z"/>
<path fill="#00beff" d="M127.5 704.49H132.75V709.3H127.5zM180 766.99H190.5V771.79H180z"/>
<path fill="#0afff5" d="M174.75 642H185.25V646.81H174.75zM153.75 651.61H159V656.42H153.75zM201 651.61H206.25V656.42H201zM227.25 685.26H232.5V690.07H227.25zM127.5 709.3H132.75V714.11H127.5zM127.5 714.11H132.75V718.91H127.5zM127.5 718.91H132.75V723.72H127.5zM174.75 766.99H180V771.79H174.75z"/>
<path fill="#23ffdc" d="M185.25 642H190.5V646.81H185.25zM127.5 723.72H132.75V728.53H127.5z"/>
<path fill="#3cffc3" d="M169.5 642H174.75V646.81H169.5zM132.75 670.84H138V675.65H132.75z"/>
<path fill="#55ffaa" d="M127.5 728.53H132.75V733.34H127.5z"/>
<path fill="#6eff91" d="M190.5 642H195.75V646.81H190.5zM222 666.04H227.25V670.84H222zM227.25 766.99H232.5V771.79H227.25z"/>
<path fill="#87ff78" d="M164.25 642H169.5V646.81H164.25z"/>
<path fill="#a0ff5f" d="M227.25 690.07H232.5V694.88H227.25zM127.5 733.34H132.75V738.14H127.5zM132.75 771.79H138V776.6H132.75zM216.75 771.79H222V776.6H216.75z"/>
<path fill="#b9ff46" d="M127.5 738.14H132.75V742.95H127.5zM227.25 757.37H232.5V762.18H227.25zM138 771.79H143.25V776.6H138zM222 771.79H227.25V776.6H222z"/>
<path fill="#d3ff2c" d="M227.25 762.18H232.5V766.99H227.25z"/>
<path fill="#ecff13" d="M127.5 742.95H132.75V747.76H127.5zM227.25 752.56H232.5V757.37H227.25z"/>
<path fill="#ffe000" d="M143.25 656.42H148.5V661.23H143.25zM211.5 656.42H216.75V661.23H211.5zM132.75 675.65H138V680.46H132.75zM227.25 694.88H232.5V699.69H227.25zM227.25 699.69H232.5V704.49H227.25zM227.25 742.95H232.5V747.76H227.25zM127.5 747.76H132.75V752.56H127.5zM227.25 747.76H232.5V752.56H227.25zM127.5 762.18H132.75V766.99H127.5zM143.25 762.18H153.75V766.99H143.25zM211.5 762.18H216.75V766.99H211.5zM143.25 766.99H148.5V771.79H143.25zM211.5 766.99H216.75V771.79H211.5z"/>
<path fill="#ffae00" d="M227.25 704.49H232.5V709.3H227.25zM227.25 738.14H232.5V742.95H227.25z"/>
<path fill="#ff9500" d="M227.25 709.3H232.5V714.11H227.25zM227.25 733.34H232.5V738.14H227.25zM127.5 752.56H132.75V757.37H127.5zM127.5 766.99H132.75V771.79H127.5z"/>
<path fill="#ff7c00" d="M195.75 651.61H201V656.42H195.75zM138 661.23H143.25V666.04H138zM216.75 661.23H222V666.04H216.75zM222 670.84H227.25V675.65H222zM132.75 680.46H138V685.26H132.75zM227.25 714.11H232.5V718.91H227.25zM148.5 718.91H153.75V723.72H148.5zM227.25 718.91H232.5V723.72H227.25zM227.25 723.72H232.5V728.53H227.25zM227.25 728.53H232.5V733.34H227.25zM127.5 757.37H132.75V762.18H127.5z"/>
<path fill="#ff6300" d="M153.75 685.26H159V690.07H153.75zM148.5 714.11H153.75V718.91H148.5z"/>
<path fill="#ff4a00" d="M159 651.61H164.25V656.42H159zM222 675.65H227.25V680.46H222zM201 685.26H211.5V690.07H201zM206.25 709.3H211.5V714.11H206.25zM143.25 718.91H148.5V723.72H143.25zM206.25 762.18H211.5V766.99H206.25z"/>
<path fill="#ff3100" d="M148.5 723.72H153.75V728.53H148.5zM148.5 728.53H153.75V733.34H148.5zM148.5 747.76H153.75V752.56H148.5z"/>
<path fill="#ff1700" d="M148.5 656.42H153.75V661.23H148.5zM138 666.04H143.25V670.84H138zM216.75 666.04H222V670.84H216.75zM222 680.46H227.25V685.26H222zM132.75 685.26H138V690.07H132.75z"/>
<path fill="#fd0000" d="M164.25 651.61H190.5V656.42H164.25zM153.75 656.42H185.25V661.23H153.75zM190.5 656.42H201V661.23H190.5zM148.5 661.23H159V666.04H148.5zM185.25 661.23H195.75V666.04H185.25zM201 661.23H211.5V666.04H201zM143.25 666.04H164.25V670.84H143.25zM169.5 666.04H216.75V670.84H169.5zM159 670.84H164.25V675.65H159zM169.5 670.84H201V675.65H169.5zM206.25 670.84H211.5V675.65H206.25zM143.25 675.65H195.75V680.46H143.25zM206.25 675.65H211.5V680.46H206.25zM216.75 675.65H222V680.46H216.75zM148.5 680.46H153.75V685.26H148.5zM180 680.46H201V685.26H180zM138 685.26H143.25V690.07H138zM159 685.26H180V690.07H159zM190.5 685.26H201V690.07H190.5zM222 685.26H227.25V690.07H222zM132.75 690.07H138V694.88H132.75zM148.5 690.07H169.5V694.88H148.5zM174.75 690.07H180V694.88H174.75zM185.25 690.07H195.75V694.88H185.25zM206.25 690.07H216.75V694.88H206.25zM222 690.07H227.25V694.88H222zM138 694.88H143.25V699.69H138zM159 694.88H164.25V699.69H159zM169.5 694.88H185.25V699.69H169.5zM190.5 694.88H195.75V699.69H190.5zM211.5 694.88H222V699.69H211.5zM148.5 699.69H159V704.49H148.5zM169.5 699.69H180V704.49H169.5zM190.5 699.69H216.75V704.49H190.5zM138 704.49H143.25V709.3H138zM153.75 704.49H159V709.3H153.75zM174.75 704.49H185.25V709.3H174.75zM190.5 704.49H206.25V709.3H190.5zM211.5 704.49H216.75V709.3H211.5zM222 704.49H227.25V709.3H222zM132.75 709.3H143.25V714.11H132.75zM148.5 709.3H195.75V714.11H148.5zM201 709.3H206.25V714.11H201zM211.5 709.3H222V714.11H211.5zM132.75 714.11H138V718.91H132.75zM153.75 714.11H174.75V718.91H153.75zM185.25 714.11H190.5V718.91H185.25zM195.75 714.11H227.25V718.91H195.75zM159 718.91H169.5V723.72H159zM174.75 718.91H180V723.72H174.75zM185.25 718.91H206.25V723.72H185.25zM211.5 718.91H222V723.72H211.5zM138 723.72H143.25V728.53H138zM153.75 723.72H159V728.53H153.75zM164.25 723.72H169.5V728.53H164.25zM174.75 723.72H180V728.53H174.75zM190.5 723.72H195.75V728.53H190.5zM201 723.72H206.25V728.53H201zM211.5 723.72H222V728.53H211.5zM138 728.53H148.5V733.34H138zM153.75 728.53H164.25V733.34H153.75zM169.5 728.53H174.75V733.34H169.5zM180 728.53H201V733.34H180zM222 728.53H227.25V733.34H222zM143.25 733.34H159V738.14H143.25zM164.25 733.34H185.25V738.14H164.25zM190.5 733.34H195.75V738.14H190.5zM211.5 733.34H216.75V738.14H211.5zM222 733.34H227.25V738.14H222zM138 738.14H143.25V742.95H138zM153.75 738.14H164.25V742.95H153.75zM169.5 738.14H216.75V742.95H169.5zM222 738.14H227.25V742.95H222zM138 742.95H143.25V747.76H138zM148.5 742.95H153.75V747.76H148.5zM159 742.95H164.25V747.76H159zM174.75 742.95H185.25V747.76H174.75zM190.5 742.95H201V747.76H190.5zM206.25 742.95H211.5V747.76H206.25zM216.75 742.95H222V747.76H216.75zM143.25 747.76H148.5V752.56H143.25zM153.75 747.76H169.5V752.56H153.75zM180 747.76H201V752.56H180zM206.25 747.76H222V752.56H206.25zM132.75 752.56H138V757.37H132.75zM148.5 752.56H159V757.37H148.5zM164.25 752.56H169.5V757.37H164.25zM174.75 752.56H201V757.37H174.75zM206.25 752.56H216.75V757.37H206.25zM132.75 757.37H143.25V762.18H132.75zM148.5 757.37H159V762.18H148.5zM164.25 757.37H169.5V762.18H164.25zM174.75 757.37H185.25V762.18H174.75zM190.5 757.37H195.75V762.18H190.5zM201 757.37H206.25V762.18H201zM216.75 757.37H227.25V762.18H216.75zM132.75 762.18H143.25V766.99H132.75zM159 762.18H169.5V766.99H159zM185.25 762.18H195.75V766.99H185.25zM201 762.18H206.25V766.99H201zM222 762.18H227.25V766.99H222z"/>
<path fill="#e40000" d="M190.5 651.61H195.75V656.42H190.5zM185.25 656.42H190.5V661.23H185.25zM159 661.23H185.25V666.04H159zM195.75 661.23H201V666.04H195.75zM164.25 666.04H169.5V670.84H164.25zM138 670.84H159V675.65H138zM164.25 670.84H169.5V675.65H164.25zM201 670.84H206.25V675.65H201zM211.5 670.84H222V675.65H211.5zM138 675.65H143.25V680.46H138zM195.75 675.65H206.25V680.46H195.75zM211.5 675.65H216.75V680.46H211.5zM138 680.46H148.5V685.26H138zM153.75 680.46H180V685.26H153.75zM201 680.46H222V685.26H201zM143.25 685.26H153.75V690.07H143.25zM180 685.26H190.5V690.07H180zM211.5 685.26H222V690.07H211.5zM138 690.07H148.5V694.88H138zM169.5 690.07H174.75V694.88H169.5zM180 690.07H185.25V694.88H180zM195.75 690.07H206.25V694.88H195.75zM216.75 690.07H222V694.88H216.75zM132.75 694.88H138V699.69H132.75zM143.25 694.88H159V699.69H143.25zM164.25 694.88H169.5V699.69H164.25zM185.25 694.88H190.5V699.69H185.25zM195.75 694.88H211.5V699.69H195.75zM132.75 699.69H148.5V704.49H132.75zM159 699.69H169.5V704.49H159zM180 699.69H190.5V704.49H180zM216.75 699.69H222V704.49H216.75zM132.75 704.49H138V709.3H132.75zM143.25 704.49H153.75V709.3H143.25zM159 704.49H174.75V709.3H159zM185.25 704.49H190.5V709.3H185.25zM206.25 704.49H211.5V709.3H206.25zM216.75 704.49H222V709.3H216.75zM195.75 709.3H201V714.11H195.75zM222 709.3H227.25V714.11H222zM174.75 714.11H185.25V718.91H174.75zM190.5 714.11H195.75V718.91H190.5zM138 718.91H143.25V723.72H138zM153.75 718.91H159V723.72H153.75zM169.5 718.91H174.75V723.72H169.5zM180 718.91H185.25V723.72H180zM206.25 718.91H211.5V723.72H206.25zM222 718.91H227.25V723.72H222zM143.25 723.72H148.5V728.53H143.25zM159 723.72H164.25V728.53H159zM169.5 723.72H174.75V728.53H169.5zM180 723.72H190.5V728.53H180zM195.75 723.72H201V728.53H195.75zM206.25 723.72H211.5V728.53H206.25zM222 723.72H227.25V728.53H222zM164.25 728.53H169.5V733.34H164.25zM174.75 728.53H180V733.34H174.75zM201 728.53H222V733.34H201zM138 733.34H143.25V738.14H138zM159 733.34H164.25V738.14H159zM185.25 733.34H190.5V738.14H185.25zM195.75 733.34H211.5V738.14H195.75zM216.75 733.34H222V738.14H216.75zM143.25 738.14H153.75V742.95H143.25zM164.25 738.14H169.5V742.95H164.25zM216.75 738.14H222V742.95H216.75zM143.25 742.95H148.5V747.76H143.25zM153.75 742.95H159V747.76H153.75zM164.25 742.95H174.75V747.76H164.25zM185.25 742.95H190.5V747.76H185.25zM201 742.95H206.25V747.76H201zM211.5 742.95H216.75V747.76H211.5zM138 747.76H143.25V752.56H138zM169.5 747.76H180V752.56H169.5zM201 747.76H206.25V752.56H201zM138 752.56H148.5V757.37H138zM159 752.56H164.25V757.37H159zM169.5 752.56H174.75V757.37H169.5zM201 752.56H206.25V757.37H201zM216.75 752.56H222V757.37H216.75zM143.25 757.37H148.5V762.18H143.25zM159 757.37H164.25V762.18H159zM169.5 757.37H174.75V762.18H169.5zM185.25 757.37H190.5V762.18H185.25zM195.75 757.37H201V762.18H195.75zM206.25 757.37H216.75V762.18H206.25zM169.5 762.18H185.25V766.99H169.5zM195.75 762.18H201V766.99H195.75zM216.75 762.18H222V766.99H216.75z"/>
<path fill="#cb0000" d="M201 656.42H211.5V661.23H201zM143.25 661.23H148.5V666.04H143.25zM211.5 661.23H216.75V666.04H211.5zM222 694.88H227.25V699.69H222zM222 699.69H227.25V704.49H222zM143.25 709.3H148.5V714.11H143.25zM138 714.11H148.5V718.91H138zM132.75 718.91H138V723.72H132.75zM132.75 723.72H138V728.53H132.75zM132.75 728.53H138V733.34H132.75zM132.75 733.34H138V738.14H132.75zM132.75 738.14H138V742.95H132.75zM132.75 742.95H138V747.76H132.75zM222 742.95H227.25V747.76H222zM132.75 747.76H138V752.56H132.75zM222 747.76H227.25V752.56H222zM222 752.56H227.25V757.37H222zM153.75 762.18H159V766.99H153.75zM132.75 766.99H138V771.79H132.75zM216.75 766.99H227.25V771.79H216.75z"/>
<path fill="#b20000" d="M164.25 646.81H195.75V651.61H164.25zM138 766.99H143.25V771.79H138z"/>
</g>
<g shape-rendering="crispEdges">
<rect x="287" y="641.2" width="147.5" height="134.1" fill="#00008f"/>
<path fill="#000eff" d="M384.46 693.88H387.09V696.28H384.46zM334.41 701.07H337.04V703.46H334.41zM342.31 739.38H344.95V741.77H342.31zM376.55 739.38H379.19V741.77H376.55z"/>
<path fill="#0059ff" d="M337.04 686.7H339.68V689.09H337.04zM355.48 736.99H358.12V739.38H355.48zM334.41 739.38H337.04V741.77H334.41zM384.46 739.38H387.09V741.77H384.46z"/>
<path fill="#0072ff" d="M371.29 736.99H373.92V739.38H371.29z"/>
<path fill="#008bff" d="M334.41 703.46H337.04V705.86H334.41zM366.02 736.99H371.29V739.38H366.02z"/>
<path fill="#00beff" d="M334.41 705.86H337.04V708.25H334.41zM360.75 736.99H366.02V739.38H360.75z"/>
<path fill="#0afff5" d="M358.12 674.73H363.38V677.12H358.12zM347.58 679.51H350.21V681.91H347.58zM371.29 679.51H373.92V681.91H371.29zM384.46 696.28H387.09V698.67H384.46zM334.41 708.25H337.04V710.64H334.41zM334.41 710.64H337.04V713.04H334.41zM334.41 713.04H337.04V715.43H334.41zM358.12 736.99H360.75V739.38H358.12z"/>
<path fill="#23ffdc" d="M363.38 674.73H366.02V677.12H363.38zM334.41 715.43H337.04V717.83H334.41z"/>
<path fill="#3cffc3" d="M355.48 674.73H358.12V677.12H355.48zM337.04 689.09H339.68V691.49H337.04z"/>
<path fill="#55ffaa" d="M334.41 717.83H337.04V720.22H334.41z"/>
<path fill="#6eff91" d="M366.02 674.73H368.65V677.12H366.02zM381.82 686.7H384.46V689.09H381.82zM384.46 736.99H387.09V739.38H384.46z"/>
<path fill="#87ff78" d="M352.85 674.73H355.48V677.12H352.85z"/>
<path fill="#a0ff5f" d="M384.46 698.67H387.09V701.07H384.46zM334.41 720.22H337.04V722.62H334.41zM337.04 739.38H339.68V741.77H337.04zM379.19 739.38H381.82V741.77H379.19z"/>
<path fill="#b9ff46" d="M334.41 722.62H337.04V725.01H334.41zM384.46 732.2H387.09V734.59H384.46zM339.68 739.38H342.31V741.77H339.68zM381.82 739.38H384.46V741.77H381.82z"/>
<path fill="#d3ff2c" d="M384.46 734.59H387.09V736.99H384.46z"/>
<path fill="#ecff13" d="M334.41 725.01H337.04V727.41H334.41zM384.46 729.8H387.09V732.2H384.46z"/>
<path fill="#ffe000" d="M342.31 681.91H344.95V684.3H342.31zM376.55 681.91H379.19V684.3H376.55zM337.04 691.49H339.68V693.88H337.04zM384.46 701.07H387.09V703.46H384.46zM384.46 703.46H387.09V705.86H384.46zM384.46 725.01H387.09V727.41H384.46zM334.41 727.41H337.04V729.8H334.41zM384.46 727.41H387.09V729.8H384.46zM334.41 734.59H337.04V736.99H334.41zM342.31 734.59H347.58V736.99H342.31zM376.55 734.59H379.19V736.99H376.55zM342.31 736.99H344.95V739.38H342.31zM376.55 736.99H379.19V739.38H376.55z"/>
<path fill="#ffae00" d="M384.46 705.86H387.09V708.25H384.46zM384.46 722.62H387.09V725.01H384.46z"/>
<path fill="#ff9500" d="M384.46 708.25H387.09V710.64H384.46zM384.46 720.22H387.09V722.62H384.46zM334.41 729.8H337.04V732.2H334.41zM334.41 736.99H337.04V739.38H334.41z"/>
<path fill="#ff7c00" d="M368.65 679.51H371.29V681.91H368.65zM339.68 684.3H342.31V686.7H339.68zM379.19 684.3H381.82V686.7H379.19zM381.82 689.09H384.46V691.49H381.82zM337.04 693.88H339.68V696.28H337.04zM384.46 710.64H387.09V713.04H384.46zM344.95 713.04H347.58V715.43H344.95zM384.46 713.04H387.09V715.43H384.46zM384.46 715.43H387.09V717.83H384.46zM384.46 717.83H387.09V720.22H384.46zM334.41 732.2H337.04V734.59H334.41z"/>
<path fill="#ff6300" d="M347.58 696.28H350.21V698.67H347.58zM344.95 710.64H347.58V713.04H344.95z"/>
<path fill="#ff4a00" d="M350.21 679.51H352.85V681.91H350.21zM381.82 691.49H384.46V693.88H381.82zM371.29 696.28H376.55V698.67H371.29zM373.92 708.25H376.55V710.64H373.92zM342.31 713.04H344.95V715.43H342.31zM373.92 734.59H376.55V736.99H373.92z"/>
<path fill="#ff3100" d="M344.95 715.43H347.58V717.83H344.95zM344.95 717.83H347.58V720.22H344.95zM344.95 727.41H347.58V729.8H344.95z"/>
<path fill="#ff1700" d="M344.95 681.91H347.58V684.3H344.95zM339.68 686.7H342.31V689.09H339.68zM379.19 686.7H381.82V689.09H379.19zM381.82 693.88H384.46V696.28H381.82zM337.04 696.28H339.68V698.67H337.04z"/>
<path fill="#fd0000" d="M352.85 679.51H366.02V681.91H352.85zM347.58 681.91H363.38V684.3H347.58zM366.02 681.91H371.29V684.3H366.02zM344.95 684.3H350.21V686.7H344.95zM363.38 684.3H368.65V686.7H363.38zM371.29 684.3H376.55V686.7H371.29zM342.31 686.7H352.85V689.09H342.31zM355.48 686.7H379.19V689.09H355.48zM350.21 689.09H352.85V691.49H350.21zM355.48 689.09H371.29V691.49H355.48zM373.92 689.09H376.55V691.49H373.92zM342.31 691.49H368.65V693.88H342.31zM373.92 691.49H376.55V693.88H373.92zM379.19 691.49H381.82V693.88H379.19zM344.95 693.88H347.58V696.28H344.95zM360.75 693.88H371.29V696.28H360.75zM339.68 696.28H342.31V698.67H339.68zM350.21 696.28H360.75V698.67H350.21zM366.02 696.28H371.29V698.67H366.02zM381.82 696.28H384.46V698.67H381.82zM337.04 698.67H339.68V701.07H337.04zM344.95 698.67H355.48V701.07H344.95zM358.12 698.67H360.75V701.07H358.12zM363.38 698.67H368.65V701.07H363.38zM373.92 698.67H379.19V701.07H373.92zM381.82 698.67H384.46V701.07H381.82zM339.68 701.07H342.31V703.46H339.68zM350.21 701.07H352.85V703.46H350.21zM355.48 701.07H363.38V703.46H355.48zM366.02 701.07H368.65V703.46H366.02zM376.55 701.07H381.82V703.46H376.55zM344.95 703.46H350.21V705.86H344.95zM355.48 703.46H360.75V705.86H355.48zM366.02 703.46H379.19V705.86H366.02zM339.68 705.86H342.31V708.25H339.68zM347.58 705.86H350.21V708.25H347.58zM358.12 705.86H363.38V708.25H358.12zM366.02 705.86H373.92V708.25H366.02zM376.55 705.86H379.19V708.25H376.55zM381.82 705.86H384.46V708.25H381.82zM337.04 708.25H342.31V710.64H337.04zM344.95 708.25H368.65V710.64H344.95zM371.29 708.25H373.92V710.64H371.29zM376.55 708.25H381.82V710.64H376.55zM337.04 710.64H339.68V713.04H337.04zM347.58 710.64H358.12V713.04H347.58zM363.38 710.64H366.02V713.04H363.38zM368.65 710.64H384.46V713.04H368.65zM350.21 713.04H355.48V715.43H350.21zM358.12 713.04H360.75V715.43H358.12zM363.38 713.04H373.92V715.43H363.38zM376.55 713.04H381.82V715.43H376.55zM339.68 715.43H342.31V717.83H339.68zM347.58 715.43H350.21V717.83H347.58zM352.85 715.43H355.48V717.83H352.85zM358.12 715.43H360.75V717.83H358.12zM366.02 715.43H368.65V717.83H366.02zM371.29 715.43H373.92V717.83H371.29zM376.55 715.43H381.82V717.83H376.55zM339.68 717.83H344.95V720.22H339.68zM347.58 717.83H352.85V720.22H347.58zM355.48 717.83H358.12V720.22H355.48zM360.75 717.83H371.29V720.22H360.75zM381.82 717.83H384.46V720.22H381.82zM342.31 720.22H350.21V722.62H342.31zM352.85 720.22H363.38V722.62H352.85zM366.02 720.22H368.65V722.62H366.02zM376.55 720.22H379.19V722.62H376.55zM381.82 720.22H384.46V722.62H381.82zM339.68 722.62H342.31V725.01H339.68zM347.58 722.62H352.85V725.01H347.58zM355.48 722.62H379.19V725.01H355.48zM381.82 722.62H384.46V725.01H381.82zM339.68 725.01H342.31V727.41H339.68zM344.95 725.01H347.58V727.41H344.95zM350.21 725.01H352.85V727.41H350.21zM358.12 725.01H363.38V727.41H358.12zM366.02 725.01H371.29V727.41H366.02zM373.92 725.01H376.55V727.41H373.92zM379.19 725.01H381.82V727.41H379.19zM342.31 727.41H344.95V729.8H342.31zM347.58 727.41H355.48V729.8H347.58zM360.75 727.41H371.29V729.8H360.75zM373.92 727.41H381.82V729.8H373.92zM337.04 729.8H339.68V732.2H337.04zM344.95 729.8H350.21V732.2H344.95zM352.85 729.8H355.48V732.2H352.85zM358.12 729.8H371.29V732.2H358.12zM373.92 729.8H379.19V732.2H373.92zM337.04 732.2H342.31V734.59H337.04zM344.95 732.2H350.21V734.59H344.95zM352.85 732.2H355.48V734.59H352.85zM358.12 732.2H363.38V734.59H358.12zM366.02 732.2H368.65V734.59H366.02zM371.29 732.2H373.92V734.59H371.29zM379.19 732.2H384.46V734.59H379.19zM337.04 734.59H342.31V736.99H337.04zM350.21 734.59H355.48V736.99H350.21zM363.38 734.59H368.65V736.99H363.38zM371.29 734.59H373.92V736.99H371.29zM381.82 734.59H384.46V736.99H381.82z"/>
<path fill="#e40000" d="M366.02 679.51H368.65V681.91H366.02zM363.38 681.91H366.02V684.3H363.38zM350.21 684.3H363.38V686.7H350.21zM368.65 684.3H371.29V686.7H368.65zM352.85 686.7H355.48V689.09H352.85zM339.68 689.09H350.21V691.49H339.68zM352.85 689.09H355.48V691.49H352.85zM371.29 689.09H373.92V691.49H371.29zM376.55 689.09H381.82V691.49H376.55zM339.68 691.49H342.31V693.88H339.68zM368.65 691.49H373.92V693.88H368.65zM376.55 691.49H379.19V693.88H376.55zM339.68 693.88H344.95V696.28H339.68zM347.58 693.88H360.75V696.28H347.58zM371.29 693.88H381.82V696.28H371.29zM342.31 696.28H347.58V698.67H342.31zM360.75 696.28H366.02V698.67H360.75zM376.55 696.28H381.82V698.67H376.55zM339.68 698.67H344.95V701.07H339.68zM355.48 698.67H358.12V701.07H355.48zM360.75 698.67H363.38V701.07H360.75zM368.65 698.67H373.92V701.07H368.65zM379.19 698.67H381.82V701.07H379.19zM337.04 701.07H339.68V703.46H337.04zM342.31 701.07H350.21V703.46H342.31zM352.85 701.07H355.48V703.46H352.85zM363.38 701.07H366.02V703.46H363.38zM368.65 701.07H376.55V703.46H368.65zM337.04 703.46H344.95V705.86H337.04zM350.21 703.46H355.48V705.86H350.21zM360.75 703.46H366.02V705.86H360.75zM379.19 703.46H381.82V705.86H379.19zM337.04 705.86H339.68V708.25H337.04zM342.31 705.86H347.58V708.25H342.31zM350.21 705.86H358.12V708.25H350.21zM363.38 705.86H366.02V708.25H363.38zM373.92 705.86H376.55V708.25H373.92zM379.19 705.86H381.82V708.25H379.19zM368.65 708.25H371.29V710.64H368.65zM381.82 708.25H384.46V710.64H381.82zM358.12 710.64H363.38V713.04H358.12zM366.02 710.64H368.65V713.04H366.02zM339.68 713.04H342.31V715.43H339.68zM347.58 713.04H350.21V715.43H347.58zM355.48 713.04H358.12V715.43H355.48zM360.75 713.04H363.38V715.43H360.75zM373.92 713.04H376.55V715.43H373.92zM381.82 713.04H384.46V715.43H381.82zM342.31 715.43H344.95V717.83H342.31zM350.21 715.43H352.85V717.83H350.21zM355.48 715.43H358.12V717.83H355.48zM360.75 715.43H366.02V717.83H360.75zM368.65 715.43H371.29V717.83H368.65zM373.92 715.43H376.55V717.83H373.92zM381.82 715.43H384.46V717.83H381.82zM352.85 717.83H355.48V720.22H352.85zM358.12 717.83H360.75V720.22H358.12zM371.29 717.83H381.82V720.22H371.29zM339.68 720.22H342.31V722.62H339.68zM350.21 720.22H352.85V722.62H350.21zM363.38 720.22H366.02V722.62H363.38zM368.65 720.22H376.55V722.62H368.65zM379.19 720.22H381.82V722.62H379.19zM342.31 722.62H347.58V725.01H342.31zM352.85 722.62H355.48V725.01H352.85zM379.19 722.62H381.82V725.01H379.19zM342.31 725.01H344.95V727.41H342.31zM347.58 725.01H350.21V727.41H347.58zM352.85 725.01H358.12V727.41H352.85zM363.38 725.01H366.02V727.41H363.38zM371.29 725.01H373.92V727.41H371.29zM376.55 725.01H379.19V727.41H376.55zM339.68 727.41H342.31V729.8H339.68zM355.48 727.41H360.75V729.8H355.48zM371.29 727.41H373.92V729.8H371.29zM339.68 729.8H344.95V732.2H339.68zM350.21 729.8H352.85V732.2H350.21zM355.48 729.8H358.12V732.2H355.48zM371.29 729.8H373.92V732.2H371.29zM379.19 729.8H381.82V732.2H379.19zM342.31 732.2H344.95V734.59H342.31zM350.21 732.2H352.85V734.59H350.21zM355.48 732.2H358.12V734.59H355.48zM363.38 732.2H366.02V734.59H363.38zM368.65 732.2H371.29V734.59H368.65zM373.92 732.2H379.19V734.59H373.92zM355.48 734.59H363.38V736.99H355.48zM368.65 734.59H371.29V736.99H368.65zM379.19 734.59H381.82V736.99H379.19z"/>
<path fill="#cb0000" d="M371.29 681.91H376.55V684.3H371.29zM342.31 684.3H344.95V686.7H342.31zM376.55 684.3H379.19V686.7H376.55zM381.82 701.07H384.46V703.46H381.82zM381.82 703.46H384.46V705.86H381.82zM342.31 708.25H344.95V710.64H342.31zM339.68 710.64H344.95V713.04H339.68zM337.04 713.04H339.68V715.43H337.04zM337.04 715.43H339.68V717.83H337.04zM337.04 717.83H339.68V720.22H337.04zM337.04 720.22H339.68V722.62H337.04zM337.04 722.62H339.68V725.01H337.04zM337.04 725.01H339.68V727.41H337.04zM381.82 725.01H384.46V727.41H381.82zM337.04 727.41H339.68V729.8H337.04zM381.82 727.41H384.46V729.8H381.82zM381.82 729.8H384.46V732.2H381.82zM347.58 734.59H350.21V736.99H347.58zM337.04 736.99H339.68V739.38H337.04zM379.19 736.99H384.46V739.38H379.19z"/>
<path fill="#b20000" d="M352.85 677.12H368.65V679.51H352.85zM339.68 736.99H342.31V739.38H339.68z"/>
</g>
<g shape-rendering="crispEdges">
<rect x="467.3" y="641.2" width="146.2" height="135.4" fill="#0000c5"/>
<path fill="#0000b3" d="M482.96 641.2H485.57V643.62H482.96zM556.06 641.2H561.29V643.62H556.06zM574.34 641.2H579.56V643.62H574.34zM592.61 641.2H603.06V643.62H592.61zM610.89 641.2H613.5V643.62H610.89zM493.41 643.62H496.02V646.04H493.41zM595.23 643.62H600.45V646.04H595.23zM610.89 643.62H613.5V646.04H610.89zM467.3 646.04H475.13V648.45H467.3zM480.35 646.04H482.96V648.45H480.35zM485.57 646.04H490.8V648.45H485.57zM511.68 646.04H514.29V648.45H511.68zM537.79 646.04H540.4V648.45H537.79zM563.9 646.04H566.51V648.45H563.9zM587.39 646.04H590V648.45H587.39zM610.89 646.04H613.5V648.45H610.89zM467.3 648.45H469.91V650.87H467.3zM477.74 648.45H482.96V650.87H477.74zM485.57 648.45H488.19V650.87H485.57zM496.02 648.45H498.63V650.87H496.02zM503.85 648.45H506.46V650.87H503.85zM514.29 648.45H516.9V650.87H514.29zM527.35 648.45H529.96V650.87H527.35zM537.79 648.45H540.4V650.87H537.79zM561.29 648.45H566.51V650.87H561.29zM582.17 648.45H584.78V650.87H582.17zM587.39 648.45H592.61V650.87H587.39zM605.67 648.45H608.28V650.87H605.67zM475.13 650.87H482.96V653.29H475.13zM488.19 650.87H490.8V653.29H488.19zM493.41 650.87H496.02V653.29H493.41zM501.24 650.87H506.46V653.29H501.24zM509.07 650.87H511.68V653.29H509.07zM514.29 650.87H516.9V653.29H514.29zM550.84 650.87H553.45V653.29H550.84zM563.9 650.87H571.73V653.29H563.9zM574.34 650.87H576.95V653.29H574.34zM584.78 650.87H587.39V653.29H584.78zM592.61 650.87H597.84V653.29H592.61zM480.35 653.29H482.96V655.71H480.35zM503.85 653.29H514.29V655.71H503.85zM553.45 653.29H556.06V655.71H553.45zM558.67 653.29H571.73V655.71H558.67zM597.84 653.29H600.45V655.71H597.84zM605.67 653.29H608.28V655.71H605.67zM482.96 655.71H485.57V658.12H482.96zM501.24 655.71H511.68V658.12H501.24zM561.29 655.71H563.9V658.12H561.29zM566.51 655.71H569.12V658.12H566.51zM592.61 655.71H597.84V658.12H592.61zM482.96 658.12H485.57V660.54H482.96zM529.96 658.12H532.57V660.54H529.96zM561.29 658.12H566.51V660.54H561.29zM595.23 658.12H597.84V660.54H595.23zM608.28 658.12H610.89V660.54H608.28zM488.19 660.54H490.8V662.96H488.19zM563.9 660.54H571.73V662.96H563.9zM597.84 660.54H600.45V662.96H597.84zM603.06 660.54H605.67V662.96H603.06zM610.89 660.54H613.5V662.96H610.89zM467.3 662.96H469.91V665.38H467.3zM503.85 662.96H506.46V665.38H503.85zM563.9 662.96H566.51V665.38H563.9zM595.23 662.96H597.84V665.38H595.23zM600.45 662.96H603.06V665.38H600.45zM467.3 665.38H469.91V667.8H467.3zM475.13 665.38H477.74V667.8H475.13zM503.85 665.38H506.46V667.8H503.85zM524.74 665.38H527.35V667.8H524.74zM467.3 667.8H469.91V670.21H467.3zM480.35 667.8H482.96V670.21H480.35zM503.85 667.8H506.46V670.21H503.85zM467.3 670.21H469.91V672.63H467.3zM475.13 670.21H477.74V672.63H475.13zM490.8 670.21H493.41V672.63H490.8zM501.24 670.21H503.85V672.63H501.24zM603.06 670.21H605.67V672.63H603.06zM475.13 672.63H480.35V675.05H475.13zM488.19 672.63H490.8V675.05H488.19zM493.41 672.63H496.02V675.05H493.41zM501.24 672.63H503.85V675.05H501.24zM605.67 672.63H608.28V675.05H605.67zM480.35 675.05H482.96V677.47H480.35zM485.57 675.05H493.41V677.47H485.57zM485.57 677.47H488.19V679.89H485.57zM603.06 677.47H605.67V679.89H603.06zM469.91 682.3H472.52V684.72H469.91zM490.8 682.3H493.41V684.72H490.8zM485.57 684.72H490.8V687.14H485.57zM485.57 687.14H488.19V689.56H485.57zM469.91 691.98H472.52V694.39H469.91zM480.35 691.98H482.96V694.39H480.35zM475.13 694.39H485.57V696.81H475.13zM579.56 694.39H582.17V696.81H579.56zM472.52 696.81H475.13V699.23H472.52zM469.91 701.65H475.13V704.06H469.91zM603.06 704.06H605.67V706.48H603.06zM485.57 706.48H488.19V708.9H485.57zM469.91 711.32H472.52V713.74H469.91zM603.06 723.41H605.67V725.83H603.06zM610.89 723.41H613.5V725.83H610.89zM600.45 725.83H603.06V728.24H600.45zM605.67 725.83H608.28V728.24H605.67zM610.89 725.83H613.5V728.24H610.89zM608.28 728.24H610.89V730.66H608.28zM584.78 730.66H587.39V733.08H584.78zM597.84 730.66H600.45V733.08H597.84zM475.13 733.08H480.35V735.5H475.13zM590 733.08H592.61V735.5H590zM597.84 733.08H600.45V735.5H597.84zM477.74 735.5H480.35V737.91H477.74zM597.84 735.5H600.45V737.91H597.84zM469.91 737.91H475.13V740.33H469.91zM467.3 740.33H469.91V742.75H467.3zM582.17 740.33H584.78V742.75H582.17zM493.41 742.75H498.63V745.17H493.41zM569.12 742.75H571.73V745.17H569.12zM600.45 742.75H603.06V745.17H600.45zM506.46 745.17H509.07V747.59H506.46zM498.63 747.59H501.24V750H498.63zM600.45 747.59H603.06V750H600.45zM608.28 747.59H610.89V750H608.28zM493.41 750H498.63V752.42H493.41zM605.67 750H608.28V752.42H605.67zM480.35 754.84H482.96V757.26H480.35zM485.57 754.84H488.19V757.26H485.57zM493.41 754.84H496.02V757.26H493.41zM493.41 757.26H501.24V759.67H493.41zM595.23 757.26H597.84V759.67H595.23zM610.89 757.26H613.5V759.67H610.89zM496.02 759.67H498.63V762.09H496.02zM469.91 762.09H477.74V764.51H469.91zM514.29 762.09H516.9V764.51H514.29zM540.4 762.09H543.01V764.51H540.4zM548.23 762.09H553.45V764.51H548.23zM571.73 762.09H574.34V764.51H571.73zM469.91 764.51H480.35V766.93H469.91zM514.29 764.51H519.51V766.93H514.29zM540.4 764.51H543.01V766.93H540.4zM548.23 764.51H550.84V766.93H548.23zM566.51 764.51H571.73V766.93H566.51zM590 764.51H592.61V766.93H590zM608.28 764.51H610.89V766.93H608.28zM467.3 766.93H469.91V769.35H467.3zM480.35 766.93H482.96V769.35H480.35zM485.57 766.93H488.19V769.35H485.57zM509.07 766.93H511.68V769.35H509.07zM550.84 766.93H553.45V769.35H550.84zM563.9 766.93H571.73V769.35H563.9zM597.84 766.93H600.45V769.35H597.84zM603.06 766.93H605.67V769.35H603.06zM608.28 766.93H610.89V769.35H608.28zM469.91 769.35H472.52V771.76H469.91zM480.35 769.35H482.96V771.76H480.35zM488.19 769.35H490.8V771.76H488.19zM548.23 769.35H553.45V771.76H548.23zM563.9 769.35H566.51V771.76H563.9zM595.23 769.35H597.84V771.76H595.23zM600.45 769.35H605.67V771.76H600.45zM493.41 771.76H496.02V774.18H493.41zM509.07 771.76H511.68V774.18H509.07zM532.57 771.76H535.18V774.18H532.57zM600.45 771.76H603.06V774.18H600.45zM493.41 774.18H498.63V776.6H493.41zM519.51 774.18H524.74V776.6H519.51zM584.78 774.18H587.39V776.6H584.78zM597.84 774.18H605.67V776.6H597.84z"/>
<path fill="#0000d7" d="M467.3 641.2H472.52V643.62H467.3zM498.63 641.2H501.24V643.62H498.63zM522.12 641.2H524.74V643.62H522.12zM529.96 641.2H535.18V643.62H529.96zM543.01 641.2H553.45V643.62H543.01zM475.13 643.62H477.74V646.04H475.13zM498.63 643.62H501.24V646.04H498.63zM506.46 643.62H511.68V646.04H506.46zM545.62 643.62H548.23V646.04H545.62zM550.84 643.62H556.06V646.04H550.84zM569.12 643.62H571.73V646.04H569.12zM603.06 643.62H605.67V646.04H603.06zM475.13 646.04H477.74V648.45H475.13zM516.9 646.04H519.51V648.45H516.9zM545.62 646.04H548.23V648.45H545.62zM550.84 646.04H558.67V648.45H550.84zM571.73 646.04H574.34V648.45H571.73zM576.95 646.04H584.78V648.45H576.95zM545.62 648.45H548.23V650.87H545.62zM556.06 648.45H558.67V650.87H556.06zM524.74 650.87H527.35V653.29H524.74zM532.57 650.87H537.79V653.29H532.57zM543.01 650.87H548.23V653.29H543.01zM485.57 653.29H488.19V655.71H485.57zM519.51 653.29H522.12V655.71H519.51zM532.57 653.29H540.4V655.71H532.57zM543.01 653.29H548.23V655.71H543.01zM469.91 655.71H472.52V658.12H469.91zM498.63 655.71H501.24V658.12H498.63zM543.01 655.71H548.23V658.12H543.01zM584.78 655.71H587.39V658.12H584.78zM608.28 655.71H610.89V658.12H608.28zM511.68 658.12H519.51V660.54H511.68zM522.12 658.12H524.74V660.54H522.12zM545.62 658.12H548.23V660.54H545.62zM571.73 658.12H576.95V660.54H571.73zM584.78 658.12H587.39V660.54H584.78zM590 658.12H592.61V660.54H590zM477.74 660.54H480.35V662.96H477.74zM501.24 660.54H503.85V662.96H501.24zM506.46 660.54H511.68V662.96H506.46zM516.9 660.54H524.74V662.96H516.9zM532.57 660.54H540.4V662.96H532.57zM550.84 660.54H553.45V662.96H550.84zM579.56 660.54H582.17V662.96H579.56zM587.39 660.54H590V662.96H587.39zM480.35 662.96H482.96V665.38H480.35zM488.19 662.96H490.8V665.38H488.19zM496.02 662.96H498.63V665.38H496.02zM516.9 662.96H522.12V665.38H516.9zM535.18 662.96H540.4V665.38H535.18zM548.23 662.96H558.67V665.38H548.23zM582.17 662.96H584.78V665.38H582.17zM587.39 662.96H590V665.38H587.39zM488.19 665.38H490.8V667.8H488.19zM496.02 665.38H498.63V667.8H496.02zM509.07 665.38H514.29V667.8H509.07zM556.06 665.38H558.67V667.8H556.06zM561.29 665.38H569.12V667.8H561.29zM595.23 665.38H600.45V667.8H595.23zM608.28 665.38H610.89V667.8H608.28zM485.57 667.8H488.19V670.21H485.57zM516.9 667.8H524.74V670.21H516.9zM529.96 667.8H532.57V670.21H529.96zM545.62 667.8H548.23V670.21H545.62zM550.84 667.8H563.9V670.21H550.84zM566.51 667.8H574.34V670.21H566.51zM576.95 667.8H579.56V670.21H576.95zM587.39 667.8H590V670.21H587.39zM592.61 667.8H597.84V670.21H592.61zM600.45 667.8H603.06V670.21H600.45zM605.67 667.8H608.28V670.21H605.67zM610.89 667.8H613.5V670.21H610.89zM506.46 670.21H514.29V672.63H506.46zM519.51 670.21H522.12V672.63H519.51zM532.57 670.21H535.18V672.63H532.57zM545.62 670.21H548.23V672.63H545.62zM550.84 670.21H553.45V672.63H550.84zM556.06 670.21H558.67V672.63H556.06zM566.51 670.21H569.12V672.63H566.51zM574.34 670.21H584.78V672.63H574.34zM587.39 670.21H590V672.63H587.39zM595.23 670.21H597.84V672.63H595.23zM608.28 670.21H613.5V672.63H608.28zM509.07 672.63H514.29V675.05H509.07zM553.45 672.63H566.51V675.05H553.45zM587.39 672.63H592.61V675.05H587.39zM600.45 672.63H603.06V675.05H600.45zM467.3 675.05H469.91V677.47H467.3zM501.24 675.05H503.85V677.47H501.24zM506.46 675.05H509.07V677.47H506.46zM514.29 675.05H516.9V677.47H514.29zM550.84 675.05H556.06V677.47H550.84zM558.67 675.05H561.29V677.47H558.67zM563.9 675.05H569.12V677.47H563.9zM576.95 675.05H579.56V677.47H576.95zM587.39 675.05H595.23V677.47H587.39zM597.84 675.05H600.45V677.47H597.84zM467.3 677.47H472.52V679.89H467.3zM477.74 677.47H480.35V679.89H477.74zM501.24 677.47H503.85V679.89H501.24zM514.29 677.47H519.51V679.89H514.29zM556.06 677.47H563.9V679.89H556.06zM566.51 677.47H576.95V679.89H566.51zM584.78 677.47H600.45V679.89H584.78zM608.28 677.47H610.89V679.89H608.28zM469.91 679.89H472.52V682.3H469.91zM475.13 679.89H482.96V682.3H475.13zM498.63 679.89H501.24V682.3H498.63zM506.46 679.89H509.07V682.3H506.46zM566.51 679.89H569.12V682.3H566.51zM576.95 679.89H579.56V682.3H576.95zM584.78 679.89H590V682.3H584.78zM475.13 682.3H480.35V684.72H475.13zM496.02 682.3H506.46V684.72H496.02zM511.68 682.3H514.29V684.72H511.68zM566.51 682.3H574.34V684.72H566.51zM582.17 682.3H584.78V684.72H582.17zM605.67 682.3H608.28V684.72H605.67zM610.89 682.3H613.5V684.72H610.89zM475.13 684.72H482.96V687.14H475.13zM498.63 684.72H503.85V687.14H498.63zM506.46 684.72H509.07V687.14H506.46zM511.68 684.72H516.9V687.14H511.68zM563.9 684.72H566.51V687.14H563.9zM569.12 684.72H571.73V687.14H569.12zM576.95 684.72H584.78V687.14H576.95zM590 684.72H595.23V687.14H590zM467.3 687.14H469.91V689.56H467.3zM472.52 687.14H480.35V689.56H472.52zM498.63 687.14H503.85V689.56H498.63zM509.07 687.14H514.29V689.56H509.07zM569.12 687.14H574.34V689.56H569.12zM576.95 687.14H584.78V689.56H576.95zM587.39 687.14H592.61V689.56H587.39zM603.06 687.14H605.67V689.56H603.06zM472.52 689.56H475.13V691.98H472.52zM493.41 689.56H496.02V691.98H493.41zM498.63 689.56H514.29V691.98H498.63zM566.51 689.56H569.12V691.98H566.51zM571.73 689.56H576.95V691.98H571.73zM579.56 689.56H582.17V691.98H579.56zM590 689.56H592.61V691.98H590zM603.06 689.56H608.28V691.98H603.06zM490.8 691.98H501.24V694.39H490.8zM506.46 691.98H511.68V694.39H506.46zM566.51 691.98H569.12V694.39H566.51zM576.95 691.98H579.56V694.39H576.95zM587.39 691.98H590V694.39H587.39zM592.61 691.98H595.23V694.39H592.61zM600.45 691.98H605.67V694.39H600.45zM467.3 694.39H469.91V696.81H467.3zM490.8 694.39H503.85V696.81H490.8zM571.73 694.39H579.56V696.81H571.73zM590 694.39H600.45V696.81H590zM485.57 696.81H501.24V699.23H485.57zM503.85 696.81H509.07V699.23H503.85zM571.73 696.81H574.34V699.23H571.73zM582.17 696.81H584.78V699.23H582.17zM587.39 696.81H595.23V699.23H587.39zM597.84 696.81H603.06V699.23H597.84zM610.89 696.81H613.5V699.23H610.89zM477.74 699.23H480.35V701.65H477.74zM485.57 699.23H498.63V701.65H485.57zM506.46 699.23H514.29V701.65H506.46zM569.12 699.23H571.73V701.65H569.12zM576.95 699.23H579.56V701.65H576.95zM584.78 699.23H603.06V701.65H584.78zM605.67 699.23H610.89V701.65H605.67zM467.3 701.65H469.91V704.06H467.3zM482.96 701.65H496.02V704.06H482.96zM498.63 701.65H501.24V704.06H498.63zM506.46 701.65H511.68V704.06H506.46zM569.12 701.65H571.73V704.06H569.12zM576.95 701.65H579.56V704.06H576.95zM582.17 701.65H587.39V704.06H582.17zM590 701.65H597.84V704.06H590zM482.96 704.06H485.57V706.48H482.96zM490.8 704.06H496.02V706.48H490.8zM501.24 704.06H509.07V706.48H501.24zM574.34 704.06H576.95V706.48H574.34zM579.56 704.06H587.39V706.48H579.56zM595.23 704.06H600.45V706.48H595.23zM477.74 706.48H482.96V708.9H477.74zM490.8 706.48H511.68V708.9H490.8zM569.12 706.48H574.34V708.9H569.12zM584.78 706.48H587.39V708.9H584.78zM592.61 706.48H595.23V708.9H592.61zM482.96 708.9H488.19V711.32H482.96zM493.41 708.9H496.02V711.32H493.41zM498.63 708.9H501.24V711.32H498.63zM503.85 708.9H511.68V711.32H503.85zM569.12 708.9H576.95V711.32H569.12zM582.17 708.9H590V711.32H582.17zM592.61 708.9H595.23V711.32H592.61zM603.06 708.9H605.67V711.32H603.06zM608.28 708.9H610.89V711.32H608.28zM475.13 711.32H482.96V713.74H475.13zM498.63 711.32H501.24V713.74H498.63zM506.46 711.32H509.07V713.74H506.46zM569.12 711.32H576.95V713.74H569.12zM582.17 711.32H587.39V713.74H582.17zM590 711.32H592.61V713.74H590zM595.23 711.32H597.84V713.74H595.23zM603.06 711.32H605.67V713.74H603.06zM608.28 711.32H613.5V713.74H608.28zM475.13 713.74H480.35V716.15H475.13zM482.96 713.74H493.41V716.15H482.96zM503.85 713.74H511.68V716.15H503.85zM569.12 713.74H582.17V716.15H569.12zM597.84 713.74H600.45V716.15H597.84zM605.67 713.74H613.5V716.15H605.67zM472.52 716.15H485.57V718.57H472.52zM490.8 716.15H493.41V718.57H490.8zM501.24 716.15H503.85V718.57H501.24zM509.07 716.15H511.68V718.57H509.07zM569.12 716.15H574.34V718.57H569.12zM579.56 716.15H584.78V718.57H579.56zM608.28 716.15H613.5V718.57H608.28zM467.3 718.57H469.91V720.99H467.3zM477.74 718.57H480.35V720.99H477.74zM498.63 718.57H501.24V720.99H498.63zM509.07 718.57H511.68V720.99H509.07zM569.12 718.57H579.56V720.99H569.12zM584.78 718.57H587.39V720.99H584.78zM592.61 718.57H597.84V720.99H592.61zM608.28 718.57H610.89V720.99H608.28zM467.3 720.99H469.91V723.41H467.3zM477.74 720.99H480.35V723.41H477.74zM482.96 720.99H485.57V723.41H482.96zM501.24 720.99H511.68V723.41H501.24zM569.12 720.99H576.95V723.41H569.12zM584.78 720.99H590V723.41H584.78zM595.23 720.99H603.06V723.41H595.23zM605.67 720.99H608.28V723.41H605.67zM480.35 723.41H482.96V725.83H480.35zM488.19 723.41H503.85V725.83H488.19zM569.12 723.41H590V725.83H569.12zM592.61 723.41H600.45V725.83H592.61zM472.52 725.83H475.13V728.24H472.52zM485.57 725.83H501.24V728.24H485.57zM569.12 725.83H595.23V728.24H569.12zM472.52 728.24H477.74V730.66H472.52zM482.96 728.24H485.57V730.66H482.96zM493.41 728.24H498.63V730.66H493.41zM569.12 728.24H576.95V730.66H569.12zM579.56 728.24H582.17V730.66H579.56zM584.78 728.24H587.39V730.66H584.78zM592.61 728.24H595.23V730.66H592.61zM477.74 730.66H501.24V733.08H477.74zM579.56 730.66H582.17V733.08H579.56zM603.06 730.66H608.28V733.08H603.06zM490.8 733.08H496.02V735.5H490.8zM569.12 733.08H579.56V735.5H569.12zM605.67 733.08H608.28V735.5H605.67zM467.3 735.5H469.91V737.91H467.3zM485.57 735.5H490.8V737.91H485.57zM493.41 735.5H496.02V737.91H493.41zM569.12 735.5H582.17V737.91H569.12zM587.39 735.5H590V737.91H587.39zM482.96 737.91H485.57V740.33H482.96zM503.85 737.91H509.07V740.33H503.85zM569.12 737.91H574.34V740.33H569.12zM576.95 737.91H579.56V740.33H576.95zM608.28 737.91H610.89V740.33H608.28zM503.85 740.33H506.46V742.75H503.85zM509.07 740.33H511.68V742.75H509.07zM527.35 740.33H535.18V742.75H527.35zM571.73 740.33H579.56V742.75H571.73zM590 740.33H597.84V742.75H590zM608.28 740.33H610.89V742.75H608.28zM467.3 742.75H469.91V745.17H467.3zM475.13 742.75H488.19V745.17H475.13zM501.24 742.75H503.85V745.17H501.24zM524.74 742.75H529.96V745.17H524.74zM537.79 742.75H543.01V745.17H537.79zM545.62 742.75H556.06V745.17H545.62zM576.95 742.75H584.78V745.17H576.95zM592.61 742.75H595.23V745.17H592.61zM480.35 745.17H490.8V747.59H480.35zM503.85 745.17H506.46V747.59H503.85zM524.74 745.17H529.96V747.59H524.74zM540.4 745.17H543.01V747.59H540.4zM548.23 745.17H556.06V747.59H548.23zM563.9 745.17H566.51V747.59H563.9zM571.73 745.17H574.34V747.59H571.73zM582.17 745.17H584.78V747.59H582.17zM587.39 745.17H597.84V747.59H587.39zM605.67 745.17H610.89V747.59H605.67zM475.13 747.59H477.74V750H475.13zM503.85 747.59H506.46V750H503.85zM511.68 747.59H519.51V750H511.68zM524.74 747.59H527.35V750H524.74zM532.57 747.59H535.18V750H532.57zM540.4 747.59H556.06V750H540.4zM558.67 747.59H561.29V750H558.67zM563.9 747.59H571.73V750H563.9zM587.39 747.59H600.45V750H587.39zM467.3 750H469.91V752.42H467.3zM485.57 750H493.41V752.42H485.57zM501.24 750H506.46V752.42H501.24zM514.29 750H516.9V752.42H514.29zM522.12 750H524.74V752.42H522.12zM532.57 750H537.79V752.42H532.57zM540.4 750H545.62V752.42H540.4zM548.23 750H550.84V752.42H548.23zM558.67 750H566.51V752.42H558.67zM571.73 750H574.34V752.42H571.73zM592.61 750H595.23V752.42H592.61zM475.13 752.42H477.74V754.84H475.13zM488.19 752.42H493.41V754.84H488.19zM503.85 752.42H509.07V754.84H503.85zM519.51 752.42H522.12V754.84H519.51zM524.74 752.42H529.96V754.84H524.74zM532.57 752.42H537.79V754.84H532.57zM553.45 752.42H556.06V754.84H553.45zM558.67 752.42H561.29V754.84H558.67zM569.12 752.42H574.34V754.84H569.12zM582.17 752.42H584.78V754.84H582.17zM590 752.42H592.61V754.84H590zM610.89 752.42H613.5V754.84H610.89zM467.3 754.84H469.91V757.26H467.3zM472.52 754.84H477.74V757.26H472.52zM503.85 754.84H506.46V757.26H503.85zM511.68 754.84H514.29V757.26H511.68zM529.96 754.84H532.57V757.26H529.96zM550.84 754.84H556.06V757.26H550.84zM558.67 754.84H561.29V757.26H558.67zM566.51 754.84H571.73V757.26H566.51zM576.95 754.84H582.17V757.26H576.95zM584.78 754.84H587.39V757.26H584.78zM477.74 757.26H480.35V759.67H477.74zM490.8 757.26H493.41V759.67H490.8zM501.24 757.26H519.51V759.67H501.24zM524.74 757.26H527.35V759.67H524.74zM535.18 757.26H537.79V759.67H535.18zM543.01 757.26H545.62V759.67H543.01zM556.06 757.26H558.67V759.67H556.06zM563.9 757.26H571.73V759.67H563.9zM582.17 757.26H584.78V759.67H582.17zM597.84 757.26H600.45V759.67H597.84zM472.52 759.67H475.13V762.09H472.52zM482.96 759.67H485.57V762.09H482.96zM509.07 759.67H516.9V762.09H509.07zM519.51 759.67H522.12V762.09H519.51zM524.74 759.67H527.35V762.09H524.74zM543.01 759.67H548.23V762.09H543.01zM566.51 759.67H569.12V762.09H566.51zM582.17 759.67H584.78V762.09H582.17zM485.57 762.09H488.19V764.51H485.57zM501.24 762.09H503.85V764.51H501.24zM506.46 762.09H511.68V764.51H506.46zM522.12 762.09H524.74V764.51H522.12zM532.57 762.09H535.18V764.51H532.57zM558.67 762.09H561.29V764.51H558.67zM579.56 762.09H584.78V764.51H579.56zM485.57 764.51H488.19V766.93H485.57zM501.24 764.51H506.46V766.93H501.24zM509.07 764.51H511.68V766.93H509.07zM527.35 764.51H529.96V766.93H527.35zM556.06 764.51H558.67V766.93H556.06zM579.56 764.51H582.17V766.93H579.56zM584.78 764.51H590V766.93H584.78zM490.8 766.93H496.02V769.35H490.8zM498.63 766.93H501.24V769.35H498.63zM519.51 766.93H527.35V769.35H519.51zM535.18 766.93H540.4V769.35H535.18zM556.06 766.93H558.67V769.35H556.06zM579.56 766.93H582.17V769.35H579.56zM475.13 769.35H477.74V771.76H475.13zM493.41 769.35H496.02V771.76H493.41zM503.85 769.35H509.07V771.76H503.85zM514.29 769.35H519.51V771.76H514.29zM524.74 769.35H529.96V771.76H524.74zM537.79 769.35H540.4V771.76H537.79zM553.45 769.35H561.29V771.76H553.45zM579.56 769.35H582.17V771.76H579.56zM467.3 771.76H469.91V774.18H467.3zM475.13 771.76H480.35V774.18H475.13zM485.57 771.76H488.19V774.18H485.57zM522.12 771.76H524.74V774.18H522.12zM556.06 771.76H558.67V774.18H556.06zM563.9 771.76H566.51V774.18H563.9zM467.3 774.18H485.57V776.6H467.3zM511.68 774.18H514.29V776.6H511.68zM561.29 774.18H563.9V776.6H561.29zM608.28 774.18H613.5V776.6H608.28z"/>
<path fill="#0000e9" d="M556.06 675.05H558.67V677.47H556.06zM524.74 677.47H527.35V679.89H524.74zM553.45 677.47H556.06V679.89H553.45zM519.51 679.89H522.12V682.3H519.51zM558.67 679.89H561.29V682.3H558.67zM574.34 691.98H576.95V694.39H574.34zM503.85 694.39H506.46V696.81H503.85zM511.68 701.65H514.29V704.06H511.68zM509.07 704.06H511.68V706.48H509.07zM509.07 711.32H511.68V713.74H509.07zM566.51 740.33H569.12V742.75H566.51zM514.29 742.75H516.9V745.17H514.29zM522.12 742.75H524.74V745.17H522.12zM543.01 742.75H545.62V745.17H543.01zM556.06 742.75H558.67V745.17H556.06zM563.9 742.75H566.51V745.17H563.9z"/>
<path fill="#0000fb" d="M535.18 672.63H540.4V675.05H535.18zM516.9 682.3H519.51V684.72H516.9zM561.29 682.3H563.9V684.72H561.29zM514.29 687.14H516.9V689.56H514.29zM566.51 694.39H569.12V696.81H566.51zM511.68 740.33H514.29V742.75H511.68zM535.18 740.33H537.79V742.75H535.18z"/>
<path fill="#000eff" d="M532.57 672.63H535.18V675.05H532.57zM540.4 672.63H543.01V675.05H540.4zM545.62 672.63H548.23V675.05H545.62zM511.68 704.06H514.29V706.48H511.68zM524.74 740.33H527.35V742.75H524.74zM543.01 740.33H553.45V742.75H543.01z"/>
<path fill="#0020ff" d="M529.96 675.05H532.57V677.47H529.96zM548.23 675.05H550.84V677.47H548.23zM566.51 696.81H569.12V699.23H566.51zM566.51 701.65H569.12V704.06H566.51zM511.68 706.48H514.29V708.9H511.68zM511.68 708.9H514.29V711.32H511.68zM566.51 735.5H569.12V737.91H566.51zM537.79 740.33H543.01V742.75H537.79zM516.9 742.75H519.51V745.17H516.9z"/>
<path fill="#0032ff" d="M516.9 684.72H519.51V687.14H516.9zM563.9 687.14H566.51V689.56H563.9zM511.68 711.32H514.29V713.74H511.68zM511.68 716.15H514.29V718.57H511.68zM566.51 725.83H569.12V728.24H566.51zM519.51 742.75H522.12V745.17H519.51z"/>
<path fill="#0044ff" d="M511.68 713.74H514.29V716.15H511.68zM566.51 716.15H569.12V718.57H566.51zM511.68 723.41H514.29V725.83H511.68zM566.51 723.41H569.12V725.83H566.51zM566.51 730.66H569.12V733.08H566.51zM566.51 733.08H569.12V735.5H566.51zM511.68 737.91H514.29V740.33H511.68zM561.29 742.75H563.9V745.17H561.29z"/>
<path fill="#0056ff" d="M556.06 679.89H558.67V682.3H556.06zM563.9 689.56H566.51V691.98H563.9zM566.51 704.06H569.12V706.48H566.51zM566.51 728.24H569.12V730.66H566.51zM553.45 740.33H556.06V742.75H553.45zM558.67 742.75H561.29V745.17H558.67z"/>
<path fill="#0067ff" d="M550.84 677.47H553.45V679.89H550.84zM514.29 689.56H516.9V691.98H514.29zM566.51 699.23H569.12V701.65H566.51zM511.68 718.57H514.29V720.99H511.68zM511.68 728.24H514.29V730.66H511.68zM511.68 730.66H514.29V733.08H511.68zM566.51 737.91H569.12V740.33H566.51z"/>
<path fill="#0079ff" d="M543.01 672.63H545.62V675.05H543.01zM522.12 679.89H524.74V682.3H522.12zM514.29 694.39H516.9V696.81H514.29zM514.29 699.23H516.9V701.65H514.29z"/>
<path fill="#008bff" d="M527.35 677.47H529.96V679.89H527.35zM519.51 682.3H522.12V684.72H519.51zM563.9 691.98H566.51V694.39H563.9zM566.51 706.48H569.12V708.9H566.51zM566.51 708.9H569.12V711.32H566.51zM566.51 713.74H569.12V716.15H566.51zM563.9 740.33H566.51V742.75H563.9z"/>
<path fill="#009dff" d="M524.74 679.89H527.35V682.3H524.74zM561.29 684.72H563.9V687.14H561.29zM566.51 711.32H569.12V713.74H566.51zM566.51 718.57H569.12V720.99H566.51zM511.68 720.99H514.29V723.41H511.68zM511.68 725.83H514.29V728.24H511.68zM527.35 737.91H529.96V740.33H527.35zM532.57 737.91H535.18V740.33H532.57z"/>
<path fill="#00afff" d="M514.29 691.98H516.9V694.39H514.29zM514.29 701.65H516.9V704.06H514.29zM511.68 733.08H514.29V735.5H511.68zM511.68 735.5H514.29V737.91H511.68z"/>
<path fill="#00d3ff" d="M514.29 696.81H516.9V699.23H514.29zM566.51 720.99H569.12V723.41H566.51zM514.29 740.33H516.9V742.75H514.29zM556.06 740.33H558.67V742.75H556.06z"/>
<path fill="#00e5ff" d="M545.62 675.05H548.23V677.47H545.62zM529.96 677.47H532.57V679.89H529.96zM553.45 679.89H556.06V682.3H553.45zM558.67 682.3H561.29V684.72H558.67zM529.96 737.91H532.57V740.33H529.96zM535.18 737.91H537.79V740.33H535.18z"/>
<path fill="#00f7ff" d="M516.9 687.14H519.51V689.56H516.9zM550.84 737.91H556.06V740.33H550.84zM522.12 740.33H524.74V742.75H522.12z"/>
<path fill="#0afff5" d="M514.29 706.48H516.9V708.9H514.29zM558.67 740.33H561.29V742.75H558.67z"/>
<path fill="#1cffe3" d="M563.9 694.39H566.51V696.81H563.9zM514.29 704.06H516.9V706.48H514.29z"/>
<path fill="#2effd1" d="M537.79 675.05H540.4V677.47H537.79zM543.01 675.05H545.62V677.47H543.01zM548.23 677.47H550.84V679.89H548.23zM524.74 737.91H527.35V740.33H524.74zM540.4 737.91H545.62V740.33H540.4z"/>
<path fill="#40ffbf" d="M550.84 679.89H553.45V682.3H550.84zM516.9 689.56H519.51V691.98H516.9zM514.29 711.32H516.9V713.74H514.29zM545.62 737.91H548.23V740.33H545.62zM561.29 740.33H563.9V742.75H561.29z"/>
<path fill="#51ffae" d="M532.57 675.05H537.79V677.47H532.57zM561.29 687.14H563.9V689.56H561.29zM537.79 737.91H540.4V740.33H537.79zM548.23 737.91H550.84V740.33H548.23zM563.9 737.91H566.51V740.33H563.9zM519.51 740.33H522.12V742.75H519.51z"/>
<path fill="#63ff9c" d="M514.29 708.9H516.9V711.32H514.29z"/>
<path fill="#75ff8a" d="M514.29 713.74H516.9V716.15H514.29zM514.29 718.57H516.9V720.99H514.29zM563.9 735.5H566.51V737.91H563.9z"/>
<path fill="#87ff78" d="M563.9 696.81H566.51V699.23H563.9z"/>
<path fill="#99ff66" d="M527.35 679.89H529.96V682.3H527.35zM522.12 682.3H524.74V684.72H522.12zM516.9 740.33H519.51V742.75H516.9z"/>
<path fill="#abff54" d="M540.4 675.05H543.01V677.47H540.4zM514.29 716.15H516.9V718.57H514.29zM563.9 733.08H566.51V735.5H563.9z"/>
<path fill="#bdff42" d="M556.06 682.3H558.67V684.72H556.06zM516.9 691.98H519.51V694.39H516.9zM514.29 720.99H516.9V723.41H514.29zM514.29 737.91H516.9V740.33H514.29z"/>
<path fill="#cfff30" d="M561.29 689.56H563.9V691.98H561.29zM563.9 699.23H566.51V701.65H563.9zM514.29 725.83H516.9V728.24H514.29zM514.29 730.66H516.9V733.08H514.29zM522.12 737.91H524.74V740.33H522.12z"/>
<path fill="#e1ff1e" d="M563.9 701.65H566.51V704.06H563.9zM563.9 706.48H566.51V708.9H563.9zM563.9 723.41H566.51V725.83H563.9zM563.9 725.83H566.51V728.24H563.9z"/>
<path fill="#f3ff0c" d="M519.51 684.72H522.12V687.14H519.51zM558.67 684.72H561.29V687.14H558.67zM514.29 728.24H516.9V730.66H514.29zM514.29 733.08H516.9V735.5H514.29z"/>
<path fill="#fff900" d="M529.96 679.89H532.57V682.3H529.96zM524.74 682.3H527.35V684.72H524.74zM563.9 704.06H566.51V706.48H563.9zM514.29 723.41H516.9V725.83H514.29zM563.9 730.66H566.51V733.08H563.9zM556.06 737.91H558.67V740.33H556.06z"/>
<path fill="#ffe700" d="M545.62 677.47H548.23V679.89H545.62zM519.51 687.14H522.12V689.56H519.51zM516.9 694.39H519.51V696.81H516.9zM563.9 720.99H566.51V723.41H563.9zM514.29 735.5H516.9V737.91H514.29z"/>
<path fill="#ffd500" d="M563.9 711.32H566.51V713.74H563.9zM563.9 718.57H566.51V720.99H563.9zM563.9 728.24H566.51V730.66H563.9z"/>
<path fill="#ffc400" d="M553.45 682.3H556.06V684.72H553.45zM561.29 691.98H563.9V694.39H561.29zM563.9 716.15H566.51V718.57H563.9zM527.35 735.5H529.96V737.91H527.35zM550.84 735.5H553.45V737.91H550.84z"/>
<path fill="#ffb200" d="M516.9 696.81H519.51V699.23H516.9zM516.9 704.06H519.51V706.48H516.9zM563.9 708.9H566.51V711.32H563.9zM519.51 737.91H522.12V740.33H519.51zM561.29 737.91H563.9V740.33H561.29z"/>
<path fill="#ffa000" d="M516.9 699.23H519.51V701.65H516.9zM563.9 713.74H566.51V716.15H563.9zM529.96 735.5H532.57V737.91H529.96zM545.62 735.5H548.23V737.91H545.62z"/>
<path fill="#ff8e00" d="M532.57 677.47H535.18V679.89H532.57zM548.23 679.89H550.84V682.3H548.23zM519.51 689.56H522.12V691.98H519.51zM524.74 735.5H527.35V737.91H524.74zM556.06 735.5H558.67V737.91H556.06z"/>
<path fill="#ff7c00" d="M535.18 735.5H537.79V737.91H535.18z"/>
<path fill="#ff6a00" d="M540.4 677.47H543.01V679.89H540.4zM556.06 684.72H558.67V687.14H556.06zM548.23 735.5H550.84V737.91H548.23z"/>
<path fill="#ff5800" d="M516.9 701.65H519.51V704.06H516.9zM522.12 735.5H524.74V737.91H522.12zM532.57 735.5H535.18V737.91H532.57zM516.9 737.91H519.51V740.33H516.9zM558.67 737.91H561.29V740.33H558.67z"/>
<path fill="#ff4600" d="M535.18 679.89H537.79V682.3H535.18zM550.84 682.3H553.45V684.72H550.84zM529.96 687.14H535.18V689.56H529.96zM540.4 687.14H543.01V689.56H540.4zM558.67 687.14H561.29V689.56H558.67zM532.57 691.98H535.18V694.39H532.57zM545.62 691.98H548.23V694.39H545.62zM532.57 694.39H537.79V696.81H532.57zM558.67 694.39H563.9V696.81H558.67zM522.12 696.81H524.74V699.23H522.12zM548.23 696.81H550.84V699.23H548.23zM527.35 701.65H529.96V704.06H527.35zM540.4 701.65H543.01V704.06H540.4zM561.29 701.65H563.9V704.06H561.29zM519.51 704.06H522.12V706.48H519.51zM540.4 704.06H543.01V706.48H540.4zM550.84 704.06H556.06V706.48H550.84zM550.84 706.48H553.45V708.9H550.84zM540.4 708.9H543.01V711.32H540.4zM550.84 708.9H553.45V711.32H550.84zM556.06 708.9H558.67V711.32H556.06zM527.35 713.74H529.96V716.15H527.35zM532.57 713.74H535.18V716.15H532.57zM527.35 716.15H529.96V718.57H527.35zM535.18 723.41H537.79V725.83H535.18zM545.62 723.41H548.23V725.83H545.62zM558.67 723.41H561.29V725.83H558.67zM516.9 725.83H519.51V728.24H516.9zM522.12 725.83H527.35V728.24H522.12zM516.9 728.24H519.51V730.66H516.9zM529.96 730.66H532.57V733.08H529.96zM535.18 733.08H537.79V735.5H535.18zM545.62 733.08H548.23V735.5H545.62zM556.06 733.08H561.29V735.5H556.06zM519.51 735.5H522.12V737.91H519.51zM537.79 735.5H545.62V737.91H537.79zM553.45 735.5H556.06V737.91H553.45z"/>
<path fill="#ff3400" d="M543.01 679.89H545.62V682.3H543.01zM540.4 682.3H543.01V684.72H540.4zM522.12 684.72H524.74V687.14H522.12zM548.23 684.72H550.84V687.14H548.23zM543.01 687.14H545.62V689.56H543.01zM524.74 689.56H527.35V691.98H524.74zM532.57 689.56H535.18V691.98H532.57zM537.79 689.56H540.4V691.98H537.79zM556.06 689.56H558.67V691.98H556.06zM524.74 694.39H529.96V696.81H524.74zM537.79 694.39H543.01V696.81H537.79zM537.79 696.81H543.01V699.23H537.79zM561.29 696.81H563.9V699.23H561.29zM556.06 704.06H558.67V706.48H556.06zM519.51 706.48H524.74V708.9H519.51zM545.62 706.48H548.23V708.9H545.62zM558.67 706.48H563.9V708.9H558.67zM548.23 708.9H550.84V711.32H548.23zM522.12 711.32H524.74V713.74H522.12zM540.4 711.32H543.01V713.74H540.4zM550.84 711.32H556.06V713.74H550.84zM516.9 713.74H522.12V716.15H516.9zM524.74 713.74H527.35V716.15H524.74zM545.62 716.15H548.23V718.57H545.62zM561.29 716.15H563.9V718.57H561.29zM556.06 718.57H558.67V720.99H556.06zM522.12 720.99H524.74V723.41H522.12zM556.06 720.99H558.67V723.41H556.06zM527.35 723.41H529.96V725.83H527.35zM561.29 723.41H563.9V725.83H561.29zM548.23 725.83H550.84V728.24H548.23zM556.06 725.83H558.67V728.24H556.06zM561.29 725.83H563.9V728.24H561.29zM522.12 728.24H524.74V730.66H522.12zM540.4 728.24H545.62V730.66H540.4zM556.06 728.24H558.67V730.66H556.06zM537.79 730.66H543.01V733.08H537.79zM558.67 730.66H561.29V733.08H558.67zM516.9 733.08H519.51V735.5H516.9zM532.57 733.08H535.18V735.5H532.57zM543.01 733.08H545.62V735.5H543.01zM561.29 733.08H563.9V735.5H561.29z"/>
<path fill="#ff2200" d="M537.79 679.89H540.4V682.3H537.79zM527.35 682.3H529.96V684.72H527.35zM537.79 687.14H540.4V689.56H537.79zM540.4 689.56H543.01V691.98H540.4zM558.67 689.56H561.29V691.98H558.67zM519.51 691.98H522.12V694.39H519.51zM535.18 691.98H537.79V694.39H535.18zM553.45 691.98H556.06V694.39H553.45zM556.06 694.39H558.67V696.81H556.06zM527.35 696.81H529.96V699.23H527.35zM532.57 696.81H535.18V699.23H532.57zM519.51 699.23H522.12V701.65H519.51zM553.45 699.23H556.06V701.65H553.45zM561.29 699.23H563.9V701.65H561.29zM537.79 701.65H540.4V704.06H537.79zM532.57 704.06H535.18V706.48H532.57zM548.23 704.06H550.84V706.48H548.23zM516.9 708.9H522.12V711.32H516.9zM527.35 708.9H529.96V711.32H527.35zM545.62 708.9H548.23V711.32H545.62zM553.45 708.9H556.06V711.32H553.45zM558.67 708.9H561.29V711.32H558.67zM516.9 711.32H519.51V713.74H516.9zM558.67 711.32H561.29V713.74H558.67zM550.84 713.74H553.45V716.15H550.84zM516.9 716.15H519.51V718.57H516.9zM543.01 716.15H545.62V718.57H543.01zM553.45 716.15H556.06V718.57H553.45zM527.35 718.57H529.96V720.99H527.35zM561.29 718.57H563.9V720.99H561.29zM522.12 723.41H524.74V725.83H522.12zM543.01 725.83H545.62V728.24H543.01zM558.67 725.83H561.29V728.24H558.67zM519.51 728.24H522.12V730.66H519.51zM548.23 728.24H553.45V730.66H548.23zM516.9 730.66H519.51V733.08H516.9zM543.01 730.66H548.23V733.08H543.01zM548.23 733.08H550.84V735.5H548.23zM558.67 735.5H561.29V737.91H558.67z"/>
<path fill="#ff1000" d="M543.01 677.47H545.62V679.89H543.01zM524.74 684.72H527.35V687.14H524.74zM540.4 684.72H543.01V687.14H540.4zM524.74 687.14H527.35V689.56H524.74zM535.18 687.14H537.79V689.56H535.18zM527.35 689.56H529.96V691.98H527.35zM545.62 689.56H548.23V691.98H545.62zM540.4 691.98H543.01V694.39H540.4zM556.06 691.98H558.67V694.39H556.06zM548.23 694.39H550.84V696.81H548.23zM529.96 696.81H532.57V699.23H529.96zM543.01 696.81H545.62V699.23H543.01zM550.84 696.81H553.45V699.23H550.84zM558.67 696.81H561.29V699.23H558.67zM550.84 699.23H553.45V701.65H550.84zM558.67 699.23H561.29V701.65H558.67zM519.51 701.65H522.12V704.06H519.51zM548.23 701.65H550.84V704.06H548.23zM556.06 701.65H558.67V704.06H556.06zM527.35 704.06H529.96V706.48H527.35zM516.9 706.48H519.51V708.9H516.9zM527.35 706.48H529.96V708.9H527.35zM532.57 706.48H535.18V708.9H532.57zM540.4 706.48H543.01V708.9H540.4zM556.06 706.48H558.67V708.9H556.06zM532.57 708.9H535.18V711.32H532.57zM537.79 708.9H540.4V711.32H537.79zM537.79 711.32H540.4V713.74H537.79zM553.45 713.74H556.06V716.15H553.45zM558.67 713.74H563.9V716.15H558.67zM535.18 716.15H537.79V718.57H535.18zM548.23 718.57H553.45V720.99H548.23zM527.35 720.99H529.96V723.41H527.35zM545.62 720.99H550.84V723.41H545.62zM558.67 720.99H561.29V723.41H558.67zM524.74 723.41H527.35V725.83H524.74zM529.96 723.41H532.57V725.83H529.96zM540.4 723.41H543.01V725.83H540.4zM556.06 723.41H558.67V725.83H556.06zM519.51 725.83H522.12V728.24H519.51zM535.18 725.83H537.79V728.24H535.18zM553.45 725.83H556.06V728.24H553.45zM532.57 728.24H535.18V730.66H532.57zM550.84 730.66H553.45V733.08H550.84zM550.84 733.08H553.45V735.5H550.84zM561.29 735.5H563.9V737.91H561.29z"/>
<path fill="#fd0000" d="M535.18 677.47H537.79V679.89H535.18zM545.62 679.89H548.23V682.3H545.62zM550.84 684.72H553.45V687.14H550.84zM522.12 687.14H524.74V689.56H522.12zM545.62 687.14H548.23V689.56H545.62zM548.23 689.56H550.84V691.98H548.23zM553.45 689.56H556.06V691.98H553.45zM553.45 694.39H556.06V696.81H553.45zM535.18 696.81H537.79V699.23H535.18zM545.62 699.23H548.23V701.65H545.62zM556.06 699.23H558.67V701.65H556.06zM529.96 701.65H535.18V704.06H529.96zM558.67 701.65H561.29V704.06H558.67zM535.18 704.06H537.79V706.48H535.18zM537.79 706.48H540.4V708.9H537.79zM522.12 713.74H524.74V716.15H522.12zM535.18 713.74H537.79V716.15H535.18zM524.74 716.15H527.35V718.57H524.74zM529.96 718.57H532.57V720.99H529.96zM535.18 718.57H540.4V720.99H535.18zM553.45 718.57H556.06V720.99H553.45zM524.74 720.99H527.35V723.41H524.74zM537.79 723.41H540.4V725.83H537.79zM548.23 723.41H550.84V725.83H548.23zM532.57 725.83H535.18V728.24H532.57zM524.74 728.24H527.35V730.66H524.74zM535.18 728.24H537.79V730.66H535.18zM545.62 728.24H548.23V730.66H545.62zM519.51 730.66H522.12V733.08H519.51zM561.29 730.66H563.9V733.08H561.29zM529.96 733.08H532.57V735.5H529.96z"/>
<path fill="#eb0000" d="M537.79 677.47H540.4V679.89H537.79zM540.4 679.89H543.01V682.3H540.4zM529.96 682.3H532.57V684.72H529.96zM545.62 684.72H548.23V687.14H545.62zM553.45 684.72H556.06V687.14H553.45zM522.12 689.56H524.74V691.98H522.12zM543.01 689.56H545.62V691.98H543.01zM522.12 691.98H524.74V694.39H522.12zM543.01 691.98H545.62V694.39H543.01zM524.74 699.23H527.35V701.65H524.74zM540.4 699.23H543.01V701.65H540.4zM522.12 701.65H524.74V704.06H522.12zM543.01 701.65H548.23V704.06H543.01zM550.84 701.65H553.45V704.06H550.84zM524.74 704.06H527.35V706.48H524.74zM537.79 704.06H540.4V706.48H537.79zM545.62 704.06H548.23V706.48H545.62zM543.01 706.48H545.62V708.9H543.01zM548.23 706.48H550.84V708.9H548.23zM522.12 708.9H527.35V711.32H522.12zM524.74 711.32H527.35V713.74H524.74zM532.57 711.32H535.18V713.74H532.57zM545.62 711.32H548.23V713.74H545.62zM561.29 711.32H563.9V713.74H561.29zM529.96 716.15H535.18V718.57H529.96zM537.79 716.15H540.4V718.57H537.79zM516.9 718.57H519.51V720.99H516.9zM540.4 718.57H543.01V720.99H540.4zM545.62 718.57H548.23V720.99H545.62zM532.57 720.99H535.18V723.41H532.57zM543.01 723.41H545.62V725.83H543.01zM527.35 725.83H529.96V728.24H527.35zM556.06 730.66H558.67V733.08H556.06zM522.12 733.08H524.74V735.5H522.12z"/>
<path fill="#da0000" d="M532.57 682.3H537.79V684.72H532.57zM543.01 682.3H548.23V684.72H543.01zM527.35 684.72H535.18V687.14H527.35zM537.79 684.72H540.4V687.14H537.79zM543.01 684.72H545.62V687.14H543.01zM527.35 687.14H529.96V689.56H527.35zM553.45 687.14H558.67V689.56H553.45zM519.51 694.39H522.12V696.81H519.51zM553.45 696.81H558.67V699.23H553.45zM543.01 699.23H545.62V701.65H543.01zM548.23 699.23H550.84V701.65H548.23zM553.45 701.65H556.06V704.06H553.45zM553.45 706.48H556.06V708.9H553.45zM529.96 708.9H532.57V711.32H529.96zM535.18 708.9H537.79V711.32H535.18zM543.01 708.9H545.62V711.32H543.01zM561.29 708.9H563.9V711.32H561.29zM543.01 711.32H545.62V713.74H543.01zM556.06 711.32H558.67V713.74H556.06zM529.96 713.74H532.57V716.15H529.96zM540.4 713.74H543.01V716.15H540.4zM556.06 713.74H558.67V716.15H556.06zM556.06 716.15H558.67V718.57H556.06zM519.51 718.57H522.12V720.99H519.51zM532.57 718.57H535.18V720.99H532.57zM543.01 718.57H545.62V720.99H543.01zM516.9 720.99H519.51V723.41H516.9zM537.79 720.99H540.4V723.41H537.79zM550.84 720.99H553.45V723.41H550.84zM516.9 723.41H519.51V725.83H516.9zM553.45 723.41H556.06V725.83H553.45zM537.79 725.83H543.01V728.24H537.79zM545.62 725.83H548.23V728.24H545.62zM550.84 725.83H553.45V728.24H550.84zM527.35 730.66H529.96V733.08H527.35zM535.18 730.66H537.79V733.08H535.18zM537.79 733.08H540.4V735.5H537.79zM553.45 733.08H556.06V735.5H553.45zM516.9 735.5H519.51V737.91H516.9z"/>
<path fill="#c80000" d="M532.57 679.89H535.18V682.3H532.57zM537.79 682.3H540.4V684.72H537.79zM548.23 682.3H550.84V684.72H548.23zM535.18 684.72H537.79V687.14H535.18zM548.23 687.14H553.45V689.56H548.23zM529.96 689.56H532.57V691.98H529.96zM550.84 689.56H553.45V691.98H550.84zM537.79 691.98H540.4V694.39H537.79zM548.23 691.98H553.45V694.39H548.23zM558.67 691.98H561.29V694.39H558.67zM522.12 694.39H524.74V696.81H522.12zM545.62 694.39H548.23V696.81H545.62zM519.51 696.81H522.12V699.23H519.51zM545.62 696.81H548.23V699.23H545.62zM522.12 699.23H524.74V701.65H522.12zM527.35 699.23H529.96V701.65H527.35zM532.57 699.23H535.18V701.65H532.57zM537.79 699.23H540.4V701.65H537.79zM522.12 704.06H524.74V706.48H522.12zM543.01 704.06H545.62V706.48H543.01zM558.67 704.06H561.29V706.48H558.67zM529.96 706.48H532.57V708.9H529.96zM529.96 711.32H532.57V713.74H529.96zM535.18 711.32H537.79V713.74H535.18zM548.23 711.32H550.84V713.74H548.23zM537.79 713.74H540.4V716.15H537.79zM543.01 713.74H550.84V716.15H543.01zM522.12 716.15H524.74V718.57H522.12zM540.4 716.15H543.01V718.57H540.4zM550.84 716.15H553.45V718.57H550.84zM558.67 716.15H561.29V718.57H558.67zM558.67 718.57H561.29V720.99H558.67zM529.96 720.99H532.57V723.41H529.96zM535.18 720.99H537.79V723.41H535.18zM540.4 720.99H545.62V723.41H540.4zM561.29 720.99H563.9V723.41H561.29zM550.84 723.41H553.45V725.83H550.84zM529.96 725.83H532.57V728.24H529.96zM529.96 728.24H532.57V730.66H529.96zM553.45 728.24H556.06V730.66H553.45zM558.67 728.24H563.9V730.66H558.67zM532.57 730.66H535.18V733.08H532.57zM548.23 730.66H550.84V733.08H548.23zM519.51 733.08H522.12V735.5H519.51zM524.74 733.08H527.35V735.5H524.74zM540.4 733.08H543.01V735.5H540.4z"/>
<path fill="#b60000" d="M535.18 689.56H537.79V691.98H535.18zM524.74 691.98H532.57V694.39H524.74zM529.96 694.39H532.57V696.81H529.96zM543.01 694.39H545.62V696.81H543.01zM550.84 694.39H553.45V696.81H550.84zM524.74 696.81H527.35V699.23H524.74zM529.96 699.23H532.57V701.65H529.96zM535.18 699.23H537.79V701.65H535.18zM524.74 701.65H527.35V704.06H524.74zM535.18 701.65H537.79V704.06H535.18zM529.96 704.06H532.57V706.48H529.96zM561.29 704.06H563.9V706.48H561.29zM524.74 706.48H527.35V708.9H524.74zM535.18 706.48H537.79V708.9H535.18zM519.51 711.32H522.12V713.74H519.51zM527.35 711.32H529.96V713.74H527.35zM519.51 716.15H522.12V718.57H519.51zM548.23 716.15H550.84V718.57H548.23zM522.12 718.57H527.35V720.99H522.12zM519.51 720.99H522.12V723.41H519.51zM553.45 720.99H556.06V723.41H553.45zM519.51 723.41H522.12V725.83H519.51zM532.57 723.41H535.18V725.83H532.57zM527.35 728.24H529.96V730.66H527.35zM537.79 728.24H540.4V730.66H537.79zM522.12 730.66H527.35V733.08H522.12zM553.45 730.66H556.06V733.08H553.45zM527.35 733.08H529.96V735.5H527.35z"/>
</g>
<g shape-rendering="crispEdges">
<rect x="651.5" y="640.4" width="147" height="136.2" fill="#0000f4"/>
<path fill="#0000c2" d="M653.54 646.07H655.58V647.97H653.54zM653.54 647.97H655.58V649.86H653.54zM702.54 647.97H704.58V649.86H702.54zM700.5 649.86H702.54V651.75H700.5zM751.54 649.86H753.58V651.75H751.54zM702.54 651.75H704.58V653.64H702.54zM780.12 651.75H782.17V653.64H780.12zM702.54 655.53H704.58V657.42H702.54zM702.54 657.42H704.58V659.32H702.54zM731.12 657.42H733.17V659.32H731.12zM653.54 659.32H655.58V661.21H653.54zM698.46 661.21H700.5V663.1H698.46zM755.62 664.99H757.67V666.88H755.62zM706.62 666.88H708.67V668.77H706.62zM731.12 666.88H733.17V668.77H731.12zM731.12 668.77H733.17V670.67H731.12zM778.08 668.77H782.17V670.67H778.08zM686.21 670.67H688.25V672.56H686.21zM696.42 672.56H698.46V674.45H696.42zM708.67 674.45H710.71V676.34H708.67zM733.17 674.45H735.21V676.34H733.17zM739.29 674.45H741.33V676.34H739.29zM653.54 678.23H655.58V680.12H653.54zM694.38 678.23H696.42V680.12H694.38zM694.38 680.12H696.42V682.02H694.38zM759.71 682.02H761.75V683.91H759.71zM780.12 685.8H782.17V687.69H780.12zM739.29 687.69H741.33V689.58H739.29zM694.38 691.48H696.42V693.37H694.38zM739.29 693.37H741.33V695.26H739.29zM696.42 695.26H698.46V697.15H696.42zM747.46 697.15H749.5V699.04H747.46zM655.58 702.83H657.62V704.72H655.58zM696.42 702.83H698.46V704.72H696.42zM788.29 702.83H790.33V704.72H788.29zM663.75 706.61H665.79V708.5H663.75zM682.12 706.61H684.17V708.5H682.12zM796.46 706.61H798.5V708.5H796.46zM771.96 714.17H774V716.07H771.96zM737.25 717.96H741.33V719.85H737.25zM780.12 717.96H782.17V719.85H780.12zM739.29 719.85H741.33V721.74H739.29zM755.62 719.85H757.67V721.74H755.62zM737.25 723.63H739.29V725.52H737.25zM747.46 723.63H749.5V725.52H747.46zM753.58 725.52H757.67V727.42H753.58zM774 725.52H776.04V727.42H774zM784.21 725.52H786.25V727.42H784.21zM794.42 725.52H796.46V727.42H794.42zM784.21 727.42H786.25V729.31H784.21zM659.67 729.31H661.71V731.2H659.67zM718.88 731.2H720.92V733.09H718.88zM788.29 731.2H790.33V733.09H788.29zM757.67 733.09H759.71V734.98H757.67zM661.71 734.98H663.75V736.88H661.71zM659.67 736.88H663.75V738.77H659.67zM739.29 736.88H741.33V738.77H739.29zM718.88 740.66H720.92V742.55H718.88zM741.33 740.66H743.38V742.55H741.33zM731.12 742.55H733.17V744.44H731.12zM688.25 744.44H690.29V746.33H688.25zM704.58 744.44H706.62V746.33H704.58zM743.38 746.33H745.42V748.23H743.38zM780.12 746.33H782.17V748.23H780.12zM665.79 748.23H667.83V750.12H665.79zM735.21 750.12H737.25V752.01H735.21zM716.83 752.01H718.88V753.9H716.83zM745.42 752.01H747.46V753.9H745.42zM774 752.01H776.04V753.9H774zM718.88 753.9H720.92V755.79H718.88zM661.71 755.79H663.75V757.68H661.71zM669.88 755.79H671.92V757.68H669.88zM735.21 755.79H737.25V757.68H735.21zM706.62 757.68H708.67V759.58H706.62zM663.75 759.58H665.79V761.47H663.75zM684.17 759.58H688.25V761.47H684.17zM776.04 761.47H778.08V763.36H776.04zM692.33 763.36H694.38V765.25H692.33zM747.46 763.36H749.5V765.25H747.46zM702.54 765.25H704.58V767.14H702.54zM690.29 767.14H692.33V769.03H690.29zM694.38 767.14H696.42V769.03H694.38zM796.46 769.03H798.5V770.92H796.46zM704.58 770.92H706.62V772.82H704.58zM704.58 774.71H706.62V776.6H704.58zM737.25 774.71H739.29V776.6H737.25zM743.38 774.71H745.42V776.6H743.38z"/>
<path fill="#0000db" d="M653.54 640.4H657.62V642.29H653.54zM673.96 640.4H676V642.29H673.96zM684.17 640.4H688.25V642.29H684.17zM727.04 640.4H733.17V642.29H727.04zM737.25 640.4H745.42V642.29H737.25zM755.62 640.4H759.71V642.29H755.62zM763.79 640.4H765.83V642.29H763.79zM780.12 640.4H782.17V642.29H780.12zM786.25 640.4H788.29V642.29H786.25zM653.54 642.29H665.79V644.18H653.54zM667.83 642.29H669.88V644.18H667.83zM676 642.29H680.08V644.18H676zM692.33 642.29H694.38V644.18H692.33zM698.46 642.29H702.54V644.18H698.46zM710.71 642.29H712.75V644.18H710.71zM714.79 642.29H716.83V644.18H714.79zM720.92 642.29H725V644.18H720.92zM733.17 642.29H735.21V644.18H733.17zM741.33 642.29H743.38V644.18H741.33zM747.46 642.29H749.5V644.18H747.46zM755.62 642.29H757.67V644.18H755.62zM769.92 642.29H774V644.18H769.92zM784.21 642.29H788.29V644.18H784.21zM651.5 644.18H655.58V646.07H651.5zM657.62 644.18H659.67V646.07H657.62zM667.83 644.18H671.92V646.07H667.83zM678.04 644.18H680.08V646.07H678.04zM690.29 644.18H692.33V646.07H690.29zM710.71 644.18H712.75V646.07H710.71zM716.83 644.18H720.92V646.07H716.83zM741.33 644.18H743.38V646.07H741.33zM745.42 644.18H747.46V646.07H745.42zM759.71 644.18H761.75V646.07H759.71zM763.79 644.18H769.92V646.07H763.79zM771.96 644.18H776.04V646.07H771.96zM780.12 644.18H782.17V646.07H780.12zM784.21 644.18H786.25V646.07H784.21zM651.5 646.07H653.54V647.97H651.5zM655.58 646.07H657.62V647.97H655.58zM661.71 646.07H669.88V647.97H661.71zM671.92 646.07H673.96V647.97H671.92zM680.08 646.07H682.12V647.97H680.08zM686.21 646.07H688.25V647.97H686.21zM698.46 646.07H700.5V647.97H698.46zM702.54 646.07H704.58V647.97H702.54zM710.71 646.07H716.83V647.97H710.71zM718.88 646.07H720.92V647.97H718.88zM722.96 646.07H725V647.97H722.96zM729.08 646.07H731.12V647.97H729.08zM733.17 646.07H735.21V647.97H733.17zM747.46 646.07H749.5V647.97H747.46zM753.58 646.07H757.67V647.97H753.58zM759.71 646.07H761.75V647.97H759.71zM763.79 646.07H774V647.97H763.79zM778.08 646.07H780.12V647.97H778.08zM786.25 646.07H788.29V647.97H786.25zM790.33 646.07H796.46V647.97H790.33zM663.75 647.97H665.79V649.86H663.75zM667.83 647.97H669.88V649.86H667.83zM678.04 647.97H680.08V649.86H678.04zM706.62 647.97H708.67V649.86H706.62zM718.88 647.97H720.92V649.86H718.88zM731.12 647.97H733.17V649.86H731.12zM735.21 647.97H737.25V649.86H735.21zM743.38 647.97H745.42V649.86H743.38zM747.46 647.97H749.5V649.86H747.46zM755.62 647.97H757.67V649.86H755.62zM776.04 647.97H778.08V649.86H776.04zM782.17 647.97H784.21V649.86H782.17zM794.42 647.97H798.5V649.86H794.42zM665.79 649.86H667.83V651.75H665.79zM669.88 649.86H671.92V651.75H669.88zM678.04 649.86H682.12V651.75H678.04zM684.17 649.86H692.33V651.75H684.17zM694.38 649.86H696.42V651.75H694.38zM704.58 649.86H706.62V651.75H704.58zM710.71 649.86H712.75V651.75H710.71zM720.92 649.86H722.96V651.75H720.92zM731.12 649.86H735.21V651.75H731.12zM737.25 649.86H741.33V651.75H737.25zM743.38 649.86H749.5V651.75H743.38zM755.62 649.86H757.67V651.75H755.62zM759.71 649.86H761.75V651.75H759.71zM765.83 649.86H767.88V651.75H765.83zM771.96 649.86H774V651.75H771.96zM776.04 649.86H780.12V651.75H776.04zM784.21 649.86H790.33V651.75H784.21zM794.42 649.86H796.46V651.75H794.42zM653.54 651.75H655.58V653.64H653.54zM657.62 651.75H659.67V653.64H657.62zM680.08 651.75H684.17V653.64H680.08zM686.21 651.75H688.25V653.64H686.21zM690.29 651.75H692.33V653.64H690.29zM698.46 651.75H700.5V653.64H698.46zM735.21 651.75H737.25V653.64H735.21zM739.29 651.75H741.33V653.64H739.29zM745.42 651.75H749.5V653.64H745.42zM759.71 651.75H761.75V653.64H759.71zM763.79 651.75H765.83V653.64H763.79zM771.96 651.75H774V653.64H771.96zM788.29 651.75H790.33V653.64H788.29zM792.38 651.75H794.42V653.64H792.38zM796.46 651.75H798.5V653.64H796.46zM655.58 653.64H657.62V655.53H655.58zM659.67 653.64H661.71V655.53H659.67zM663.75 653.64H665.79V655.53H663.75zM667.83 653.64H669.88V655.53H667.83zM671.92 653.64H676V655.53H671.92zM680.08 653.64H682.12V655.53H680.08zM692.33 653.64H694.38V655.53H692.33zM708.67 653.64H710.71V655.53H708.67zM712.75 653.64H720.92V655.53H712.75zM741.33 653.64H745.42V655.53H741.33zM747.46 653.64H749.5V655.53H747.46zM753.58 653.64H757.67V655.53H753.58zM761.75 653.64H763.79V655.53H761.75zM771.96 653.64H776.04V655.53H771.96zM778.08 653.64H780.12V655.53H778.08zM782.17 653.64H786.25V655.53H782.17zM792.38 653.64H798.5V655.53H792.38zM657.62 655.53H659.67V657.42H657.62zM661.71 655.53H663.75V657.42H661.71zM665.79 655.53H667.83V657.42H665.79zM669.88 655.53H671.92V657.42H669.88zM678.04 655.53H682.12V657.42H678.04zM690.29 655.53H692.33V657.42H690.29zM694.38 655.53H696.42V657.42H694.38zM700.5 655.53H702.54V657.42H700.5zM757.67 655.53H761.75V657.42H757.67zM784.21 655.53H786.25V657.42H784.21zM788.29 655.53H790.33V657.42H788.29zM796.46 655.53H798.5V657.42H796.46zM651.5 657.42H659.67V659.32H651.5zM669.88 657.42H678.04V659.32H669.88zM692.33 657.42H694.38V659.32H692.33zM696.42 657.42H702.54V659.32H696.42zM714.79 657.42H716.83V659.32H714.79zM718.88 657.42H720.92V659.32H718.88zM722.96 657.42H731.12V659.32H722.96zM733.17 657.42H737.25V659.32H733.17zM745.42 657.42H749.5V659.32H745.42zM751.54 657.42H755.62V659.32H751.54zM761.75 657.42H763.79V659.32H761.75zM767.88 657.42H769.92V659.32H767.88zM771.96 657.42H774V659.32H771.96zM782.17 657.42H788.29V659.32H782.17zM792.38 657.42H794.42V659.32H792.38zM796.46 657.42H798.5V659.32H796.46zM657.62 659.32H659.67V661.21H657.62zM669.88 659.32H671.92V661.21H669.88zM684.17 659.32H686.21V661.21H684.17zM714.79 659.32H716.83V661.21H714.79zM722.96 659.32H725V661.21H722.96zM735.21 659.32H737.25V661.21H735.21zM743.38 659.32H745.42V661.21H743.38zM751.54 659.32H753.58V661.21H751.54zM761.75 659.32H765.83V661.21H761.75zM767.88 659.32H769.92V661.21H767.88zM776.04 659.32H778.08V661.21H776.04zM784.21 659.32H786.25V661.21H784.21zM796.46 659.32H798.5V661.21H796.46zM669.88 661.21H671.92V663.1H669.88zM673.96 661.21H678.04V663.1H673.96zM680.08 661.21H684.17V663.1H680.08zM692.33 661.21H694.38V663.1H692.33zM700.5 661.21H704.58V663.1H700.5zM706.62 661.21H708.67V663.1H706.62zM718.88 661.21H722.96V663.1H718.88zM725 661.21H727.04V663.1H725zM731.12 661.21H733.17V663.1H731.12zM735.21 661.21H737.25V663.1H735.21zM739.29 661.21H741.33V663.1H739.29zM745.42 661.21H755.62V663.1H745.42zM759.71 661.21H763.79V663.1H759.71zM765.83 661.21H767.88V663.1H765.83zM778.08 661.21H780.12V663.1H778.08zM782.17 661.21H784.21V663.1H782.17zM659.67 663.1H661.71V664.99H659.67zM665.79 663.1H667.83V664.99H665.79zM669.88 663.1H676V664.99H669.88zM682.12 663.1H684.17V664.99H682.12zM698.46 663.1H700.5V664.99H698.46zM702.54 663.1H704.58V664.99H702.54zM710.71 663.1H712.75V664.99H710.71zM716.83 663.1H720.92V664.99H716.83zM731.12 663.1H733.17V664.99H731.12zM735.21 663.1H737.25V664.99H735.21zM755.62 663.1H757.67V664.99H755.62zM759.71 663.1H761.75V664.99H759.71zM769.92 663.1H771.96V664.99H769.92zM651.5 664.99H653.54V666.88H651.5zM665.79 664.99H667.83V666.88H665.79zM680.08 664.99H682.12V666.88H680.08zM684.17 664.99H686.21V666.88H684.17zM702.54 664.99H708.67V666.88H702.54zM710.71 664.99H712.75V666.88H710.71zM714.79 664.99H720.92V666.88H714.79zM725 664.99H739.29V666.88H725zM747.46 664.99H753.58V666.88H747.46zM759.71 664.99H761.75V666.88H759.71zM763.79 664.99H767.88V666.88H763.79zM769.92 664.99H771.96V666.88H769.92zM776.04 664.99H778.08V666.88H776.04zM782.17 664.99H786.25V666.88H782.17zM790.33 664.99H792.38V666.88H790.33zM678.04 666.88H680.08V668.77H678.04zM682.12 666.88H684.17V668.77H682.12zM710.71 666.88H716.83V668.77H710.71zM727.04 666.88H729.08V668.77H727.04zM743.38 666.88H745.42V668.77H743.38zM749.5 666.88H751.54V668.77H749.5zM759.71 666.88H761.75V668.77H759.71zM769.92 666.88H771.96V668.77H769.92zM776.04 666.88H778.08V668.77H776.04zM788.29 666.88H790.33V668.77H788.29zM792.38 666.88H794.42V668.77H792.38zM651.5 668.77H655.58V670.67H651.5zM657.62 668.77H659.67V670.67H657.62zM661.71 668.77H665.79V670.67H661.71zM669.88 668.77H671.92V670.67H669.88zM684.17 668.77H686.21V670.67H684.17zM696.42 668.77H698.46V670.67H696.42zM708.67 668.77H712.75V670.67H708.67zM714.79 668.77H716.83V670.67H714.79zM727.04 668.77H731.12V670.67H727.04zM737.25 668.77H743.38V670.67H737.25zM749.5 668.77H759.71V670.67H749.5zM771.96 668.77H774V670.67H771.96zM776.04 668.77H778.08V670.67H776.04zM786.25 668.77H792.38V670.67H786.25zM794.42 668.77H798.5V670.67H794.42zM684.17 670.67H686.21V672.56H684.17zM688.25 670.67H690.29V672.56H688.25zM702.54 670.67H704.58V672.56H702.54zM722.96 670.67H725V672.56H722.96zM743.38 670.67H745.42V672.56H743.38zM747.46 670.67H749.5V672.56H747.46zM751.54 670.67H753.58V672.56H751.54zM755.62 670.67H757.67V672.56H755.62zM780.12 670.67H782.17V672.56H780.12zM788.29 670.67H790.33V672.56H788.29zM796.46 670.67H798.5V672.56H796.46zM655.58 672.56H657.62V674.45H655.58zM676 672.56H680.08V674.45H676zM684.17 672.56H688.25V674.45H684.17zM690.29 672.56H696.42V674.45H690.29zM702.54 672.56H704.58V674.45H702.54zM716.83 672.56H718.88V674.45H716.83zM731.12 672.56H735.21V674.45H731.12zM739.29 672.56H745.42V674.45H739.29zM767.88 672.56H769.92V674.45H767.88zM782.17 672.56H788.29V674.45H782.17zM792.38 672.56H796.46V674.45H792.38zM653.54 674.45H655.58V676.34H653.54zM657.62 674.45H659.67V676.34H657.62zM690.29 674.45H692.33V676.34H690.29zM698.46 674.45H700.5V676.34H698.46zM710.71 674.45H712.75V676.34H710.71zM722.96 674.45H725V676.34H722.96zM741.33 674.45H743.38V676.34H741.33zM759.71 674.45H761.75V676.34H759.71zM776.04 674.45H778.08V676.34H776.04zM780.12 674.45H782.17V676.34H780.12zM788.29 674.45H792.38V676.34H788.29zM653.54 676.34H659.67V678.23H653.54zM667.83 676.34H669.88V678.23H667.83zM690.29 676.34H692.33V678.23H690.29zM694.38 676.34H702.54V678.23H694.38zM704.58 676.34H706.62V678.23H704.58zM712.75 676.34H714.79V678.23H712.75zM733.17 676.34H737.25V678.23H733.17zM747.46 676.34H751.54V678.23H747.46zM759.71 676.34H761.75V678.23H759.71zM763.79 676.34H765.83V678.23H763.79zM771.96 676.34H774V678.23H771.96zM776.04 676.34H778.08V678.23H776.04zM780.12 676.34H786.25V678.23H780.12zM788.29 676.34H790.33V678.23H788.29zM792.38 676.34H794.42V678.23H792.38zM657.62 678.23H659.67V680.12H657.62zM661.71 678.23H663.75V680.12H661.71zM665.79 678.23H667.83V680.12H665.79zM686.21 678.23H688.25V680.12H686.21zM690.29 678.23H692.33V680.12H690.29zM698.46 678.23H700.5V680.12H698.46zM702.54 678.23H704.58V680.12H702.54zM710.71 678.23H712.75V680.12H710.71zM718.88 678.23H720.92V680.12H718.88zM725 678.23H727.04V680.12H725zM751.54 678.23H757.67V680.12H751.54zM767.88 678.23H769.92V680.12H767.88zM784.21 678.23H786.25V680.12H784.21zM790.33 678.23H792.38V680.12H790.33zM653.54 680.12H657.62V682.02H653.54zM676 680.12H678.04V682.02H676zM684.17 680.12H688.25V682.02H684.17zM692.33 680.12H694.38V682.02H692.33zM696.42 680.12H698.46V682.02H696.42zM704.58 680.12H706.62V682.02H704.58zM714.79 680.12H716.83V682.02H714.79zM722.96 680.12H725V682.02H722.96zM739.29 680.12H741.33V682.02H739.29zM743.38 680.12H745.42V682.02H743.38zM747.46 680.12H749.5V682.02H747.46zM751.54 680.12H757.67V682.02H751.54zM761.75 680.12H765.83V682.02H761.75zM767.88 680.12H769.92V682.02H767.88zM771.96 680.12H774V682.02H771.96zM782.17 680.12H784.21V682.02H782.17zM786.25 680.12H788.29V682.02H786.25zM794.42 680.12H796.46V682.02H794.42zM653.54 682.02H657.62V683.91H653.54zM661.71 682.02H663.75V683.91H661.71zM665.79 682.02H667.83V683.91H665.79zM678.04 682.02H680.08V683.91H678.04zM682.12 682.02H684.17V683.91H682.12zM698.46 682.02H702.54V683.91H698.46zM714.79 682.02H716.83V683.91H714.79zM729.08 682.02H733.17V683.91H729.08zM747.46 682.02H749.5V683.91H747.46zM755.62 682.02H757.67V683.91H755.62zM767.88 682.02H769.92V683.91H767.88zM774 682.02H778.08V683.91H774zM790.33 682.02H792.38V683.91H790.33zM796.46 682.02H798.5V683.91H796.46zM653.54 683.91H655.58V685.8H653.54zM667.83 683.91H676V685.8H667.83zM678.04 683.91H680.08V685.8H678.04zM682.12 683.91H684.17V685.8H682.12zM686.21 683.91H688.25V685.8H686.21zM694.38 683.91H698.46V685.8H694.38zM704.58 683.91H706.62V685.8H704.58zM720.92 683.91H722.96V685.8H720.92zM747.46 683.91H749.5V685.8H747.46zM757.67 683.91H759.71V685.8H757.67zM769.92 683.91H771.96V685.8H769.92zM774 683.91H776.04V685.8H774zM784.21 683.91H786.25V685.8H784.21zM788.29 683.91H790.33V685.8H788.29zM657.62 685.8H659.67V687.69H657.62zM661.71 685.8H663.75V687.69H661.71zM669.88 685.8H671.92V687.69H669.88zM680.08 685.8H684.17V687.69H680.08zM696.42 685.8H700.5V687.69H696.42zM704.58 685.8H706.62V687.69H704.58zM735.21 685.8H737.25V687.69H735.21zM743.38 685.8H745.42V687.69H743.38zM784.21 685.8H786.25V687.69H784.21zM788.29 685.8H790.33V687.69H788.29zM796.46 685.8H798.5V687.69H796.46zM651.5 687.69H655.58V689.58H651.5zM678.04 687.69H680.08V689.58H678.04zM684.17 687.69H686.21V689.58H684.17zM688.25 687.69H690.29V689.58H688.25zM696.42 687.69H698.46V689.58H696.42zM704.58 687.69H708.67V689.58H704.58zM710.71 687.69H714.79V689.58H710.71zM753.58 687.69H755.62V689.58H753.58zM757.67 687.69H763.79V689.58H757.67zM774 687.69H776.04V689.58H774zM780.12 687.69H782.17V689.58H780.12zM784.21 687.69H788.29V689.58H784.21zM673.96 689.58H676V691.48H673.96zM684.17 689.58H690.29V691.48H684.17zM694.38 689.58H696.42V691.48H694.38zM706.62 689.58H708.67V691.48H706.62zM710.71 689.58H712.75V691.48H710.71zM714.79 689.58H716.83V691.48H714.79zM735.21 689.58H737.25V691.48H735.21zM751.54 689.58H753.58V691.48H751.54zM755.62 689.58H759.71V691.48H755.62zM763.79 689.58H765.83V691.48H763.79zM774 689.58H776.04V691.48H774zM796.46 689.58H798.5V691.48H796.46zM653.54 691.48H655.58V693.37H653.54zM657.62 691.48H659.67V693.37H657.62zM667.83 691.48H671.92V693.37H667.83zM682.12 691.48H684.17V693.37H682.12zM690.29 691.48H692.33V693.37H690.29zM696.42 691.48H710.71V693.37H696.42zM716.83 691.48H720.92V693.37H716.83zM725 691.48H727.04V693.37H725zM733.17 691.48H735.21V693.37H733.17zM739.29 691.48H741.33V693.37H739.29zM745.42 691.48H749.5V693.37H745.42zM753.58 691.48H757.67V693.37H753.58zM767.88 691.48H771.96V693.37H767.88zM774 691.48H776.04V693.37H774zM778.08 691.48H780.12V693.37H778.08zM653.54 693.37H655.58V695.26H653.54zM665.79 693.37H667.83V695.26H665.79zM673.96 693.37H676V695.26H673.96zM678.04 693.37H680.08V695.26H678.04zM682.12 693.37H684.17V695.26H682.12zM692.33 693.37H694.38V695.26H692.33zM700.5 693.37H704.58V695.26H700.5zM706.62 693.37H712.75V695.26H706.62zM714.79 693.37H716.83V695.26H714.79zM722.96 693.37H725V695.26H722.96zM733.17 693.37H735.21V695.26H733.17zM747.46 693.37H749.5V695.26H747.46zM755.62 693.37H757.67V695.26H755.62zM763.79 693.37H769.92V695.26H763.79zM771.96 693.37H774V695.26H771.96zM788.29 693.37H790.33V695.26H788.29zM792.38 693.37H794.42V695.26H792.38zM661.71 695.26H663.75V697.15H661.71zM673.96 695.26H676V697.15H673.96zM682.12 695.26H684.17V697.15H682.12zM686.21 695.26H690.29V697.15H686.21zM700.5 695.26H702.54V697.15H700.5zM708.67 695.26H712.75V697.15H708.67zM716.83 695.26H720.92V697.15H716.83zM725 695.26H731.12V697.15H725zM739.29 695.26H741.33V697.15H739.29zM743.38 695.26H747.46V697.15H743.38zM751.54 695.26H753.58V697.15H751.54zM757.67 695.26H759.71V697.15H757.67zM769.92 695.26H776.04V697.15H769.92zM780.12 695.26H782.17V697.15H780.12zM786.25 695.26H790.33V697.15H786.25zM669.88 697.15H671.92V699.04H669.88zM702.54 697.15H704.58V699.04H702.54zM706.62 697.15H708.67V699.04H706.62zM710.71 697.15H712.75V699.04H710.71zM716.83 697.15H720.92V699.04H716.83zM731.12 697.15H733.17V699.04H731.12zM743.38 697.15H745.42V699.04H743.38zM755.62 697.15H759.71V699.04H755.62zM761.75 697.15H765.83V699.04H761.75zM780.12 697.15H782.17V699.04H780.12zM792.38 697.15H794.42V699.04H792.38zM796.46 697.15H798.5V699.04H796.46zM651.5 699.04H655.58V700.93H651.5zM657.62 699.04H659.67V700.93H657.62zM667.83 699.04H669.88V700.93H667.83zM676 699.04H680.08V700.93H676zM682.12 699.04H684.17V700.93H682.12zM686.21 699.04H688.25V700.93H686.21zM698.46 699.04H700.5V700.93H698.46zM706.62 699.04H710.71V700.93H706.62zM720.92 699.04H722.96V700.93H720.92zM727.04 699.04H729.08V700.93H727.04zM739.29 699.04H745.42V700.93H739.29zM747.46 699.04H751.54V700.93H747.46zM755.62 699.04H759.71V700.93H755.62zM782.17 699.04H788.29V700.93H782.17zM792.38 699.04H794.42V700.93H792.38zM796.46 699.04H798.5V700.93H796.46zM653.54 700.93H655.58V702.83H653.54zM657.62 700.93H659.67V702.83H657.62zM710.71 700.93H712.75V702.83H710.71zM722.96 700.93H725V702.83H722.96zM741.33 700.93H743.38V702.83H741.33zM747.46 700.93H749.5V702.83H747.46zM771.96 700.93H776.04V702.83H771.96zM784.21 700.93H788.29V702.83H784.21zM796.46 700.93H798.5V702.83H796.46zM651.5 702.83H653.54V704.72H651.5zM667.83 702.83H673.96V704.72H667.83zM680.08 702.83H684.17V704.72H680.08zM688.25 702.83H690.29V704.72H688.25zM700.5 702.83H702.54V704.72H700.5zM712.75 702.83H714.79V704.72H712.75zM716.83 702.83H718.88V704.72H716.83zM720.92 702.83H722.96V704.72H720.92zM733.17 702.83H743.38V704.72H733.17zM751.54 702.83H757.67V704.72H751.54zM759.71 702.83H761.75V704.72H759.71zM765.83 702.83H767.88V704.72H765.83zM774 702.83H776.04V704.72H774zM784.21 702.83H786.25V704.72H784.21zM653.54 704.72H655.58V706.61H653.54zM665.79 704.72H667.83V706.61H665.79zM673.96 704.72H676V706.61H673.96zM680.08 704.72H682.12V706.61H680.08zM686.21 704.72H688.25V706.61H686.21zM690.29 704.72H692.33V706.61H690.29zM698.46 704.72H700.5V706.61H698.46zM702.54 704.72H704.58V706.61H702.54zM714.79 704.72H716.83V706.61H714.79zM731.12 704.72H733.17V706.61H731.12zM739.29 704.72H741.33V706.61H739.29zM745.42 704.72H747.46V706.61H745.42zM749.5 704.72H751.54V706.61H749.5zM771.96 704.72H774V706.61H771.96zM776.04 704.72H778.08V706.61H776.04zM780.12 704.72H782.17V706.61H780.12zM784.21 704.72H786.25V706.61H784.21zM655.58 706.61H657.62V708.5H655.58zM667.83 706.61H680.08V708.5H667.83zM686.21 706.61H690.29V708.5H686.21zM696.42 706.61H702.54V708.5H696.42zM704.58 706.61H708.67V708.5H704.58zM712.75 706.61H714.79V708.5H712.75zM716.83 706.61H722.96V708.5H716.83zM727.04 706.61H729.08V708.5H727.04zM741.33 706.61H745.42V708.5H741.33zM747.46 706.61H749.5V708.5H747.46zM755.62 706.61H757.67V708.5H755.62zM763.79 706.61H765.83V708.5H763.79zM774 706.61H778.08V708.5H774zM780.12 706.61H786.25V708.5H780.12zM788.29 706.61H790.33V708.5H788.29zM792.38 706.61H796.46V708.5H792.38zM665.79 708.5H667.83V710.39H665.79zM676 708.5H678.04V710.39H676zM698.46 708.5H700.5V710.39H698.46zM722.96 708.5H725V710.39H722.96zM727.04 708.5H729.08V710.39H727.04zM735.21 708.5H737.25V710.39H735.21zM743.38 708.5H745.42V710.39H743.38zM755.62 708.5H757.67V710.39H755.62zM769.92 708.5H771.96V710.39H769.92zM776.04 708.5H778.08V710.39H776.04zM780.12 708.5H782.17V710.39H780.12zM784.21 708.5H786.25V710.39H784.21zM794.42 708.5H796.46V710.39H794.42zM663.75 710.39H669.88V712.28H663.75zM676 710.39H680.08V712.28H676zM682.12 710.39H684.17V712.28H682.12zM686.21 710.39H688.25V712.28H686.21zM690.29 710.39H694.38V712.28H690.29zM696.42 710.39H698.46V712.28H696.42zM700.5 710.39H710.71V712.28H700.5zM712.75 710.39H714.79V712.28H712.75zM727.04 710.39H733.17V712.28H727.04zM739.29 710.39H745.42V712.28H739.29zM751.54 710.39H755.62V712.28H751.54zM763.79 710.39H765.83V712.28H763.79zM767.88 710.39H771.96V712.28H767.88zM774 710.39H776.04V712.28H774zM780.12 710.39H784.21V712.28H780.12zM786.25 710.39H794.42V712.28H786.25zM653.54 712.28H659.67V714.17H653.54zM669.88 712.28H676V714.17H669.88zM684.17 712.28H686.21V714.17H684.17zM690.29 712.28H692.33V714.17H690.29zM698.46 712.28H700.5V714.17H698.46zM710.71 712.28H712.75V714.17H710.71zM731.12 712.28H733.17V714.17H731.12zM743.38 712.28H747.46V714.17H743.38zM749.5 712.28H751.54V714.17H749.5zM753.58 712.28H755.62V714.17H753.58zM769.92 712.28H771.96V714.17H769.92zM774 712.28H778.08V714.17H774zM786.25 712.28H788.29V714.17H786.25zM796.46 712.28H798.5V714.17H796.46zM651.5 714.17H653.54V716.07H651.5zM655.58 714.17H659.67V716.07H655.58zM669.88 714.17H671.92V716.07H669.88zM678.04 714.17H680.08V716.07H678.04zM684.17 714.17H686.21V716.07H684.17zM698.46 714.17H706.62V716.07H698.46zM708.67 714.17H710.71V716.07H708.67zM712.75 714.17H714.79V716.07H712.75zM727.04 714.17H729.08V716.07H727.04zM737.25 714.17H741.33V716.07H737.25zM745.42 714.17H747.46V716.07H745.42zM749.5 714.17H751.54V716.07H749.5zM755.62 714.17H759.71V716.07H755.62zM761.75 714.17H763.79V716.07H761.75zM765.83 714.17H767.88V716.07H765.83zM769.92 714.17H771.96V716.07H769.92zM774 714.17H776.04V716.07H774zM778.08 714.17H782.17V716.07H778.08zM784.21 714.17H792.38V716.07H784.21zM794.42 714.17H798.5V716.07H794.42zM655.58 716.07H657.62V717.96H655.58zM665.79 716.07H667.83V717.96H665.79zM669.88 716.07H671.92V717.96H669.88zM686.21 716.07H688.25V717.96H686.21zM690.29 716.07H692.33V717.96H690.29zM702.54 716.07H704.58V717.96H702.54zM729.08 716.07H731.12V717.96H729.08zM735.21 716.07H741.33V717.96H735.21zM743.38 716.07H745.42V717.96H743.38zM747.46 716.07H749.5V717.96H747.46zM763.79 716.07H765.83V717.96H763.79zM780.12 716.07H782.17V717.96H780.12zM784.21 716.07H786.25V717.96H784.21zM792.38 716.07H794.42V717.96H792.38zM655.58 717.96H657.62V719.85H655.58zM661.71 717.96H663.75V719.85H661.71zM665.79 717.96H667.83V719.85H665.79zM671.92 717.96H673.96V719.85H671.92zM682.12 717.96H684.17V719.85H682.12zM688.25 717.96H690.29V719.85H688.25zM692.33 717.96H694.38V719.85H692.33zM702.54 717.96H704.58V719.85H702.54zM708.67 717.96H710.71V719.85H708.67zM714.79 717.96H716.83V719.85H714.79zM725 717.96H729.08V719.85H725zM731.12 717.96H733.17V719.85H731.12zM749.5 717.96H753.58V719.85H749.5zM757.67 717.96H763.79V719.85H757.67zM778.08 717.96H780.12V719.85H778.08zM788.29 717.96H790.33V719.85H788.29zM794.42 717.96H796.46V719.85H794.42zM665.79 719.85H667.83V721.74H665.79zM673.96 719.85H676V721.74H673.96zM682.12 719.85H684.17V721.74H682.12zM692.33 719.85H694.38V721.74H692.33zM698.46 719.85H700.5V721.74H698.46zM706.62 719.85H708.67V721.74H706.62zM718.88 719.85H720.92V721.74H718.88zM731.12 719.85H733.17V721.74H731.12zM735.21 719.85H737.25V721.74H735.21zM743.38 719.85H745.42V721.74H743.38zM763.79 719.85H765.83V721.74H763.79zM769.92 719.85H771.96V721.74H769.92zM776.04 719.85H778.08V721.74H776.04zM784.21 719.85H786.25V721.74H784.21zM796.46 719.85H798.5V721.74H796.46zM651.5 721.74H661.71V723.63H651.5zM663.75 721.74H673.96V723.63H663.75zM680.08 721.74H682.12V723.63H680.08zM692.33 721.74H694.38V723.63H692.33zM698.46 721.74H700.5V723.63H698.46zM708.67 721.74H710.71V723.63H708.67zM718.88 721.74H720.92V723.63H718.88zM727.04 721.74H731.12V723.63H727.04zM735.21 721.74H737.25V723.63H735.21zM739.29 721.74H741.33V723.63H739.29zM745.42 721.74H753.58V723.63H745.42zM755.62 721.74H757.67V723.63H755.62zM759.71 721.74H761.75V723.63H759.71zM763.79 721.74H774V723.63H763.79zM776.04 721.74H778.08V723.63H776.04zM784.21 721.74H786.25V723.63H784.21zM657.62 723.63H659.67V725.52H657.62zM665.79 723.63H667.83V725.52H665.79zM673.96 723.63H680.08V725.52H673.96zM690.29 723.63H692.33V725.52H690.29zM694.38 723.63H696.42V725.52H694.38zM720.92 723.63H722.96V725.52H720.92zM731.12 723.63H733.17V725.52H731.12zM739.29 723.63H741.33V725.52H739.29zM755.62 723.63H757.67V725.52H755.62zM759.71 723.63H761.75V725.52H759.71zM765.83 723.63H767.88V725.52H765.83zM776.04 723.63H778.08V725.52H776.04zM784.21 723.63H790.33V725.52H784.21zM796.46 723.63H798.5V725.52H796.46zM651.5 725.52H655.58V727.42H651.5zM667.83 725.52H669.88V727.42H667.83zM678.04 725.52H680.08V727.42H678.04zM684.17 725.52H686.21V727.42H684.17zM690.29 725.52H692.33V727.42H690.29zM696.42 725.52H698.46V727.42H696.42zM722.96 725.52H725V727.42H722.96zM737.25 725.52H741.33V727.42H737.25zM747.46 725.52H753.58V727.42H747.46zM757.67 725.52H759.71V727.42H757.67zM765.83 725.52H767.88V727.42H765.83zM776.04 725.52H778.08V727.42H776.04zM792.38 725.52H794.42V727.42H792.38zM651.5 727.42H655.58V729.31H651.5zM665.79 727.42H671.92V729.31H665.79zM673.96 727.42H676V729.31H673.96zM678.04 727.42H680.08V729.31H678.04zM688.25 727.42H690.29V729.31H688.25zM706.62 727.42H708.67V729.31H706.62zM710.71 727.42H712.75V729.31H710.71zM718.88 727.42H722.96V729.31H718.88zM731.12 727.42H733.17V729.31H731.12zM743.38 727.42H751.54V729.31H743.38zM759.71 727.42H761.75V729.31H759.71zM763.79 727.42H765.83V729.31H763.79zM767.88 727.42H769.92V729.31H767.88zM776.04 727.42H778.08V729.31H776.04zM780.12 727.42H782.17V729.31H780.12zM792.38 727.42H794.42V729.31H792.38zM796.46 727.42H798.5V729.31H796.46zM651.5 729.31H653.54V731.2H651.5zM661.71 729.31H667.83V731.2H661.71zM673.96 729.31H676V731.2H673.96zM680.08 729.31H684.17V731.2H680.08zM688.25 729.31H692.33V731.2H688.25zM694.38 729.31H698.46V731.2H694.38zM700.5 729.31H702.54V731.2H700.5zM716.83 729.31H720.92V731.2H716.83zM727.04 729.31H729.08V731.2H727.04zM733.17 729.31H735.21V731.2H733.17zM739.29 729.31H741.33V731.2H739.29zM747.46 729.31H751.54V731.2H747.46zM753.58 729.31H757.67V731.2H753.58zM759.71 729.31H761.75V731.2H759.71zM767.88 729.31H769.92V731.2H767.88zM774 729.31H778.08V731.2H774zM788.29 729.31H790.33V731.2H788.29zM792.38 729.31H798.5V731.2H792.38zM653.54 731.2H655.58V733.09H653.54zM657.62 731.2H659.67V733.09H657.62zM661.71 731.2H663.75V733.09H661.71zM665.79 731.2H669.88V733.09H665.79zM673.96 731.2H678.04V733.09H673.96zM680.08 731.2H682.12V733.09H680.08zM686.21 731.2H688.25V733.09H686.21zM692.33 731.2H694.38V733.09H692.33zM706.62 731.2H708.67V733.09H706.62zM714.79 731.2H716.83V733.09H714.79zM733.17 731.2H737.25V733.09H733.17zM743.38 731.2H751.54V733.09H743.38zM755.62 731.2H757.67V733.09H755.62zM759.71 731.2H761.75V733.09H759.71zM765.83 731.2H769.92V733.09H765.83zM776.04 731.2H778.08V733.09H776.04zM780.12 731.2H782.17V733.09H780.12zM784.21 731.2H788.29V733.09H784.21zM651.5 733.09H653.54V734.98H651.5zM659.67 733.09H661.71V734.98H659.67zM663.75 733.09H665.79V734.98H663.75zM680.08 733.09H682.12V734.98H680.08zM686.21 733.09H692.33V734.98H686.21zM700.5 733.09H702.54V734.98H700.5zM710.71 733.09H714.79V734.98H710.71zM718.88 733.09H720.92V734.98H718.88zM727.04 733.09H739.29V734.98H727.04zM755.62 733.09H757.67V734.98H755.62zM759.71 733.09H763.79V734.98H759.71zM767.88 733.09H769.92V734.98H767.88zM774 733.09H776.04V734.98H774zM792.38 733.09H794.42V734.98H792.38zM659.67 734.98H661.71V736.88H659.67zM665.79 734.98H667.83V736.88H665.79zM669.88 734.98H671.92V736.88H669.88zM678.04 734.98H680.08V736.88H678.04zM684.17 734.98H688.25V736.88H684.17zM706.62 734.98H708.67V736.88H706.62zM727.04 734.98H729.08V736.88H727.04zM731.12 734.98H733.17V736.88H731.12zM747.46 734.98H749.5V736.88H747.46zM755.62 734.98H757.67V736.88H755.62zM784.21 734.98H786.25V736.88H784.21zM792.38 734.98H794.42V736.88H792.38zM796.46 734.98H798.5V736.88H796.46zM651.5 736.88H653.54V738.77H651.5zM663.75 736.88H665.79V738.77H663.75zM669.88 736.88H673.96V738.77H669.88zM702.54 736.88H704.58V738.77H702.54zM714.79 736.88H718.88V738.77H714.79zM725 736.88H727.04V738.77H725zM729.08 736.88H733.17V738.77H729.08zM741.33 736.88H745.42V738.77H741.33zM747.46 736.88H751.54V738.77H747.46zM759.71 736.88H761.75V738.77H759.71zM763.79 736.88H767.88V738.77H763.79zM771.96 736.88H774V738.77H771.96zM776.04 736.88H780.12V738.77H776.04zM782.17 736.88H784.21V738.77H782.17zM786.25 736.88H788.29V738.77H786.25zM792.38 736.88H798.5V738.77H792.38zM661.71 738.77H663.75V740.66H661.71zM669.88 738.77H671.92V740.66H669.88zM676 738.77H678.04V740.66H676zM706.62 738.77H708.67V740.66H706.62zM714.79 738.77H716.83V740.66H714.79zM718.88 738.77H720.92V740.66H718.88zM722.96 738.77H725V740.66H722.96zM731.12 738.77H733.17V740.66H731.12zM735.21 738.77H741.33V740.66H735.21zM743.38 738.77H749.5V740.66H743.38zM751.54 738.77H753.58V740.66H751.54zM755.62 738.77H757.67V740.66H755.62zM763.79 738.77H765.83V740.66H763.79zM792.38 738.77H794.42V740.66H792.38zM651.5 740.66H657.62V742.55H651.5zM663.75 740.66H665.79V742.55H663.75zM667.83 740.66H671.92V742.55H667.83zM692.33 740.66H694.38V742.55H692.33zM704.58 740.66H708.67V742.55H704.58zM710.71 740.66H712.75V742.55H710.71zM714.79 740.66H716.83V742.55H714.79zM720.92 740.66H722.96V742.55H720.92zM729.08 740.66H731.12V742.55H729.08zM733.17 740.66H737.25V742.55H733.17zM739.29 740.66H741.33V742.55H739.29zM743.38 740.66H751.54V742.55H743.38zM755.62 740.66H757.67V742.55H755.62zM765.83 740.66H767.88V742.55H765.83zM780.12 740.66H786.25V742.55H780.12zM663.75 742.55H667.83V744.44H663.75zM673.96 742.55H676V744.44H673.96zM680.08 742.55H682.12V744.44H680.08zM686.21 742.55H688.25V744.44H686.21zM704.58 742.55H706.62V744.44H704.58zM725 742.55H727.04V744.44H725zM735.21 742.55H737.25V744.44H735.21zM739.29 742.55H747.46V744.44H739.29zM751.54 742.55H753.58V744.44H751.54zM767.88 742.55H769.92V744.44H767.88zM771.96 742.55H774V744.44H771.96zM780.12 742.55H782.17V744.44H780.12zM784.21 742.55H786.25V744.44H784.21zM661.71 744.44H663.75V746.33H661.71zM671.92 744.44H673.96V746.33H671.92zM680.08 744.44H682.12V746.33H680.08zM684.17 744.44H686.21V746.33H684.17zM696.42 744.44H698.46V746.33H696.42zM700.5 744.44H702.54V746.33H700.5zM710.71 744.44H712.75V746.33H710.71zM718.88 744.44H720.92V746.33H718.88zM722.96 744.44H725V746.33H722.96zM733.17 744.44H737.25V746.33H733.17zM743.38 744.44H747.46V746.33H743.38zM753.58 744.44H755.62V746.33H753.58zM757.67 744.44H759.71V746.33H757.67zM767.88 744.44H771.96V746.33H767.88zM780.12 744.44H788.29V746.33H780.12zM790.33 744.44H798.5V746.33H790.33zM678.04 746.33H680.08V748.23H678.04zM706.62 746.33H712.75V748.23H706.62zM718.88 746.33H722.96V748.23H718.88zM729.08 746.33H731.12V748.23H729.08zM737.25 746.33H741.33V748.23H737.25zM751.54 746.33H753.58V748.23H751.54zM767.88 746.33H769.92V748.23H767.88zM778.08 746.33H780.12V748.23H778.08zM788.29 746.33H792.38V748.23H788.29zM653.54 748.23H657.62V750.12H653.54zM659.67 748.23H665.79V750.12H659.67zM667.83 748.23H669.88V750.12H667.83zM680.08 748.23H682.12V750.12H680.08zM690.29 748.23H694.38V750.12H690.29zM700.5 748.23H704.58V750.12H700.5zM706.62 748.23H710.71V750.12H706.62zM712.75 748.23H716.83V750.12H712.75zM718.88 748.23H720.92V750.12H718.88zM729.08 748.23H735.21V750.12H729.08zM739.29 748.23H741.33V750.12H739.29zM743.38 748.23H751.54V750.12H743.38zM753.58 748.23H771.96V750.12H753.58zM780.12 748.23H786.25V750.12H780.12zM788.29 748.23H792.38V750.12H788.29zM794.42 748.23H798.5V750.12H794.42zM655.58 750.12H657.62V752.01H655.58zM661.71 750.12H663.75V752.01H661.71zM673.96 750.12H676V752.01H673.96zM694.38 750.12H696.42V752.01H694.38zM698.46 750.12H700.5V752.01H698.46zM702.54 750.12H706.62V752.01H702.54zM718.88 750.12H720.92V752.01H718.88zM727.04 750.12H733.17V752.01H727.04zM743.38 750.12H749.5V752.01H743.38zM751.54 750.12H753.58V752.01H751.54zM765.83 750.12H769.92V752.01H765.83zM771.96 750.12H776.04V752.01H771.96zM780.12 750.12H782.17V752.01H780.12zM784.21 750.12H786.25V752.01H784.21zM796.46 750.12H798.5V752.01H796.46zM655.58 752.01H657.62V753.9H655.58zM663.75 752.01H667.83V753.9H663.75zM669.88 752.01H673.96V753.9H669.88zM676 752.01H678.04V753.9H676zM684.17 752.01H686.21V753.9H684.17zM690.29 752.01H692.33V753.9H690.29zM710.71 752.01H716.83V753.9H710.71zM718.88 752.01H720.92V753.9H718.88zM729.08 752.01H731.12V753.9H729.08zM733.17 752.01H737.25V753.9H733.17zM741.33 752.01H745.42V753.9H741.33zM749.5 752.01H755.62V753.9H749.5zM765.83 752.01H767.88V753.9H765.83zM771.96 752.01H774V753.9H771.96zM788.29 752.01H790.33V753.9H788.29zM792.38 752.01H794.42V753.9H792.38zM796.46 752.01H798.5V753.9H796.46zM653.54 753.9H655.58V755.79H653.54zM657.62 753.9H659.67V755.79H657.62zM676 753.9H680.08V755.79H676zM722.96 753.9H725V755.79H722.96zM729.08 753.9H737.25V755.79H729.08zM743.38 753.9H749.5V755.79H743.38zM753.58 753.9H757.67V755.79H753.58zM771.96 753.9H774V755.79H771.96zM776.04 753.9H780.12V755.79H776.04zM782.17 753.9H784.21V755.79H782.17zM788.29 753.9H790.33V755.79H788.29zM655.58 755.79H657.62V757.68H655.58zM667.83 755.79H669.88V757.68H667.83zM680.08 755.79H686.21V757.68H680.08zM688.25 755.79H690.29V757.68H688.25zM692.33 755.79H696.42V757.68H692.33zM698.46 755.79H700.5V757.68H698.46zM702.54 755.79H704.58V757.68H702.54zM710.71 755.79H718.88V757.68H710.71zM722.96 755.79H725V757.68H722.96zM727.04 755.79H733.17V757.68H727.04zM739.29 755.79H749.5V757.68H739.29zM769.92 755.79H774V757.68H769.92zM776.04 755.79H780.12V757.68H776.04zM788.29 755.79H794.42V757.68H788.29zM796.46 755.79H798.5V757.68H796.46zM657.62 757.68H659.67V759.58H657.62zM673.96 757.68H676V759.58H673.96zM682.12 757.68H684.17V759.58H682.12zM698.46 757.68H706.62V759.58H698.46zM710.71 757.68H712.75V759.58H710.71zM714.79 757.68H718.88V759.58H714.79zM743.38 757.68H745.42V759.58H743.38zM767.88 757.68H769.92V759.58H767.88zM780.12 757.68H782.17V759.58H780.12zM788.29 757.68H790.33V759.58H788.29zM653.54 759.58H655.58V761.47H653.54zM661.71 759.58H663.75V761.47H661.71zM665.79 759.58H667.83V761.47H665.79zM669.88 759.58H671.92V761.47H669.88zM678.04 759.58H680.08V761.47H678.04zM688.25 759.58H692.33V761.47H688.25zM694.38 759.58H696.42V761.47H694.38zM700.5 759.58H704.58V761.47H700.5zM706.62 759.58H710.71V761.47H706.62zM714.79 759.58H716.83V761.47H714.79zM718.88 759.58H720.92V761.47H718.88zM727.04 759.58H731.12V761.47H727.04zM735.21 759.58H737.25V761.47H735.21zM743.38 759.58H747.46V761.47H743.38zM749.5 759.58H751.54V761.47H749.5zM767.88 759.58H769.92V761.47H767.88zM771.96 759.58H774V761.47H771.96zM776.04 759.58H778.08V761.47H776.04zM790.33 759.58H794.42V761.47H790.33zM796.46 759.58H798.5V761.47H796.46zM661.71 761.47H663.75V763.36H661.71zM665.79 761.47H667.83V763.36H665.79zM676 761.47H678.04V763.36H676zM686.21 761.47H688.25V763.36H686.21zM694.38 761.47H696.42V763.36H694.38zM702.54 761.47H704.58V763.36H702.54zM710.71 761.47H712.75V763.36H710.71zM714.79 761.47H716.83V763.36H714.79zM718.88 761.47H720.92V763.36H718.88zM722.96 761.47H725V763.36H722.96zM735.21 761.47H737.25V763.36H735.21zM743.38 761.47H745.42V763.36H743.38zM749.5 761.47H751.54V763.36H749.5zM755.62 761.47H757.67V763.36H755.62zM778.08 761.47H780.12V763.36H778.08zM786.25 761.47H790.33V763.36H786.25zM792.38 761.47H794.42V763.36H792.38zM655.58 763.36H657.62V765.25H655.58zM659.67 763.36H661.71V765.25H659.67zM663.75 763.36H665.79V765.25H663.75zM667.83 763.36H669.88V765.25H667.83zM682.12 763.36H684.17V765.25H682.12zM696.42 763.36H698.46V765.25H696.42zM706.62 763.36H708.67V765.25H706.62zM720.92 763.36H722.96V765.25H720.92zM725 763.36H731.12V765.25H725zM733.17 763.36H735.21V765.25H733.17zM739.29 763.36H741.33V765.25H739.29zM743.38 763.36H745.42V765.25H743.38zM765.83 763.36H769.92V765.25H765.83zM776.04 763.36H780.12V765.25H776.04zM794.42 763.36H796.46V765.25H794.42zM667.83 765.25H671.92V767.14H667.83zM673.96 765.25H676V767.14H673.96zM678.04 765.25H684.17V767.14H678.04zM690.29 765.25H692.33V767.14H690.29zM694.38 765.25H698.46V767.14H694.38zM716.83 765.25H718.88V767.14H716.83zM733.17 765.25H741.33V767.14H733.17zM747.46 765.25H749.5V767.14H747.46zM751.54 765.25H753.58V767.14H751.54zM759.71 765.25H761.75V767.14H759.71zM767.88 765.25H769.92V767.14H767.88zM778.08 765.25H780.12V767.14H778.08zM784.21 765.25H786.25V767.14H784.21zM788.29 765.25H790.33V767.14H788.29zM796.46 765.25H798.5V767.14H796.46zM655.58 767.14H657.62V769.03H655.58zM659.67 767.14H661.71V769.03H659.67zM663.75 767.14H665.79V769.03H663.75zM669.88 767.14H671.92V769.03H669.88zM673.96 767.14H676V769.03H673.96zM680.08 767.14H686.21V769.03H680.08zM692.33 767.14H694.38V769.03H692.33zM698.46 767.14H700.5V769.03H698.46zM708.67 767.14H710.71V769.03H708.67zM725 767.14H735.21V769.03H725zM737.25 767.14H741.33V769.03H737.25zM743.38 767.14H747.46V769.03H743.38zM751.54 767.14H753.58V769.03H751.54zM774 767.14H776.04V769.03H774zM780.12 767.14H788.29V769.03H780.12zM792.38 767.14H794.42V769.03H792.38zM657.62 769.03H659.67V770.92H657.62zM661.71 769.03H663.75V770.92H661.71zM673.96 769.03H676V770.92H673.96zM682.12 769.03H684.17V770.92H682.12zM686.21 769.03H692.33V770.92H686.21zM706.62 769.03H708.67V770.92H706.62zM710.71 769.03H720.92V770.92H710.71zM731.12 769.03H733.17V770.92H731.12zM737.25 769.03H739.29V770.92H737.25zM743.38 769.03H749.5V770.92H743.38zM769.92 769.03H771.96V770.92H769.92zM780.12 769.03H782.17V770.92H780.12zM784.21 769.03H786.25V770.92H784.21zM788.29 769.03H790.33V770.92H788.29zM792.38 769.03H794.42V770.92H792.38zM651.5 770.92H665.79V772.82H651.5zM667.83 770.92H669.88V772.82H667.83zM671.92 770.92H676V772.82H671.92zM680.08 770.92H688.25V772.82H680.08zM692.33 770.92H694.38V772.82H692.33zM696.42 770.92H698.46V772.82H696.42zM702.54 770.92H704.58V772.82H702.54zM706.62 770.92H710.71V772.82H706.62zM712.75 770.92H720.92V772.82H712.75zM722.96 770.92H729.08V772.82H722.96zM731.12 770.92H735.21V772.82H731.12zM741.33 770.92H747.46V772.82H741.33zM749.5 770.92H751.54V772.82H749.5zM757.67 770.92H761.75V772.82H757.67zM763.79 770.92H765.83V772.82H763.79zM769.92 770.92H774V772.82H769.92zM784.21 770.92H786.25V772.82H784.21zM788.29 770.92H798.5V772.82H788.29zM653.54 772.82H655.58V774.71H653.54zM657.62 772.82H659.67V774.71H657.62zM661.71 772.82H663.75V774.71H661.71zM669.88 772.82H671.92V774.71H669.88zM673.96 772.82H676V774.71H673.96zM682.12 772.82H684.17V774.71H682.12zM690.29 772.82H692.33V774.71H690.29zM700.5 772.82H702.54V774.71H700.5zM704.58 772.82H716.83V774.71H704.58zM722.96 772.82H729.08V774.71H722.96zM737.25 772.82H743.38V774.71H737.25zM767.88 772.82H769.92V774.71H767.88zM780.12 772.82H782.17V774.71H780.12zM788.29 772.82H790.33V774.71H788.29zM796.46 772.82H798.5V774.71H796.46zM653.54 774.71H655.58V776.6H653.54zM663.75 774.71H665.79V776.6H663.75zM669.88 774.71H671.92V776.6H669.88zM680.08 774.71H692.33V776.6H680.08zM696.42 774.71H700.5V776.6H696.42zM706.62 774.71H710.71V776.6H706.62zM714.79 774.71H716.83V776.6H714.79zM718.88 774.71H720.92V776.6H718.88zM722.96 774.71H725V776.6H722.96zM729.08 774.71H731.12V776.6H729.08zM735.21 774.71H737.25V776.6H735.21zM739.29 774.71H743.38V776.6H739.29zM747.46 774.71H749.5V776.6H747.46zM757.67 774.71H759.71V776.6H757.67zM767.88 774.71H774V776.6H767.88zM782.17 774.71H784.21V776.6H782.17zM788.29 774.71H790.33V776.6H788.29zM792.38 774.71H794.42V776.6H792.38z"/>
<path fill="#000eff" d="M667.83 640.4H669.88V642.29H667.83zM682.12 640.4H684.17V642.29H682.12zM694.38 640.4H696.42V642.29H694.38zM700.5 640.4H704.58V642.29H700.5zM716.83 640.4H718.88V642.29H716.83zM747.46 640.4H749.5V642.29H747.46zM761.75 640.4H763.79V642.29H761.75zM767.88 640.4H769.92V642.29H767.88zM792.38 640.4H794.42V642.29H792.38zM651.5 642.29H653.54V644.18H651.5zM696.42 642.29H698.46V644.18H696.42zM708.67 642.29H710.71V644.18H708.67zM727.04 642.29H729.08V644.18H727.04zM739.29 642.29H741.33V644.18H739.29zM743.38 642.29H745.42V644.18H743.38zM778.08 642.29H780.12V644.18H778.08zM661.71 644.18H667.83V646.07H661.71zM673.96 644.18H676V646.07H673.96zM688.25 644.18H690.29V646.07H688.25zM698.46 644.18H700.5V646.07H698.46zM712.75 644.18H714.79V646.07H712.75zM722.96 644.18H725V646.07H722.96zM727.04 644.18H729.08V646.07H727.04zM753.58 644.18H755.62V646.07H753.58zM761.75 644.18H763.79V646.07H761.75zM776.04 644.18H780.12V646.07H776.04zM782.17 644.18H784.21V646.07H782.17zM786.25 644.18H788.29V646.07H786.25zM678.04 646.07H680.08V647.97H678.04zM682.12 646.07H684.17V647.97H682.12zM688.25 646.07H690.29V647.97H688.25zM694.38 646.07H696.42V647.97H694.38zM735.21 646.07H737.25V647.97H735.21zM749.5 646.07H751.54V647.97H749.5zM665.79 647.97H667.83V649.86H665.79zM669.88 647.97H671.92V649.86H669.88zM700.5 647.97H702.54V649.86H700.5zM704.58 647.97H706.62V649.86H704.58zM714.79 647.97H716.83V649.86H714.79zM737.25 647.97H739.29V649.86H737.25zM745.42 647.97H747.46V649.86H745.42zM757.67 647.97H759.71V649.86H757.67zM761.75 647.97H763.79V649.86H761.75zM778.08 647.97H780.12V649.86H778.08zM790.33 647.97H792.38V649.86H790.33zM661.71 649.86H663.75V651.75H661.71zM671.92 649.86H673.96V651.75H671.92zM714.79 649.86H716.83V651.75H714.79zM735.21 649.86H737.25V651.75H735.21zM763.79 649.86H765.83V651.75H763.79zM769.92 649.86H771.96V651.75H769.92zM659.67 651.75H661.71V653.64H659.67zM671.92 651.75H673.96V653.64H671.92zM733.17 651.75H735.21V653.64H733.17zM737.25 651.75H739.29V653.64H737.25zM761.75 651.75H763.79V653.64H761.75zM765.83 651.75H767.88V653.64H765.83zM790.33 651.75H792.38V653.64H790.33zM676 653.64H680.08V655.53H676zM682.12 653.64H684.17V655.53H682.12zM690.29 653.64H692.33V655.53H690.29zM696.42 653.64H698.46V655.53H696.42zM706.62 653.64H708.67V655.53H706.62zM727.04 653.64H731.12V655.53H727.04zM733.17 653.64H735.21V655.53H733.17zM757.67 653.64H759.71V655.53H757.67zM790.33 653.64H792.38V655.53H790.33zM651.5 655.53H653.54V657.42H651.5zM663.75 655.53H665.79V657.42H663.75zM676 655.53H678.04V657.42H676zM710.71 655.53H712.75V657.42H710.71zM714.79 655.53H716.83V657.42H714.79zM729.08 655.53H731.12V657.42H729.08zM737.25 655.53H739.29V657.42H737.25zM745.42 655.53H747.46V657.42H745.42zM753.58 655.53H757.67V657.42H753.58zM778.08 655.53H780.12V657.42H778.08zM786.25 655.53H788.29V657.42H786.25zM790.33 655.53H792.38V657.42H790.33zM694.38 657.42H696.42V659.32H694.38zM704.58 657.42H706.62V659.32H704.58zM708.67 657.42H710.71V659.32H708.67zM759.71 657.42H761.75V659.32H759.71zM765.83 657.42H767.88V659.32H765.83zM776.04 657.42H780.12V659.32H776.04zM665.79 659.32H667.83V661.21H665.79zM671.92 659.32H676V661.21H671.92zM678.04 659.32H680.08V661.21H678.04zM710.71 659.32H712.75V661.21H710.71zM716.83 659.32H718.88V661.21H716.83zM725 659.32H727.04V661.21H725zM733.17 659.32H735.21V661.21H733.17zM747.46 659.32H751.54V661.21H747.46zM792.38 659.32H794.42V661.21H792.38zM661.71 661.21H663.75V663.1H661.71zM696.42 661.21H698.46V663.1H696.42zM708.67 661.21H710.71V663.1H708.67zM716.83 661.21H718.88V663.1H716.83zM727.04 661.21H729.08V663.1H727.04zM757.67 661.21H759.71V663.1H757.67zM763.79 661.21H765.83V663.1H763.79zM769.92 661.21H771.96V663.1H769.92zM774 661.21H778.08V663.1H774zM788.29 661.21H790.33V663.1H788.29zM792.38 661.21H794.42V663.1H792.38zM653.54 663.1H655.58V664.99H653.54zM661.71 663.1H663.75V664.99H661.71zM667.83 663.1H669.88V664.99H667.83zM700.5 663.1H702.54V664.99H700.5zM704.58 663.1H706.62V664.99H704.58zM720.92 663.1H725V664.99H720.92zM733.17 663.1H735.21V664.99H733.17zM737.25 663.1H739.29V664.99H737.25zM749.5 663.1H751.54V664.99H749.5zM767.88 663.1H769.92V664.99H767.88zM776.04 663.1H778.08V664.99H776.04zM790.33 663.1H794.42V664.99H790.33zM796.46 663.1H798.5V664.99H796.46zM663.75 664.99H665.79V666.88H663.75zM682.12 664.99H684.17V666.88H682.12zM722.96 664.99H725V666.88H722.96zM767.88 664.99H769.92V666.88H767.88zM771.96 664.99H774V666.88H771.96zM778.08 664.99H780.12V666.88H778.08zM661.71 666.88H663.75V668.77H661.71zM680.08 666.88H682.12V668.77H680.08zM684.17 666.88H686.21V668.77H684.17zM739.29 666.88H741.33V668.77H739.29zM771.96 666.88H774V668.77H771.96zM782.17 666.88H786.25V668.77H782.17zM796.46 666.88H798.5V668.77H796.46zM676 668.77H678.04V670.67H676zM688.25 668.77H690.29V670.67H688.25zM698.46 668.77H702.54V670.67H698.46zM706.62 668.77H708.67V670.67H706.62zM712.75 668.77H714.79V670.67H712.75zM720.92 668.77H722.96V670.67H720.92zM743.38 668.77H745.42V670.67H743.38zM759.71 668.77H761.75V670.67H759.71zM767.88 668.77H769.92V670.67H767.88zM653.54 670.67H655.58V672.56H653.54zM657.62 670.67H659.67V672.56H657.62zM663.75 670.67H665.79V672.56H663.75zM673.96 670.67H676V672.56H673.96zM678.04 670.67H680.08V672.56H678.04zM682.12 670.67H684.17V672.56H682.12zM690.29 670.67H692.33V672.56H690.29zM694.38 670.67H696.42V672.56H694.38zM698.46 670.67H700.5V672.56H698.46zM706.62 670.67H708.67V672.56H706.62zM731.12 670.67H733.17V672.56H731.12zM761.75 670.67H763.79V672.56H761.75zM771.96 670.67H774V672.56H771.96zM669.88 672.56H671.92V674.45H669.88zM682.12 672.56H684.17V674.45H682.12zM688.25 672.56H690.29V674.45H688.25zM698.46 672.56H700.5V674.45H698.46zM722.96 672.56H729.08V674.45H722.96zM735.21 672.56H737.25V674.45H735.21zM751.54 672.56H753.58V674.45H751.54zM757.67 672.56H759.71V674.45H757.67zM761.75 672.56H763.79V674.45H761.75zM765.83 672.56H767.88V674.45H765.83zM776.04 672.56H778.08V674.45H776.04zM790.33 672.56H792.38V674.45H790.33zM673.96 674.45H676V676.34H673.96zM680.08 674.45H684.17V676.34H680.08zM718.88 674.45H720.92V676.34H718.88zM729.08 674.45H731.12V676.34H729.08zM743.38 674.45H745.42V676.34H743.38zM749.5 674.45H751.54V676.34H749.5zM763.79 674.45H765.83V676.34H763.79zM784.21 674.45H786.25V676.34H784.21zM661.71 676.34H663.75V678.23H661.71zM665.79 676.34H667.83V678.23H665.79zM708.67 676.34H710.71V678.23H708.67zM714.79 676.34H716.83V678.23H714.79zM718.88 676.34H720.92V678.23H718.88zM745.42 676.34H747.46V678.23H745.42zM678.04 678.23H680.08V680.12H678.04zM688.25 678.23H690.29V680.12H688.25zM704.58 678.23H706.62V680.12H704.58zM714.79 678.23H716.83V680.12H714.79zM749.5 678.23H751.54V680.12H749.5zM759.71 678.23H761.75V680.12H759.71zM763.79 678.23H765.83V680.12H763.79zM782.17 678.23H784.21V680.12H782.17zM788.29 678.23H790.33V680.12H788.29zM792.38 678.23H794.42V680.12H792.38zM796.46 678.23H798.5V680.12H796.46zM657.62 680.12H661.71V682.02H657.62zM682.12 680.12H684.17V682.02H682.12zM706.62 680.12H710.71V682.02H706.62zM716.83 680.12H718.88V682.02H716.83zM729.08 680.12H731.12V682.02H729.08zM735.21 680.12H737.25V682.02H735.21zM769.92 680.12H771.96V682.02H769.92zM778.08 680.12H780.12V682.02H778.08zM784.21 680.12H786.25V682.02H784.21zM669.88 682.02H676V683.91H669.88zM680.08 682.02H682.12V683.91H680.08zM686.21 682.02H688.25V683.91H686.21zM694.38 682.02H696.42V683.91H694.38zM712.75 682.02H714.79V683.91H712.75zM718.88 682.02H720.92V683.91H718.88zM725 682.02H729.08V683.91H725zM751.54 682.02H753.58V683.91H751.54zM757.67 682.02H759.71V683.91H757.67zM769.92 682.02H771.96V683.91H769.92zM782.17 682.02H784.21V683.91H782.17zM788.29 682.02H790.33V683.91H788.29zM792.38 682.02H796.46V683.91H792.38zM661.71 683.91H663.75V685.8H661.71zM665.79 683.91H667.83V685.8H665.79zM676 683.91H678.04V685.8H676zM684.17 683.91H686.21V685.8H684.17zM690.29 683.91H692.33V685.8H690.29zM698.46 683.91H700.5V685.8H698.46zM706.62 683.91H708.67V685.8H706.62zM712.75 683.91H714.79V685.8H712.75zM727.04 683.91H729.08V685.8H727.04zM737.25 683.91H739.29V685.8H737.25zM755.62 683.91H757.67V685.8H755.62zM778.08 683.91H780.12V685.8H778.08zM651.5 685.8H653.54V687.69H651.5zM655.58 685.8H657.62V687.69H655.58zM686.21 685.8H688.25V687.69H686.21zM714.79 685.8H718.88V687.69H714.79zM722.96 685.8H725V687.69H722.96zM727.04 685.8H729.08V687.69H727.04zM741.33 685.8H743.38V687.69H741.33zM749.5 685.8H751.54V687.69H749.5zM769.92 685.8H771.96V687.69H769.92zM657.62 687.69H663.75V689.58H657.62zM667.83 687.69H673.96V689.58H667.83zM694.38 687.69H696.42V689.58H694.38zM714.79 687.69H716.83V689.58H714.79zM718.88 687.69H722.96V689.58H718.88zM725 687.69H727.04V689.58H725zM731.12 687.69H733.17V689.58H731.12zM745.42 687.69H747.46V689.58H745.42zM769.92 687.69H771.96V689.58H769.92zM790.33 687.69H792.38V689.58H790.33zM651.5 689.58H653.54V691.48H651.5zM665.79 689.58H667.83V691.48H665.79zM678.04 689.58H680.08V691.48H678.04zM696.42 689.58H698.46V691.48H696.42zM722.96 689.58H725V691.48H722.96zM727.04 689.58H729.08V691.48H727.04zM749.5 689.58H751.54V691.48H749.5zM759.71 689.58H761.75V691.48H759.71zM776.04 689.58H778.08V691.48H776.04zM792.38 689.58H796.46V691.48H792.38zM651.5 691.48H653.54V693.37H651.5zM659.67 691.48H663.75V693.37H659.67zM671.92 691.48H678.04V693.37H671.92zM710.71 691.48H712.75V693.37H710.71zM720.92 691.48H722.96V693.37H720.92zM729.08 691.48H731.12V693.37H729.08zM735.21 691.48H737.25V693.37H735.21zM741.33 691.48H743.38V693.37H741.33zM759.71 691.48H761.75V693.37H759.71zM763.79 691.48H765.83V693.37H763.79zM790.33 691.48H792.38V693.37H790.33zM794.42 691.48H798.5V693.37H794.42zM667.83 693.37H669.88V695.26H667.83zM676 693.37H678.04V695.26H676zM686.21 693.37H690.29V695.26H686.21zM694.38 693.37H696.42V695.26H694.38zM720.92 693.37H722.96V695.26H720.92zM731.12 693.37H733.17V695.26H731.12zM759.71 693.37H761.75V695.26H759.71zM774 693.37H776.04V695.26H774zM780.12 693.37H784.21V695.26H780.12zM651.5 695.26H653.54V697.15H651.5zM667.83 695.26H669.88V697.15H667.83zM678.04 695.26H680.08V697.15H678.04zM684.17 695.26H686.21V697.15H684.17zM692.33 695.26H694.38V697.15H692.33zM702.54 695.26H704.58V697.15H702.54zM720.92 695.26H722.96V697.15H720.92zM731.12 695.26H735.21V697.15H731.12zM737.25 695.26H739.29V697.15H737.25zM761.75 695.26H763.79V697.15H761.75zM796.46 695.26H798.5V697.15H796.46zM653.54 697.15H655.58V699.04H653.54zM657.62 697.15H659.67V699.04H657.62zM661.71 697.15H663.75V699.04H661.71zM680.08 697.15H686.21V699.04H680.08zM712.75 697.15H714.79V699.04H712.75zM727.04 697.15H729.08V699.04H727.04zM753.58 697.15H755.62V699.04H753.58zM765.83 697.15H767.88V699.04H765.83zM774 697.15H776.04V699.04H774zM659.67 699.04H661.71V700.93H659.67zM673.96 699.04H676V700.93H673.96zM722.96 699.04H727.04V700.93H722.96zM733.17 699.04H735.21V700.93H733.17zM751.54 699.04H753.58V700.93H751.54zM767.88 699.04H769.92V700.93H767.88zM776.04 699.04H778.08V700.93H776.04zM651.5 700.93H653.54V702.83H651.5zM669.88 700.93H671.92V702.83H669.88zM682.12 700.93H684.17V702.83H682.12zM692.33 700.93H694.38V702.83H692.33zM700.5 700.93H702.54V702.83H700.5zM708.67 700.93H710.71V702.83H708.67zM712.75 700.93H714.79V702.83H712.75zM718.88 700.93H720.92V702.83H718.88zM727.04 700.93H729.08V702.83H727.04zM733.17 700.93H735.21V702.83H733.17zM759.71 700.93H761.75V702.83H759.71zM780.12 700.93H782.17V702.83H780.12zM657.62 702.83H659.67V704.72H657.62zM661.71 702.83H663.75V704.72H661.71zM702.54 702.83H704.58V704.72H702.54zM708.67 702.83H710.71V704.72H708.67zM718.88 702.83H720.92V704.72H718.88zM722.96 702.83H725V704.72H722.96zM731.12 702.83H733.17V704.72H731.12zM790.33 702.83H792.38V704.72H790.33zM794.42 702.83H796.46V704.72H794.42zM657.62 704.72H659.67V706.61H657.62zM669.88 704.72H671.92V706.61H669.88zM682.12 704.72H684.17V706.61H682.12zM696.42 704.72H698.46V706.61H696.42zM708.67 704.72H710.71V706.61H708.67zM716.83 704.72H720.92V706.61H716.83zM727.04 704.72H729.08V706.61H727.04zM733.17 704.72H735.21V706.61H733.17zM763.79 704.72H767.88V706.61H763.79zM657.62 706.61H659.67V708.5H657.62zM661.71 706.61H663.75V708.5H661.71zM665.79 706.61H667.83V708.5H665.79zM722.96 706.61H725V708.5H722.96zM745.42 706.61H747.46V708.5H745.42zM651.5 708.5H655.58V710.39H651.5zM661.71 708.5H663.75V710.39H661.71zM669.88 708.5H671.92V710.39H669.88zM710.71 708.5H712.75V710.39H710.71zM745.42 708.5H747.46V710.39H745.42zM749.5 708.5H751.54V710.39H749.5zM669.88 710.39H671.92V712.28H669.88zM684.17 710.39H686.21V712.28H684.17zM765.83 710.39H767.88V712.28H765.83zM784.21 710.39H786.25V712.28H784.21zM692.33 712.28H694.38V714.17H692.33zM696.42 712.28H698.46V714.17H696.42zM702.54 712.28H704.58V714.17H702.54zM741.33 712.28H743.38V714.17H741.33zM767.88 712.28H769.92V714.17H767.88zM771.96 712.28H774V714.17H771.96zM676 714.17H678.04V716.07H676zM718.88 714.17H722.96V716.07H718.88zM741.33 714.17H743.38V716.07H741.33zM759.71 714.17H761.75V716.07H759.71zM651.5 716.07H655.58V717.96H651.5zM657.62 716.07H659.67V717.96H657.62zM661.71 716.07H663.75V717.96H661.71zM678.04 716.07H680.08V717.96H678.04zM698.46 716.07H700.5V717.96H698.46zM710.71 716.07H714.79V717.96H710.71zM716.83 716.07H720.92V717.96H716.83zM745.42 716.07H747.46V717.96H745.42zM749.5 716.07H751.54V717.96H749.5zM753.58 716.07H755.62V717.96H753.58zM761.75 716.07H763.79V717.96H761.75zM765.83 716.07H769.92V717.96H765.83zM794.42 716.07H796.46V717.96H794.42zM663.75 717.96H665.79V719.85H663.75zM673.96 717.96H676V719.85H673.96zM680.08 717.96H682.12V719.85H680.08zM684.17 717.96H686.21V719.85H684.17zM690.29 717.96H692.33V719.85H690.29zM696.42 717.96H698.46V719.85H696.42zM710.71 717.96H712.75V719.85H710.71zM720.92 717.96H722.96V719.85H720.92zM741.33 717.96H743.38V719.85H741.33zM776.04 717.96H778.08V719.85H776.04zM786.25 717.96H788.29V719.85H786.25zM792.38 717.96H794.42V719.85H792.38zM676 719.85H678.04V721.74H676zM733.17 719.85H735.21V721.74H733.17zM751.54 719.85H753.58V721.74H751.54zM794.42 719.85H796.46V721.74H794.42zM684.17 721.74H686.21V723.63H684.17zM694.38 721.74H696.42V723.63H694.38zM704.58 721.74H706.62V723.63H704.58zM720.92 721.74H725V723.63H720.92zM774 721.74H776.04V723.63H774zM790.33 721.74H792.38V723.63H790.33zM651.5 723.63H653.54V725.52H651.5zM663.75 723.63H665.79V725.52H663.75zM684.17 723.63H688.25V725.52H684.17zM698.46 723.63H700.5V725.52H698.46zM706.62 723.63H710.71V725.52H706.62zM722.96 723.63H725V725.52H722.96zM735.21 723.63H737.25V725.52H735.21zM741.33 723.63H747.46V725.52H741.33zM749.5 723.63H755.62V725.52H749.5zM771.96 723.63H774V725.52H771.96zM780.12 723.63H782.17V725.52H780.12zM671.92 725.52H676V727.42H671.92zM686.21 725.52H688.25V727.42H686.21zM694.38 725.52H696.42V727.42H694.38zM710.71 725.52H714.79V727.42H710.71zM725 725.52H729.08V727.42H725zM780.12 725.52H782.17V727.42H780.12zM786.25 725.52H788.29V727.42H786.25zM671.92 727.42H673.96V729.31H671.92zM676 727.42H678.04V729.31H676zM686.21 727.42H688.25V729.31H686.21zM722.96 727.42H727.04V729.31H722.96zM737.25 727.42H739.29V729.31H737.25zM765.83 727.42H767.88V729.31H765.83zM788.29 727.42H790.33V729.31H788.29zM686.21 729.31H688.25V731.2H686.21zM702.54 729.31H704.58V731.2H702.54zM706.62 729.31H710.71V731.2H706.62zM720.92 729.31H722.96V731.2H720.92zM735.21 729.31H737.25V731.2H735.21zM741.33 729.31H743.38V731.2H741.33zM780.12 729.31H782.17V731.2H780.12zM690.29 731.2H692.33V733.09H690.29zM704.58 731.2H706.62V733.09H704.58zM741.33 731.2H743.38V733.09H741.33zM753.58 731.2H755.62V733.09H753.58zM778.08 731.2H780.12V733.09H778.08zM653.54 733.09H655.58V734.98H653.54zM667.83 733.09H671.92V734.98H667.83zM678.04 733.09H680.08V734.98H678.04zM751.54 733.09H753.58V734.98H751.54zM765.83 733.09H767.88V734.98H765.83zM776.04 733.09H778.08V734.98H776.04zM786.25 733.09H788.29V734.98H786.25zM655.58 734.98H657.62V736.88H655.58zM688.25 734.98H690.29V736.88H688.25zM702.54 734.98H704.58V736.88H702.54zM708.67 734.98H710.71V736.88H708.67zM716.83 734.98H718.88V736.88H716.83zM751.54 734.98H755.62V736.88H751.54zM757.67 734.98H759.71V736.88H757.67zM765.83 734.98H767.88V736.88H765.83zM776.04 734.98H778.08V736.88H776.04zM782.17 734.98H784.21V736.88H782.17zM655.58 736.88H657.62V738.77H655.58zM665.79 736.88H667.83V738.77H665.79zM682.12 736.88H684.17V738.77H682.12zM694.38 736.88H696.42V738.77H694.38zM706.62 736.88H708.67V738.77H706.62zM712.75 736.88H714.79V738.77H712.75zM737.25 736.88H739.29V738.77H737.25zM774 736.88H776.04V738.77H774zM653.54 738.77H655.58V740.66H653.54zM657.62 738.77H659.67V740.66H657.62zM698.46 738.77H700.5V740.66H698.46zM708.67 738.77H710.71V740.66H708.67zM741.33 738.77H743.38V740.66H741.33zM761.75 738.77H763.79V740.66H761.75zM767.88 738.77H769.92V740.66H767.88zM771.96 738.77H774V740.66H771.96zM780.12 738.77H784.21V740.66H780.12zM657.62 740.66H659.67V742.55H657.62zM673.96 740.66H676V742.55H673.96zM680.08 740.66H682.12V742.55H680.08zM684.17 740.66H686.21V742.55H684.17zM688.25 740.66H690.29V742.55H688.25zM694.38 740.66H696.42V742.55H694.38zM698.46 740.66H700.5V742.55H698.46zM731.12 740.66H733.17V742.55H731.12zM761.75 740.66H763.79V742.55H761.75zM651.5 742.55H653.54V744.44H651.5zM669.88 742.55H671.92V744.44H669.88zM678.04 742.55H680.08V744.44H678.04zM688.25 742.55H690.29V744.44H688.25zM694.38 742.55H698.46V744.44H694.38zM710.71 742.55H712.75V744.44H710.71zM718.88 742.55H720.92V744.44H718.88zM761.75 742.55H763.79V744.44H761.75zM774 742.55H776.04V744.44H774zM782.17 742.55H784.21V744.44H782.17zM794.42 742.55H796.46V744.44H794.42zM653.54 744.44H655.58V746.33H653.54zM659.67 744.44H661.71V746.33H659.67zM665.79 744.44H667.83V746.33H665.79zM682.12 744.44H684.17V746.33H682.12zM686.21 744.44H688.25V746.33H686.21zM690.29 744.44H692.33V746.33H690.29zM698.46 744.44H700.5V746.33H698.46zM737.25 744.44H741.33V746.33H737.25zM651.5 746.33H653.54V748.23H651.5zM655.58 746.33H657.62V748.23H655.58zM667.83 746.33H669.88V748.23H667.83zM682.12 746.33H684.17V748.23H682.12zM704.58 746.33H706.62V748.23H704.58zM733.17 746.33H735.21V748.23H733.17zM765.83 746.33H767.88V748.23H765.83zM769.92 746.33H771.96V748.23H769.92zM671.92 748.23H673.96V750.12H671.92zM682.12 748.23H684.17V750.12H682.12zM694.38 748.23H696.42V750.12H694.38zM722.96 748.23H725V750.12H722.96zM774 748.23H776.04V750.12H774zM676 750.12H678.04V752.01H676zM680.08 750.12H682.12V752.01H680.08zM686.21 750.12H688.25V752.01H686.21zM696.42 750.12H698.46V752.01H696.42zM710.71 750.12H712.75V752.01H710.71zM720.92 750.12H722.96V752.01H720.92zM733.17 750.12H735.21V752.01H733.17zM737.25 750.12H739.29V752.01H737.25zM749.5 750.12H751.54V752.01H749.5zM763.79 750.12H765.83V752.01H763.79zM778.08 750.12H780.12V752.01H778.08zM794.42 750.12H796.46V752.01H794.42zM661.71 752.01H663.75V753.9H661.71zM698.46 752.01H700.5V753.9H698.46zM757.67 752.01H761.75V753.9H757.67zM767.88 752.01H771.96V753.9H767.88zM661.71 753.9H663.75V755.79H661.71zM680.08 753.9H682.12V755.79H680.08zM694.38 753.9H696.42V755.79H694.38zM698.46 753.9H700.5V755.79H698.46zM704.58 753.9H706.62V755.79H704.58zM708.67 753.9H710.71V755.79H708.67zM712.75 753.9H714.79V755.79H712.75zM725 753.9H727.04V755.79H725zM741.33 753.9H743.38V755.79H741.33zM749.5 753.9H751.54V755.79H749.5zM794.42 753.9H796.46V755.79H794.42zM673.96 755.79H680.08V757.68H673.96zM690.29 755.79H692.33V757.68H690.29zM763.79 755.79H767.88V757.68H763.79zM651.5 757.68H653.54V759.58H651.5zM655.58 757.68H657.62V759.58H655.58zM663.75 757.68H665.79V759.58H663.75zM684.17 757.68H686.21V759.58H684.17zM688.25 757.68H692.33V759.58H688.25zM696.42 757.68H698.46V759.58H696.42zM733.17 757.68H735.21V759.58H733.17zM737.25 757.68H739.29V759.58H737.25zM747.46 757.68H749.5V759.58H747.46zM763.79 757.68H765.83V759.58H763.79zM651.5 759.58H653.54V761.47H651.5zM696.42 759.58H698.46V761.47H696.42zM722.96 759.58H725V761.47H722.96zM751.54 759.58H753.58V761.47H751.54zM778.08 759.58H782.17V761.47H778.08zM700.5 761.47H702.54V763.36H700.5zM712.75 761.47H714.79V763.36H712.75zM751.54 761.47H753.58V763.36H751.54zM763.79 761.47H765.83V763.36H763.79zM651.5 763.36H653.54V765.25H651.5zM665.79 763.36H667.83V765.25H665.79zM671.92 763.36H673.96V765.25H671.92zM716.83 763.36H718.88V765.25H716.83zM755.62 763.36H759.71V765.25H755.62zM763.79 763.36H765.83V765.25H763.79zM780.12 763.36H782.17V765.25H780.12zM784.21 763.36H786.25V765.25H784.21zM661.71 765.25H663.75V767.14H661.71zM671.92 765.25H673.96V767.14H671.92zM684.17 765.25H686.21V767.14H684.17zM688.25 765.25H690.29V767.14H688.25zM704.58 765.25H706.62V767.14H704.58zM725 765.25H727.04V767.14H725zM753.58 765.25H755.62V767.14H753.58zM786.25 765.25H788.29V767.14H786.25zM794.42 765.25H796.46V767.14H794.42zM702.54 767.14H704.58V769.03H702.54zM716.83 767.14H718.88V769.03H716.83zM722.96 767.14H725V769.03H722.96zM741.33 767.14H743.38V769.03H741.33zM763.79 767.14H765.83V769.03H763.79zM767.88 767.14H769.92V769.03H767.88zM776.04 767.14H778.08V769.03H776.04zM655.58 769.03H657.62V770.92H655.58zM663.75 769.03H665.79V770.92H663.75zM684.17 769.03H686.21V770.92H684.17zM700.5 769.03H702.54V770.92H700.5zM729.08 769.03H731.12V770.92H729.08zM741.33 769.03H743.38V770.92H741.33zM751.54 769.03H753.58V770.92H751.54zM761.75 769.03H763.79V770.92H761.75zM776.04 769.03H778.08V770.92H776.04zM786.25 769.03H788.29V770.92H786.25zM665.79 770.92H667.83V772.82H665.79zM694.38 770.92H696.42V772.82H694.38zM698.46 770.92H700.5V772.82H698.46zM755.62 770.92H757.67V772.82H755.62zM765.83 770.92H767.88V772.82H765.83zM780.12 770.92H782.17V772.82H780.12zM786.25 770.92H788.29V772.82H786.25zM659.67 772.82H661.71V774.71H659.67zM692.33 772.82H694.38V774.71H692.33zM696.42 772.82H698.46V774.71H696.42zM729.08 772.82H731.12V774.71H729.08zM733.17 772.82H737.25V774.71H733.17zM745.42 772.82H747.46V774.71H745.42zM759.71 772.82H761.75V774.71H759.71zM774 772.82H776.04V774.71H774zM667.83 774.71H669.88V776.6H667.83zM692.33 774.71H694.38V776.6H692.33zM759.71 774.71H761.75V776.6H759.71z"/>
<path fill="#0027ff" d="M725 640.4H727.04V642.29H725zM774 640.4H776.04V642.29H774zM778.08 640.4H780.12V642.29H778.08zM782.17 640.4H784.21V642.29H782.17zM682.12 642.29H684.17V644.18H682.12zM688.25 642.29H690.29V644.18H688.25zM655.58 644.18H657.62V646.07H655.58zM708.67 644.18H710.71V646.07H708.67zM725 644.18H727.04V646.07H725zM739.29 644.18H741.33V646.07H739.29zM749.5 644.18H751.54V646.07H749.5zM757.67 644.18H759.71V646.07H757.67zM794.42 644.18H796.46V646.07H794.42zM651.5 647.97H653.54V649.86H651.5zM659.67 647.97H661.71V649.86H659.67zM682.12 647.97H684.17V649.86H682.12zM694.38 647.97H698.46V649.86H694.38zM720.92 647.97H722.96V649.86H720.92zM753.58 647.97H755.62V649.86H753.58zM786.25 647.97H788.29V649.86H786.25zM663.75 649.86H665.79V651.75H663.75zM702.54 649.86H704.58V651.75H702.54zM716.83 649.86H718.88V651.75H716.83zM774 649.86H776.04V651.75H774zM655.58 651.75H657.62V653.64H655.58zM661.71 651.75H663.75V653.64H661.71zM684.17 651.75H686.21V653.64H684.17zM694.38 651.75H696.42V653.64H694.38zM708.67 651.75H710.71V653.64H708.67zM718.88 651.75H722.96V653.64H718.88zM741.33 651.75H743.38V653.64H741.33zM782.17 651.75H784.21V653.64H782.17zM794.42 651.75H796.46V653.64H794.42zM686.21 653.64H688.25V655.53H686.21zM659.67 655.53H661.71V657.42H659.67zM671.92 655.53H673.96V657.42H671.92zM682.12 655.53H684.17V657.42H682.12zM686.21 655.53H688.25V657.42H686.21zM722.96 655.53H725V657.42H722.96zM733.17 655.53H735.21V657.42H733.17zM782.17 655.53H784.21V657.42H782.17zM684.17 657.42H686.21V659.32H684.17zM659.67 659.32H661.71V661.21H659.67zM676 659.32H678.04V661.21H676zM688.25 659.32H692.33V661.21H688.25zM698.46 659.32H700.5V661.21H698.46zM708.67 659.32H710.71V661.21H708.67zM712.75 659.32H714.79V661.21H712.75zM729.08 659.32H731.12V661.21H729.08zM778.08 659.32H780.12V661.21H778.08zM794.42 659.32H796.46V661.21H794.42zM755.62 661.21H757.67V663.1H755.62zM767.88 661.21H769.92V663.1H767.88zM796.46 661.21H798.5V663.1H796.46zM651.5 663.1H653.54V664.99H651.5zM692.33 663.1H694.38V664.99H692.33zM706.62 663.1H708.67V664.99H706.62zM765.83 663.1H767.88V664.99H765.83zM671.92 664.99H673.96V666.88H671.92zM676 664.99H678.04V666.88H676zM692.33 664.99H694.38V666.88H692.33zM708.67 664.99H710.71V666.88H708.67zM655.58 666.88H657.62V668.77H655.58zM671.92 666.88H673.96V668.77H671.92zM676 666.88H678.04V668.77H676zM725 666.88H727.04V668.77H725zM733.17 666.88H735.21V668.77H733.17zM745.42 666.88H747.46V668.77H745.42zM692.33 668.77H694.38V670.67H692.33zM765.83 668.77H767.88V670.67H765.83zM769.92 668.77H771.96V670.67H769.92zM659.67 670.67H661.71V672.56H659.67zM716.83 670.67H718.88V672.56H716.83zM786.25 670.67H788.29V672.56H786.25zM794.42 670.67H796.46V672.56H794.42zM700.5 672.56H702.54V674.45H700.5zM774 672.56H776.04V674.45H774zM704.58 674.45H706.62V676.34H704.58zM712.75 674.45H714.79V676.34H712.75zM765.83 674.45H767.88V676.34H765.83zM782.17 674.45H784.21V676.34H782.17zM688.25 676.34H690.29V678.23H688.25zM716.83 676.34H718.88V678.23H716.83zM725 676.34H727.04V678.23H725zM655.58 678.23H657.62V680.12H655.58zM659.67 678.23H661.71V680.12H659.67zM667.83 678.23H669.88V680.12H667.83zM676 678.23H678.04V680.12H676zM682.12 678.23H684.17V680.12H682.12zM708.67 678.23H710.71V680.12H708.67zM722.96 678.23H725V680.12H722.96zM735.21 678.23H737.25V680.12H735.21zM794.42 678.23H796.46V680.12H794.42zM731.12 680.12H733.17V682.02H731.12zM737.25 680.12H739.29V682.02H737.25zM774 680.12H776.04V682.02H774zM663.75 682.02H665.79V683.91H663.75zM692.33 682.02H694.38V683.91H692.33zM710.71 682.02H712.75V683.91H710.71zM741.33 682.02H743.38V683.91H741.33zM749.5 682.02H751.54V683.91H749.5zM761.75 682.02H763.79V683.91H761.75zM731.12 683.91H733.17V685.8H731.12zM763.79 683.91H765.83V685.8H763.79zM782.17 683.91H784.21V685.8H782.17zM659.67 685.8H661.71V687.69H659.67zM694.38 685.8H696.42V687.69H694.38zM712.75 685.8H714.79V687.69H712.75zM782.17 685.8H784.21V687.69H782.17zM729.08 687.69H731.12V689.58H729.08zM661.71 689.58H663.75V691.48H661.71zM692.33 689.58H694.38V691.48H692.33zM716.83 689.58H718.88V691.48H716.83zM720.92 689.58H722.96V691.48H720.92zM725 689.58H727.04V691.48H725zM731.12 689.58H733.17V691.48H731.12zM765.83 689.58H767.88V691.48H765.83zM663.75 691.48H665.79V693.37H663.75zM722.96 691.48H725V693.37H722.96zM727.04 691.48H729.08V693.37H727.04zM743.38 691.48H745.42V693.37H743.38zM651.5 693.37H653.54V695.26H651.5zM716.83 693.37H718.88V695.26H716.83zM741.33 693.37H743.38V695.26H741.33zM745.42 693.37H747.46V695.26H745.42zM753.58 693.37H755.62V695.26H753.58zM778.08 693.37H780.12V695.26H778.08zM659.67 695.26H661.71V697.15H659.67zM669.88 695.26H671.92V697.15H669.88zM692.33 697.15H694.38V699.04H692.33zM700.5 697.15H702.54V699.04H700.5zM704.58 697.15H706.62V699.04H704.58zM794.42 697.15H796.46V699.04H794.42zM665.79 699.04H667.83V700.93H665.79zM665.79 700.93H667.83V702.83H665.79zM678.04 700.93H680.08V702.83H678.04zM686.21 700.93H690.29V702.83H686.21zM725 700.93H727.04V702.83H725zM735.21 700.93H737.25V702.83H735.21zM749.5 700.93H751.54V702.83H749.5zM757.67 700.93H759.71V702.83H757.67zM765.83 700.93H767.88V702.83H765.83zM769.92 700.93H771.96V702.83H769.92zM747.46 702.83H749.5V704.72H747.46zM782.17 702.83H784.21V704.72H782.17zM667.83 704.72H669.88V706.61H667.83zM671.92 704.72H673.96V706.61H671.92zM786.25 704.72H788.29V706.61H786.25zM790.33 704.72H792.38V706.61H790.33zM794.42 704.72H796.46V706.61H794.42zM673.96 708.5H676V710.39H673.96zM731.12 708.5H733.17V710.39H731.12zM757.67 708.5H759.71V710.39H757.67zM761.75 708.5H763.79V710.39H761.75zM765.83 708.5H769.92V710.39H765.83zM659.67 712.28H661.71V714.17H659.67zM704.58 712.28H706.62V714.17H704.58zM716.83 712.28H720.92V714.17H716.83zM737.25 712.28H739.29V714.17H737.25zM731.12 714.17H733.17V716.07H731.12zM676 716.07H678.04V717.96H676zM684.17 716.07H686.21V717.96H684.17zM696.42 716.07H698.46V717.96H696.42zM700.5 716.07H702.54V717.96H700.5zM774 716.07H776.04V717.96H774zM786.25 716.07H788.29V717.96H786.25zM790.33 716.07H792.38V717.96H790.33zM694.38 717.96H696.42V719.85H694.38zM771.96 717.96H774V719.85H771.96zM790.33 717.96H792.38V719.85H790.33zM659.67 719.85H661.71V721.74H659.67zM667.83 719.85H669.88V721.74H667.83zM704.58 719.85H706.62V721.74H704.58zM714.79 719.85H716.83V721.74H714.79zM745.42 719.85H747.46V721.74H745.42zM682.12 721.74H684.17V723.63H682.12zM688.25 721.74H690.29V723.63H688.25zM700.5 721.74H702.54V723.63H700.5zM667.83 723.63H669.88V725.52H667.83zM733.17 723.63H735.21V725.52H733.17zM761.75 723.63H763.79V725.52H761.75zM774 723.63H776.04V725.52H774zM778.08 723.63H780.12V725.52H778.08zM794.42 723.63H796.46V725.52H794.42zM665.79 725.52H667.83V727.42H665.79zM688.25 725.52H690.29V727.42H688.25zM692.33 725.52H694.38V727.42H692.33zM716.83 725.52H718.88V727.42H716.83zM790.33 725.52H792.38V727.42H790.33zM682.12 727.42H684.17V729.31H682.12zM757.67 727.42H759.71V729.31H757.67zM769.92 727.42H771.96V729.31H769.92zM782.17 727.42H784.21V729.31H782.17zM794.42 727.42H796.46V729.31H794.42zM743.38 729.31H745.42V731.2H743.38zM671.92 731.2H673.96V733.09H671.92zM720.92 731.2H722.96V733.09H720.92zM782.17 731.2H784.21V733.09H782.17zM790.33 731.2H792.38V733.09H790.33zM794.42 731.2H796.46V733.09H794.42zM665.79 733.09H667.83V734.98H665.79zM682.12 733.09H684.17V734.98H682.12zM702.54 733.09H706.62V734.98H702.54zM651.5 734.98H653.54V736.88H651.5zM663.75 734.98H665.79V736.88H663.75zM667.83 734.98H669.88V736.88H667.83zM714.79 734.98H716.83V736.88H714.79zM720.92 734.98H722.96V736.88H720.92zM741.33 734.98H743.38V736.88H741.33zM749.5 734.98H751.54V736.88H749.5zM676 736.88H678.04V738.77H676zM704.58 736.88H706.62V738.77H704.58zM678.04 738.77H682.12V740.66H678.04zM684.17 738.77H688.25V740.66H684.17zM733.17 738.77H735.21V740.66H733.17zM790.33 738.77H792.38V740.66H790.33zM682.12 740.66H684.17V742.55H682.12zM690.29 740.66H692.33V742.55H690.29zM667.83 742.55H669.88V744.44H667.83zM676 742.55H678.04V744.44H676zM684.17 742.55H686.21V744.44H684.17zM698.46 742.55H700.5V744.44H698.46zM720.92 742.55H722.96V744.44H720.92zM753.58 742.55H755.62V744.44H753.58zM786.25 742.55H788.29V744.44H786.25zM676 746.33H678.04V748.23H676zM686.21 746.33H688.25V748.23H686.21zM716.83 746.33H718.88V748.23H716.83zM749.5 746.33H751.54V748.23H749.5zM757.67 746.33H759.71V748.23H757.67zM651.5 750.12H653.54V752.01H651.5zM667.83 750.12H669.88V752.01H667.83zM684.17 750.12H686.21V752.01H684.17zM716.83 750.12H718.88V752.01H716.83zM782.17 750.12H784.21V752.01H782.17zM790.33 750.12H792.38V752.01H790.33zM671.92 753.9H673.96V755.79H671.92zM692.33 753.9H694.38V755.79H692.33zM774 753.9H776.04V755.79H774zM759.71 755.79H761.75V757.68H759.71zM712.75 757.68H714.79V759.58H712.75zM729.08 757.68H731.12V759.58H729.08zM771.96 757.68H776.04V759.58H771.96zM778.08 757.68H780.12V759.58H778.08zM710.71 759.58H712.75V761.47H710.71zM725 761.47H727.04V763.36H725zM759.71 761.47H761.75V763.36H759.71zM774 761.47H776.04V763.36H774zM680.08 763.36H682.12V765.25H680.08zM651.5 765.25H653.54V767.14H651.5zM655.58 765.25H657.62V767.14H655.58zM700.5 765.25H702.54V767.14H700.5zM708.67 765.25H710.71V767.14H708.67zM782.17 765.25H784.21V767.14H782.17zM765.83 767.14H767.88V769.03H765.83zM667.83 769.03H669.88V770.92H667.83zM676 769.03H678.04V770.92H676zM692.33 769.03H694.38V770.92H692.33zM720.92 769.03H722.96V770.92H720.92zM725 769.03H727.04V770.92H725zM749.5 769.03H751.54V770.92H749.5zM771.96 769.03H774V770.92H771.96zM794.42 769.03H796.46V770.92H794.42zM751.54 770.92H753.58V772.82H751.54zM776.04 770.92H778.08V772.82H776.04zM651.5 772.82H653.54V774.71H651.5zM655.58 772.82H657.62V774.71H655.58zM684.17 772.82H686.21V774.71H684.17zM761.75 772.82H763.79V774.71H761.75zM765.83 772.82H767.88V774.71H765.83zM769.92 772.82H771.96V774.71H769.92zM776.04 772.82H778.08V774.71H776.04zM790.33 772.82H792.38V774.71H790.33zM763.79 774.71H765.83V776.6H763.79z"/>
<path fill="#0040ff" d="M733.17 640.4H735.21V642.29H733.17zM704.58 642.29H706.62V644.18H704.58zM676 644.18H678.04V646.07H676zM704.58 644.18H706.62V646.07H704.58zM733.17 644.18H735.21V646.07H733.17zM790.33 644.18H792.38V646.07H790.33zM655.58 647.97H657.62V649.86H655.58zM690.29 647.97H692.33V649.86H690.29zM692.33 649.86H694.38V651.75H692.33zM692.33 651.75H694.38V653.64H692.33zM729.08 651.75H731.12V653.64H729.08zM769.92 651.75H771.96V653.64H769.92zM786.25 651.75H788.29V653.64H786.25zM706.62 655.53H708.67V657.42H706.62zM741.33 655.53H743.38V657.42H741.33zM769.92 655.53H771.96V657.42H769.92zM710.71 657.42H714.79V659.32H710.71zM720.92 659.32H722.96V661.21H720.92zM774 659.32H776.04V661.21H774zM676 663.1H678.04V664.99H676zM686.21 663.1H688.25V664.99H686.21zM753.58 663.1H755.62V664.99H753.58zM761.75 663.1H763.79V664.99H761.75zM686.21 664.99H688.25V666.88H686.21zM688.25 666.88H690.29V668.77H688.25zM737.25 666.88H739.29V668.77H737.25zM751.54 666.88H755.62V668.77H751.54zM765.83 666.88H767.88V668.77H765.83zM794.42 666.88H796.46V668.77H794.42zM704.58 668.77H706.62V670.67H704.58zM676 670.67H678.04V672.56H676zM704.58 670.67H706.62V672.56H704.58zM708.67 670.67H710.71V672.56H708.67zM765.83 670.67H767.88V672.56H765.83zM790.33 670.67H792.38V672.56H790.33zM667.83 674.45H669.88V676.34H667.83zM684.17 674.45H686.21V676.34H684.17zM735.21 674.45H737.25V676.34H735.21zM769.92 674.45H771.96V676.34H769.92zM794.42 674.45H796.46V676.34H794.42zM673.96 676.34H676V678.23H673.96zM778.08 676.34H780.12V678.23H778.08zM757.67 678.23H759.71V680.12H757.67zM765.83 678.23H767.88V680.12H765.83zM718.88 680.12H720.92V682.02H718.88zM667.83 682.02H669.88V683.91H667.83zM696.42 682.02H698.46V683.91H696.42zM720.92 682.02H722.96V683.91H720.92zM745.42 682.02H747.46V683.91H745.42zM753.58 682.02H755.62V683.91H753.58zM778.08 682.02H780.12V683.91H778.08zM663.75 685.8H665.79V687.69H663.75zM720.92 685.8H722.96V687.69H720.92zM725 685.8H727.04V687.69H725zM753.58 685.8H755.62V687.69H753.58zM765.83 685.8H767.88V687.69H765.83zM653.54 689.58H655.58V691.48H653.54zM700.5 689.58H702.54V691.48H700.5zM769.92 689.58H771.96V691.48H769.92zM790.33 689.58H792.38V691.48H790.33zM731.12 691.48H733.17V693.37H731.12zM680.08 693.37H682.12V695.26H680.08zM725 697.15H727.04V699.04H725zM733.17 697.15H735.21V699.04H733.17zM737.25 697.15H739.29V699.04H737.25zM749.5 697.15H751.54V699.04H749.5zM676 700.93H678.04V702.83H676zM720.92 700.93H722.96V702.83H720.92zM778.08 700.93H780.12V702.83H778.08zM663.75 702.83H665.79V704.72H663.75zM655.58 704.72H657.62V706.61H655.58zM659.67 704.72H661.71V706.61H659.67zM700.5 704.72H702.54V706.61H700.5zM753.58 704.72H755.62V706.61H753.58zM782.17 704.72H784.21V706.61H782.17zM655.58 708.5H657.62V710.39H655.58zM663.75 708.5H665.79V710.39H663.75zM671.92 708.5H673.96V710.39H671.92zM712.75 708.5H714.79V710.39H712.75zM716.83 708.5H718.88V710.39H716.83zM720.92 708.5H722.96V710.39H720.92zM725 708.5H727.04V710.39H725zM651.5 712.28H653.54V714.17H651.5zM676 712.28H678.04V714.17H676zM680.08 712.28H682.12V714.17H680.08zM688.25 712.28H690.29V714.17H688.25zM714.79 712.28H716.83V714.17H714.79zM757.67 712.28H759.71V714.17H757.67zM782.17 712.28H784.21V714.17H782.17zM706.62 714.17H708.67V716.07H706.62zM659.67 716.07H661.71V717.96H659.67zM720.92 716.07H722.96V717.96H720.92zM751.54 716.07H753.58V717.96H751.54zM757.67 716.07H759.71V717.96H757.67zM778.08 716.07H780.12V717.96H778.08zM718.88 717.96H720.92V719.85H718.88zM729.08 717.96H731.12V719.85H729.08zM651.5 719.85H653.54V721.74H651.5zM684.17 719.85H686.21V721.74H684.17zM712.75 719.85H714.79V721.74H712.75zM720.92 719.85H722.96V721.74H720.92zM757.67 719.85H759.71V721.74H757.67zM712.75 721.74H714.79V723.63H712.75zM655.58 723.63H657.62V725.52H655.58zM704.58 723.63H706.62V725.52H704.58zM725 723.63H727.04V725.52H725zM704.58 725.52H706.62V727.42H704.58zM708.67 725.52H710.71V727.42H708.67zM663.75 727.42H665.79V729.31H663.75zM698.46 727.42H700.5V729.31H698.46zM733.17 727.42H735.21V729.31H733.17zM698.46 729.31H700.5V731.2H698.46zM655.58 733.09H657.62V734.98H655.58zM671.92 734.98H673.96V736.88H671.92zM680.08 734.98H682.12V736.88H680.08zM737.25 734.98H739.29V736.88H737.25zM745.42 734.98H747.46V736.88H745.42zM774 734.98H776.04V736.88H774zM696.42 736.88H698.46V738.77H696.42zM690.29 738.77H694.38V740.66H690.29zM778.08 738.77H780.12V740.66H778.08zM794.42 738.77H796.46V740.66H794.42zM676 740.66H678.04V742.55H676zM708.67 740.66H710.71V742.55H708.67zM655.58 742.55H657.62V744.44H655.58zM716.83 742.55H718.88V744.44H716.83zM749.5 742.55H751.54V744.44H749.5zM769.92 742.55H771.96V744.44H769.92zM778.08 742.55H780.12V744.44H778.08zM676 744.44H678.04V746.33H676zM659.67 746.33H661.71V748.23H659.67zM702.54 746.33H704.58V748.23H702.54zM741.33 746.33H743.38V748.23H741.33zM761.75 746.33H763.79V748.23H761.75zM782.17 746.33H784.21V748.23H782.17zM769.92 750.12H771.96V752.01H769.92zM696.42 753.9H698.46V755.79H696.42zM720.92 753.9H722.96V755.79H720.92zM757.67 753.9H759.71V755.79H757.67zM765.83 753.9H767.88V755.79H765.83zM680.08 757.68H682.12V759.58H680.08zM741.33 757.68H743.38V759.58H741.33zM753.58 757.68H755.62V759.58H753.58zM757.67 757.68H759.71V759.58H757.67zM765.83 757.68H767.88V759.58H765.83zM763.79 759.58H765.83V761.47H763.79zM659.67 761.47H661.71V763.36H659.67zM663.75 761.47H665.79V763.36H663.75zM684.17 761.47H686.21V763.36H684.17zM696.42 761.47H698.46V763.36H696.42zM676 767.14H678.04V769.03H676zM671.92 769.03H673.96V770.92H671.92zM708.67 769.03H710.71V770.92H708.67zM733.17 769.03H735.21V770.92H733.17zM774 770.92H776.04V772.82H774zM663.75 772.82H665.79V774.71H663.75zM667.83 772.82H669.88V774.71H667.83zM753.58 772.82H755.62V774.71H753.58zM757.67 772.82H759.71V774.71H757.67zM771.96 772.82H774V774.71H771.96zM782.17 772.82H784.21V774.71H782.17z"/>
<path fill="#0059ff" d="M663.75 640.4H665.79V642.29H663.75zM676 640.4H678.04V642.29H676zM708.67 640.4H710.71V642.29H708.67zM720.92 640.4H722.96V642.29H720.92zM684.17 644.18H686.21V646.07H684.17zM720.92 644.18H722.96V646.07H720.92zM692.33 647.97H694.38V649.86H692.33zM725 647.97H727.04V649.86H725zM729.08 647.97H731.12V649.86H729.08zM741.33 647.97H743.38V649.86H741.33zM774 647.97H776.04V649.86H774zM716.83 651.75H718.88V653.64H716.83zM688.25 655.53H690.29V657.42H688.25zM667.83 659.32H669.88V661.21H667.83zM737.25 659.32H739.29V661.21H737.25zM769.92 659.32H771.96V661.21H769.92zM686.21 661.21H688.25V663.1H686.21zM743.38 661.21H745.42V663.1H743.38zM655.58 663.1H657.62V664.99H655.58zM729.08 663.1H731.12V664.99H729.08zM688.25 664.99H690.29V666.88H688.25zM694.38 664.99H696.42V666.88H694.38zM651.5 666.88H653.54V668.77H651.5zM659.67 666.88H661.71V668.77H659.67zM761.75 666.88H763.79V668.77H761.75zM774 666.88H776.04V668.77H774zM655.58 670.67H657.62V672.56H655.58zM671.92 670.67H673.96V672.56H671.92zM725 670.67H727.04V672.56H725zM733.17 670.67H735.21V672.56H733.17zM757.67 670.67H759.71V672.56H757.67zM651.5 674.45H653.54V676.34H651.5zM716.83 674.45H718.88V676.34H716.83zM725 674.45H727.04V676.34H725zM671.92 678.23H673.96V680.12H671.92zM737.25 678.23H739.29V680.12H737.25zM774 678.23H776.04V680.12H774zM765.83 682.02H767.88V683.91H765.83zM667.83 685.8H669.88V687.69H667.83zM700.5 685.8H702.54V687.69H700.5zM729.08 685.8H731.12V687.69H729.08zM757.67 685.8H759.71V687.69H757.67zM655.58 689.58H657.62V691.48H655.58zM667.83 689.58H669.88V691.48H667.83zM733.17 689.58H735.21V691.48H733.17zM725 693.37H727.04V695.26H725zM720.92 697.15H722.96V699.04H720.92zM673.96 700.93H676V702.83H673.96zM729.08 700.93H731.12V702.83H729.08zM753.58 700.93H755.62V702.83H753.58zM663.75 704.72H665.79V706.61H663.75zM684.17 704.72H686.21V706.61H684.17zM692.33 708.5H694.38V710.39H692.33zM786.25 708.5H788.29V710.39H786.25zM737.25 710.39H739.29V712.28H737.25zM733.17 712.28H735.21V714.17H733.17zM667.83 716.07H669.88V717.96H667.83zM680.08 716.07H682.12V717.96H680.08zM708.67 716.07H710.71V717.96H708.67zM696.42 719.85H698.46V721.74H696.42zM708.67 719.85H710.71V721.74H708.67zM737.25 719.85H739.29V721.74H737.25zM753.58 719.85H755.62V721.74H753.58zM680.08 723.63H682.12V725.52H680.08zM727.04 723.63H729.08V725.52H727.04zM782.17 723.63H784.21V725.52H782.17zM659.67 727.42H661.71V729.31H659.67zM692.33 727.42H694.38V729.31H692.33zM659.67 731.2H661.71V733.09H659.67zM716.83 731.2H718.88V733.09H716.83zM769.92 731.2H771.96V733.09H769.92zM790.33 734.98H792.38V736.88H790.33zM655.58 738.77H657.62V740.66H655.58zM716.83 738.77H718.88V740.66H716.83zM729.08 738.77H731.12V740.66H729.08zM753.58 738.77H755.62V740.66H753.58zM702.54 740.66H704.58V742.55H702.54zM659.67 742.55H661.71V744.44H659.67zM712.75 742.55H714.79V744.44H712.75zM663.75 746.33H665.79V748.23H663.75zM692.33 746.33H694.38V748.23H692.33zM700.5 746.33H702.54V748.23H700.5zM753.58 750.12H755.62V752.01H753.58zM757.67 750.12H759.71V752.01H757.67zM684.17 753.9H686.21V755.79H684.17zM761.75 753.9H763.79V755.79H761.75zM769.92 753.9H771.96V755.79H769.92zM786.25 753.9H788.29V755.79H786.25zM767.88 755.79H769.92V757.68H767.88zM794.42 757.68H796.46V759.58H794.42zM761.75 759.58H763.79V761.47H761.75zM737.25 761.47H739.29V763.36H737.25zM745.42 761.47H747.46V763.36H745.42zM692.33 765.25H694.38V767.14H692.33zM759.71 769.03H761.75V770.92H759.71zM774 769.03H776.04V770.92H774zM778.08 769.03H780.12V770.92H778.08zM790.33 769.03H792.38V770.92H790.33zM716.83 772.82H718.88V774.71H716.83z"/>
<path fill="#0072ff" d="M745.42 640.4H747.46V642.29H745.42zM671.92 647.97H673.96V649.86H671.92zM733.17 647.97H735.21V649.86H733.17zM663.75 651.75H665.79V653.64H663.75zM704.58 651.75H706.62V653.64H704.58zM753.58 651.75H755.62V653.64H753.58zM696.42 655.53H698.46V657.42H696.42zM704.58 655.53H706.62V657.42H704.58zM794.42 655.53H796.46V657.42H794.42zM651.5 659.32H653.54V661.21H651.5zM680.08 659.32H682.12V661.21H680.08zM684.17 663.1H686.21V664.99H684.17zM786.25 663.1H788.29V664.99H786.25zM680.08 670.67H682.12V672.56H680.08zM729.08 670.67H731.12V672.56H729.08zM659.67 674.45H661.71V676.34H659.67zM663.75 678.23H665.79V680.12H663.75zM700.5 678.23H702.54V680.12H700.5zM720.92 678.23H722.96V680.12H720.92zM741.33 678.23H743.38V680.12H741.33zM743.38 682.02H745.42V683.91H743.38zM676 685.8H678.04V687.69H676zM684.17 685.8H686.21V687.69H684.17zM704.58 689.58H706.62V691.48H704.58zM737.25 689.58H739.29V691.48H737.25zM753.58 689.58H755.62V691.48H753.58zM657.62 693.37H659.67V695.26H657.62zM712.75 693.37H714.79V695.26H712.75zM769.92 693.37H771.96V695.26H769.92zM761.75 700.93H763.79V702.83H761.75zM692.33 704.72H694.38V706.61H692.33zM729.08 704.72H731.12V706.61H729.08zM680.08 708.5H682.12V710.39H680.08zM696.42 708.5H698.46V710.39H696.42zM733.17 708.5H735.21V710.39H733.17zM761.75 712.28H763.79V714.17H761.75zM680.08 719.85H682.12V721.74H680.08zM700.5 719.85H702.54V721.74H700.5zM716.83 719.85H718.88V721.74H716.83zM774 719.85H776.04V721.74H774zM710.71 721.74H712.75V723.63H710.71zM729.08 723.63H731.12V725.52H729.08zM741.33 727.42H743.38V729.31H741.33zM753.58 727.42H755.62V729.31H753.58zM655.58 731.2H657.62V733.09H655.58zM737.25 731.2H739.29V733.09H737.25zM659.67 738.77H661.71V740.66H659.67zM757.67 738.77H759.71V740.66H757.67zM696.42 746.33H698.46V748.23H696.42zM745.42 746.33H747.46V748.23H745.42zM659.67 750.12H661.71V752.01H659.67zM667.83 757.68H669.88V759.58H667.83zM745.42 757.68H747.46V759.58H745.42zM667.83 761.47H669.88V763.36H667.83zM733.17 761.47H735.21V763.36H733.17zM753.58 761.47H755.62V763.36H753.58zM749.5 765.25H751.54V767.14H749.5zM757.67 769.03H759.71V770.92H757.67z"/>
<path fill="#008bff" d="M651.5 640.4H653.54V642.29H651.5zM684.17 655.53H686.21V657.42H684.17zM692.33 655.53H694.38V657.42H692.33zM712.75 663.1H714.79V664.99H712.75zM757.67 663.1H759.71V664.99H757.67zM782.17 663.1H784.21V664.99H782.17zM700.5 666.88H702.54V668.77H700.5zM667.83 670.67H669.88V672.56H667.83zM696.42 670.67H698.46V672.56H696.42zM688.25 685.8H690.29V687.69H688.25zM733.17 685.8H735.21V687.69H733.17zM737.25 693.37H739.29V695.26H737.25zM749.5 693.37H751.54V695.26H749.5zM761.75 693.37H763.79V695.26H761.75zM671.92 697.15H673.96V699.04H671.92zM786.25 697.15H788.29V699.04H786.25zM663.75 699.04H665.79V700.93H663.75zM663.75 700.93H665.79V702.83H663.75zM790.33 700.93H792.38V702.83H790.33zM753.58 708.5H755.62V710.39H753.58zM700.5 712.28H702.54V714.17H700.5zM778.08 712.28H780.12V714.17H778.08zM692.33 716.07H694.38V717.96H692.33zM655.58 719.85H657.62V721.74H655.58zM790.33 719.85H792.38V721.74H790.33zM700.5 727.42H702.54V729.31H700.5zM757.67 731.2H759.71V733.09H757.67zM761.75 731.2H763.79V733.09H761.75zM733.17 734.98H735.21V736.88H733.17zM794.42 734.98H796.46V736.88H794.42zM667.83 738.77H669.88V740.66H667.83zM692.33 742.55H694.38V744.44H692.33zM729.08 742.55H731.12V744.44H729.08zM757.67 742.55H759.71V744.44H757.67zM684.17 746.33H686.21V748.23H684.17zM692.33 750.12H694.38V752.01H692.33zM700.5 750.12H702.54V752.01H700.5zM700.5 753.9H702.54V755.79H700.5zM651.5 761.47H653.54V763.36H651.5zM720.92 765.25H722.96V767.14H720.92zM688.25 772.82H690.29V774.71H688.25z"/>
<path fill="#00a4ff" d="M684.17 647.97H686.21V649.86H684.17zM716.83 647.97H718.88V649.86H716.83zM700.5 651.75H702.54V653.64H700.5zM774 651.75H776.04V653.64H774zM765.83 655.53H767.88V657.42H765.83zM663.75 659.32H665.79V661.21H663.75zM741.33 659.32H743.38V661.21H741.33zM680.08 663.1H682.12V664.99H680.08zM778.08 666.88H780.12V668.77H778.08zM778.08 670.67H780.12V672.56H778.08zM708.67 682.02H710.71V683.91H708.67zM737.25 682.02H739.29V683.91H737.25zM745.42 689.58H747.46V691.48H745.42zM761.75 689.58H763.79V691.48H761.75zM663.75 693.37H665.79V695.26H663.75zM729.08 693.37H731.12V695.26H729.08zM774 704.72H776.04V706.61H774zM700.5 708.5H702.54V710.39H700.5zM663.75 712.28H665.79V714.17H663.75zM663.75 716.07H665.79V717.96H663.75zM725 716.07H727.04V717.96H725zM688.25 723.63H690.29V725.52H688.25zM696.42 723.63H698.46V725.52H696.42zM692.33 734.98H694.38V736.88H692.33zM700.5 742.55H702.54V744.44H700.5zM708.67 742.55H710.71V744.44H708.67zM753.58 746.33H755.62V748.23H753.58zM663.75 750.12H665.79V752.01H663.75zM659.67 753.9H661.71V755.79H659.67zM667.83 753.9H669.88V755.79H667.83zM761.75 757.68H763.79V759.58H761.75zM765.83 765.25H767.88V767.14H765.83zM651.5 769.03H653.54V770.92H651.5zM782.17 769.03H784.21V770.92H782.17zM786.25 772.82H788.29V774.71H786.25z"/>
<path fill="#00beff" d="M680.08 640.4H682.12V642.29H680.08zM753.58 640.4H755.62V642.29H753.58zM680.08 647.97H682.12V649.86H680.08zM712.75 655.53H714.79V657.42H712.75zM749.5 655.53H751.54V657.42H749.5zM704.58 659.32H706.62V661.21H704.58zM696.42 663.1H698.46V664.99H696.42zM741.33 663.1H743.38V664.99H741.33zM774 663.1H776.04V664.99H774zM692.33 666.88H694.38V668.77H692.33zM741.33 666.88H743.38V668.77H741.33zM745.42 670.67H747.46V672.56H745.42zM769.92 670.67H771.96V672.56H769.92zM720.92 674.45H722.96V676.34H720.92zM761.75 678.23H763.79V680.12H761.75zM769.92 678.23H771.96V680.12H769.92zM778.08 678.23H780.12V680.12H778.08zM676 682.02H678.04V683.91H676zM704.58 682.02H706.62V683.91H704.58zM794.42 685.8H796.46V687.69H794.42zM663.75 689.58H665.79V691.48H663.75zM671.92 689.58H673.96V691.48H671.92zM680.08 689.58H682.12V691.48H680.08zM712.75 689.58H714.79V691.48H712.75zM659.67 693.37H661.71V695.26H659.67zM655.58 697.15H657.62V699.04H655.58zM667.83 700.93H669.88V702.83H667.83zM680.08 700.93H682.12V702.83H680.08zM745.42 700.93H747.46V702.83H745.42zM725 704.72H727.04V706.61H725zM741.33 704.72H743.38V706.61H741.33zM659.67 708.5H661.71V710.39H659.67zM667.83 708.5H669.88V710.39H667.83zM708.67 712.28H710.71V714.17H708.67zM765.83 712.28H767.88V714.17H765.83zM671.92 716.07H673.96V717.96H671.92zM741.33 719.85H743.38V721.74H741.33zM684.17 731.2H686.21V733.09H684.17zM749.5 738.77H751.54V740.66H749.5zM671.92 742.55H673.96V744.44H671.92zM765.83 742.55H767.88V744.44H765.83zM712.75 746.33H714.79V748.23H712.75zM782.17 757.68H784.21V759.58H782.17zM790.33 761.47H792.38V763.36H790.33zM741.33 765.25H743.38V767.14H741.33zM757.67 765.25H759.71V767.14H757.67zM790.33 765.25H792.38V767.14H790.33zM704.58 769.03H706.62V770.92H704.58zM778.08 772.82H780.12V774.71H778.08zM794.42 772.82H796.46V774.71H794.42z"/>
<path fill="#00d7ff" d="M696.42 640.4H698.46V642.29H696.42zM704.58 640.4H706.62V642.29H704.58zM696.42 644.18H698.46V646.07H696.42zM708.67 647.97H710.71V649.86H708.67zM676 651.75H678.04V653.64H676zM749.5 651.75H751.54V653.64H749.5zM716.83 655.53H718.88V657.42H716.83zM765.83 659.32H767.88V661.21H765.83zM667.83 666.88H669.88V668.77H667.83zM737.25 670.67H739.29V672.56H737.25zM737.25 674.45H739.29V676.34H737.25zM745.42 674.45H747.46V676.34H745.42zM716.83 678.23H718.88V680.12H716.83zM745.42 685.8H747.46V687.69H745.42zM663.75 697.15H665.79V699.04H663.75zM688.25 697.15H690.29V699.04H688.25zM651.5 704.72H653.54V706.61H651.5zM676 704.72H678.04V706.61H676zM720.92 704.72H722.96V706.61H720.92zM741.33 708.5H743.38V710.39H741.33zM704.58 716.07H706.62V717.96H704.58zM741.33 716.07H743.38V717.96H741.33zM688.25 719.85H690.29V721.74H688.25zM765.83 719.85H767.88V721.74H765.83zM778.08 719.85H780.12V721.74H778.08zM708.67 727.42H710.71V729.31H708.67zM700.5 731.2H702.54V733.09H700.5zM729.08 734.98H731.12V736.88H729.08zM671.92 738.77H673.96V740.66H671.92zM712.75 738.77H714.79V740.66H712.75zM671.92 746.33H673.96V748.23H671.92zM680.08 746.33H682.12V748.23H680.08zM774 746.33H776.04V748.23H774zM790.33 753.9H792.38V755.79H790.33zM769.92 757.68H771.96V759.58H769.92zM761.75 765.25H763.79V767.14H761.75z"/>
<path fill="#00f0ff" d="M778.08 651.75H780.12V653.64H778.08zM688.25 663.1H690.29V664.99H688.25zM696.42 666.88H698.46V668.77H696.42zM700.5 670.67H702.54V672.56H700.5zM676 674.45H678.04V676.34H676zM696.42 674.45H698.46V676.34H696.42zM684.17 678.23H686.21V680.12H684.17zM655.58 693.37H657.62V695.26H655.58zM676 697.15H678.04V699.04H676zM729.08 708.5H731.12V710.39H729.08zM688.25 716.07H690.29V717.96H688.25zM733.17 716.07H735.21V717.96H733.17zM696.42 727.42H698.46V729.31H696.42zM712.75 727.42H714.79V729.31H712.75z"/>
<path fill="#0afff5" d="M688.25 647.97H690.29V649.86H688.25zM712.75 651.75H714.79V653.64H712.75zM696.42 659.32H698.46V661.21H696.42zM692.33 670.67H694.38V672.56H692.33zM651.5 697.15H653.54V699.04H651.5zM684.17 700.93H686.21V702.83H684.17zM720.92 712.28H722.96V714.17H720.92zM712.75 723.63H714.79V725.52H712.75zM704.58 727.42H706.62V729.31H704.58zM700.5 734.98H702.54V736.88H700.5zM761.75 750.12H763.79V752.01H761.75zM749.5 757.68H751.54V759.58H749.5z"/>
<path fill="#23ffdc" d="M708.67 666.88H710.71V668.77H708.67zM720.92 666.88H722.96V668.77H720.92zM680.08 678.23H682.12V680.12H680.08zM671.92 685.8H673.96V687.69H671.92zM700.5 738.77H702.54V740.66H700.5zM769.92 761.47H771.96V763.36H769.92z"/>
<path fill="#3cffc3" d="M700.5 659.32H702.54V661.21H700.5zM671.92 693.37H673.96V695.26H671.92zM729.08 719.85H731.12V721.74H729.08zM700.5 723.63H702.54V725.52H700.5zM716.83 727.42H718.88V729.31H716.83zM708.67 731.2H710.71V733.09H708.67zM761.75 761.47H763.79V763.36H761.75z"/>
<path fill="#55ffaa" d="M692.33 640.4H694.38V642.29H692.33zM684.17 727.42H686.21V729.31H684.17zM688.25 731.2H690.29V733.09H688.25zM696.42 734.98H698.46V736.88H696.42zM696.42 738.77H698.46V740.66H696.42zM765.83 761.47H767.88V763.36H765.83z"/>
</g>
<g><text x="4.3" y="32" font-size="25" font-weight="bold">a</text>
<text x="89.3" y="22.2" font-size="17" textLength="39.5" lengthAdjust="spacing">Input</text>
<text x="170" y="130.8" font-size="17" textLength="25.5" lengthAdjust="spacing">x-P</text>
<text x="335" y="111.3" font-size="17" textLength="24.5" lengthAdjust="spacing">y-P</text>
<text x="475.3" y="111.6" font-size="17" textLength="26" lengthAdjust="spacing">y-P</text>
<text x="650.8" y="150.4" font-size="17" textLength="26.5" lengthAdjust="spacing">x-P</text>
<text x="745.8" y="73.5" font-size="17" textLength="54.5" lengthAdjust="spacing">Output</text>
<text x="226" y="283.6" font-size="17" textLength="99.5" lengthAdjust="spacing">Meta-layer 1</text>
<text x="528.2" y="281.9" font-size="17" textLength="100" lengthAdjust="spacing">Meta-layer n</text>
<text x="2.5" y="368.8" font-size="25" font-weight="bold">b</text>
<text x="153.6" y="343.4" font-size="19.5" textLength="46" lengthAdjust="spacing">Input</text>
<text x="297.6" y="343.4" font-size="19.5" textLength="118.5" lengthAdjust="spacing">Target output</text>
<text x="491" y="341.3" font-size="19.5" textLength="90.7" lengthAdjust="spacing">PO output</text>
<text x="666" y="343.1" font-size="19.5" textLength="100.7" lengthAdjust="spacing">FFC output</text>
<text x="505.2" y="388.6" font-size="17" textLength="64" lengthAdjust="spacing" fill="#b92222">21.7197</text>
<text x="684.8" y="388.6" font-size="17" textLength="65.7" lengthAdjust="spacing" fill="#b92222">24.4853</text>
<text x="814.5" y="368.8" font-size="16.5">1</text>
<text x="814.2" y="414.3" font-size="16.5">0</text>
<text x="29.5" y="472.4" font-size="19.5" textLength="56" lengthAdjust="spacing" font-weight="bold" fill="#27b24d">4 HLs</text>
<text x="3" y="583.4" font-size="25" font-weight="bold">c</text>
<text x="157.7" y="606.8" font-size="19.5" textLength="45.5" lengthAdjust="spacing">Input</text>
<text x="302.7" y="608.2" font-size="19.5" textLength="117.5" lengthAdjust="spacing">Target output</text>
<text x="480.2" y="606.5" font-size="19.5" textLength="134" lengthAdjust="spacing">Nonlinear FFC</text>
<text x="514.8" y="627.8" font-size="17" textLength="65.5" lengthAdjust="spacing" fill="#b92222">24.9485</text>
<text x="672.3" y="606.3" font-size="19.5" textLength="103.5" lengthAdjust="spacing">Free space</text>
<text x="30.3" y="704.6" font-size="19.5" textLength="55.5" lengthAdjust="spacing" font-weight="bold" fill="#27b24d">5 HLs</text></g>
</svg>
</body></html>
